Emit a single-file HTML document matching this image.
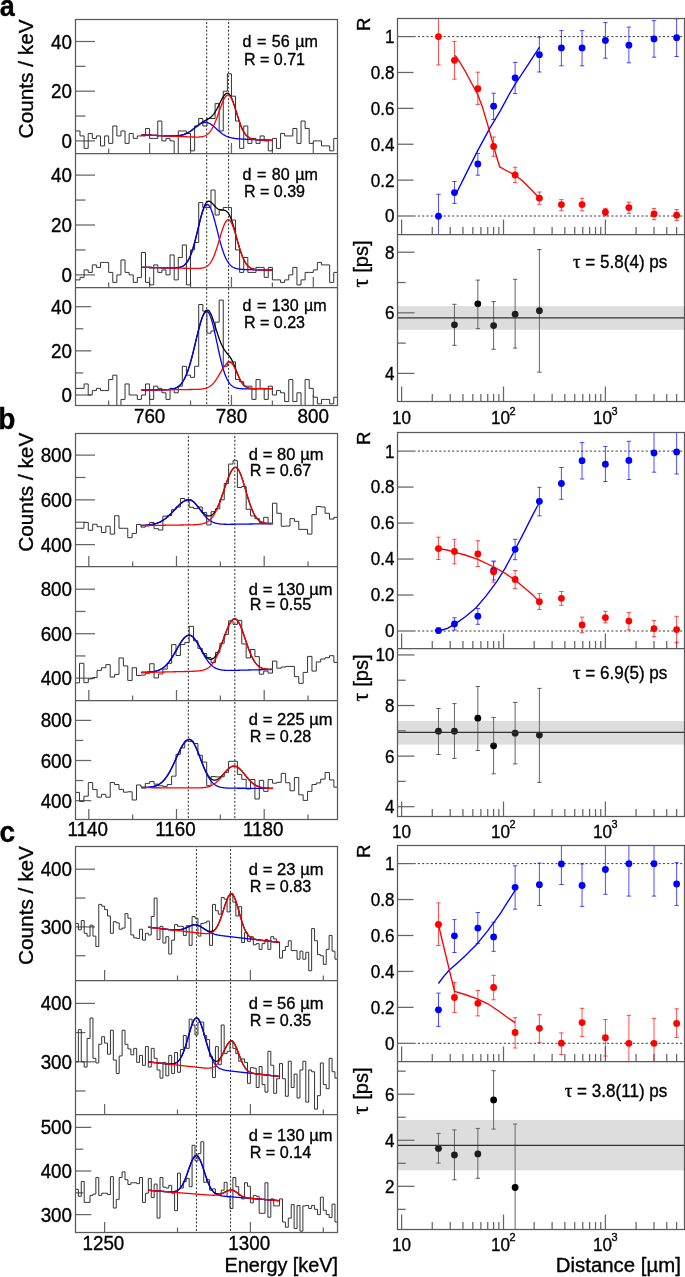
<!DOCTYPE html>
<html><head><meta charset="utf-8"><style>
html,body{margin:0;padding:0;background:#fff;overflow:hidden;}
svg{display:block;font-family:"Liberation Sans", sans-serif;}
text{stroke:#000;stroke-width:0.35px;paint-order:stroke;}
#t{position:absolute;left:0;top:0;will-change:transform;}
</style></head><body>
<svg width="685" height="1277" viewBox="0 0 685 1277">
<rect width="685" height="1277" fill="#fff"/>
<g id="left-a">
<line x1="206.69" y1="20" x2="206.69" y2="405" stroke="#111" stroke-width="0.9" stroke-dasharray="2,1.8" stroke-dashoffset="1.73"/>
<line x1="228.59" y1="20" x2="228.59" y2="405" stroke="#111" stroke-width="0.9" stroke-dasharray="2,1.8" stroke-dashoffset="1.73"/>
<clipPath id="cp-a0"><rect x="75.5" y="19.5" width="262.0" height="134.0"/></clipPath>
<line x1="75.5" y1="140.9" x2="95" y2="140.9" stroke="#666" stroke-width="1.25" />
<line x1="75.5" y1="91.2" x2="95" y2="91.2" stroke="#666" stroke-width="1.25" />
<line x1="75.5" y1="41.5" x2="95" y2="41.5" stroke="#666" stroke-width="1.25" />
<line x1="75.5" y1="116.05" x2="85.5" y2="116.05" stroke="#666" stroke-width="1.25" />
<line x1="75.5" y1="66.35" x2="85.5" y2="66.35" stroke="#666" stroke-width="1.25" />
<line x1="149.6" y1="153.5" x2="149.6" y2="143" stroke="#666" stroke-width="1.25" />
<line x1="231.45" y1="153.5" x2="231.45" y2="143" stroke="#666" stroke-width="1.25" />
<line x1="313.3" y1="153.5" x2="313.3" y2="143" stroke="#666" stroke-width="1.25" />
<line x1="108.67" y1="153.5" x2="108.67" y2="148.5" stroke="#666" stroke-width="1.25" />
<line x1="190.53" y1="153.5" x2="190.53" y2="148.5" stroke="#666" stroke-width="1.25" />
<line x1="272.38" y1="153.5" x2="272.38" y2="148.5" stroke="#666" stroke-width="1.25" />
<path d="M75.93,130.96 L80.03,130.96 L80.03,135.93 L84.12,135.93 L84.12,148.36 L88.21,148.36 L88.21,133.44 L92.3,133.44 L92.3,138.41 L96.4,138.41 L96.4,135.93 L100.49,135.93 L100.49,145.87 L104.58,145.87 L104.58,135.93 L108.67,135.93 L108.67,143.39 L112.77,143.39 L112.77,125.99 L116.86,125.99 L116.86,135.93 L120.95,135.93 L120.95,130.96 L125.04,130.96 L125.04,143.39 L129.14,143.39 L129.14,133.44 L133.23,133.44 L133.23,138.41 L137.32,138.41 L137.32,135.93 L141.41,135.93 L141.41,135.93 L145.51,135.93 L145.51,128.47 L149.6,128.47 L149.6,138.41 L153.69,138.41 L153.69,138.41 L157.78,138.41 L157.78,121.02 L161.88,121.02 L161.88,140.9 L165.97,140.9 L165.97,138.41 L170.06,138.41 L170.06,140.9 L174.16,140.9 L174.16,155.81 L178.25,155.81 L178.25,130.96 L182.34,130.96 L182.34,130.96 L186.43,130.96 L186.43,133.44 L190.53,133.44 L190.53,150.84 L194.62,150.84 L194.62,125.99 L198.71,125.99 L198.71,118.53 L202.8,118.53 L202.8,125.99 L206.89,125.99 L206.89,118.53 L210.99,118.53 L210.99,118.53 L215.08,118.53 L215.08,103.62 L219.17,103.62 L219.17,130.96 L223.26,130.96 L223.26,91.2 L227.36,91.2 L227.36,73.81 L231.45,73.81 L231.45,96.17 L235.54,96.17 L235.54,121.02 L239.63,121.02 L239.63,148.36 L243.73,148.36 L243.73,125.99 L247.82,125.99 L247.82,143.39 L251.91,143.39 L251.91,138.41 L256,138.41 L256,143.39 L260.1,143.39 L260.1,135.93 L264.19,135.93 L264.19,140.9 L268.28,140.9 L268.28,150.84 L272.38,150.84 L272.38,138.41 L276.47,138.41 L276.47,148.36 L280.56,148.36 L280.56,133.44 L284.65,133.44 L284.65,135.93 L288.75,135.93 L288.75,135.93 L292.84,135.93 L292.84,128.47 L296.93,128.47 L296.93,143.39 L301.02,143.39 L301.02,121.02 L305.12,121.02 L305.12,128.47 L309.21,128.47 L309.21,143.39 L313.3,143.39 L313.3,140.9 L317.39,140.9 L317.39,140.9 L321.49,140.9 L321.49,145.87 L325.58,145.87 L325.58,145.87 L329.67,145.87 L329.67,150.84 L333.76,150.84 L333.76,138.41 L337.5,138.41" fill="none" stroke="#333" stroke-width="1" clip-path="url(#cp-a0)"/>
<g clip-path="url(#cp-a0)">
<polyline points="141.41,134.84 141.85,134.86 142.29,134.88 142.72,134.9 143.16,134.92 143.6,134.94 144.03,134.95 144.47,134.97 144.91,134.99 145.34,135.01 145.78,135.03 146.22,135.05 146.65,135.06 147.09,135.08 147.53,135.1 147.96,135.12 148.4,135.14 148.84,135.16 149.27,135.18 149.71,135.19 150.15,135.21 150.58,135.23 151.02,135.25 151.46,135.27 151.89,135.29 152.33,135.3 152.76,135.32 153.2,135.34 153.64,135.36 154.07,135.38 154.51,135.4 154.95,135.42 155.38,135.43 155.82,135.45 156.26,135.47 156.69,135.49 157.13,135.51 157.57,135.53 158,135.54 158.44,135.56 158.88,135.58 159.31,135.6 159.75,135.62 160.19,135.63 160.62,135.65 161.06,135.67 161.5,135.69 161.93,135.7 162.37,135.72 162.81,135.74 163.24,135.76 163.68,135.77 164.11,135.79 164.55,135.81 164.99,135.82 165.42,135.84 165.86,135.85 166.3,135.87 166.73,135.88 167.17,135.9 167.61,135.91 168.04,135.92 168.48,135.93 168.92,135.94 169.35,135.95 169.79,135.96 170.23,135.97 170.66,135.98 171.1,135.98 171.54,135.99 171.97,135.99 172.41,135.99 172.85,135.99 173.28,135.98 173.72,135.97 174.16,135.96 174.59,135.95 175.03,135.94 175.46,135.92 175.9,135.89 176.34,135.87 176.77,135.84 177.21,135.8 177.65,135.76 178.08,135.72 178.52,135.67 178.96,135.61 179.39,135.55 179.83,135.48 180.27,135.41 180.7,135.32 181.14,135.23 181.58,135.14 182.01,135.03 182.45,134.92 182.89,134.8 183.32,134.66 183.76,134.52 184.2,134.37 184.63,134.21 185.07,134.04 185.5,133.86 185.94,133.67 186.38,133.47 186.81,133.26 187.25,133.04 187.69,132.81 188.12,132.57 188.56,132.32 189,132.05 189.43,131.78 189.87,131.5 190.31,131.21 190.74,130.91 191.18,130.61 191.62,130.29 192.05,129.97 192.49,129.64 192.93,129.31 193.36,128.97 193.8,128.63 194.24,128.28 194.67,127.94 195.11,127.59 195.55,127.23 195.98,126.88 196.42,126.53 196.85,126.19 197.29,125.84 197.73,125.5 198.16,125.16 198.6,124.83 199.04,124.5 199.47,124.18 199.91,123.87 200.35,123.56 200.78,123.27 201.22,122.97 201.66,122.69 202.09,122.41 202.53,122.15 202.97,121.88 203.4,121.63 203.84,121.38 204.28,121.13 204.71,120.89 205.15,120.65 205.59,120.41 206.02,120.17 206.46,119.93 206.89,119.68 207.33,119.44 207.77,119.19 208.2,118.93 208.64,118.66 209.08,118.38 209.51,118.08 209.95,117.76 210.39,117.43 210.82,117.07 211.26,116.69 211.7,116.28 212.13,115.84 212.57,115.38 213.01,114.88 213.44,114.35 213.88,113.78 214.32,113.18 214.75,112.54 215.19,111.88 215.63,111.18 216.06,110.44 216.5,109.68 216.94,108.89 217.37,108.07 217.81,107.23 218.24,106.37 218.68,105.5 219.12,104.61 219.55,103.73 219.99,102.84 220.43,101.95 220.86,101.08 221.3,100.22 221.74,99.39 222.17,98.58 222.61,97.81 223.05,97.08 223.48,96.4 223.92,95.77 224.36,95.21 224.79,94.7 225.23,94.27 225.67,93.91 226.1,93.62 226.54,93.42 226.98,93.3 227.41,93.27 227.85,93.33 228.29,93.48 228.72,93.74 229.16,94.1 229.59,94.58 230.03,95.16 230.47,95.85 230.9,96.63 231.34,97.51 231.78,98.48 232.21,99.53 232.65,100.65 233.09,101.84 233.52,103.09 233.96,104.39 234.4,105.73 234.83,107.11 235.27,108.52 235.71,109.94 236.14,111.37 236.58,112.81 237.02,114.23 237.45,115.65 237.89,117.05 238.33,118.42 238.76,119.76 239.2,121.06 239.63,122.33 240.07,123.55 240.51,124.72 240.94,125.84 241.38,126.91 241.82,127.93 242.25,128.9 242.69,129.81 243.13,130.66 243.56,131.46 244,132.21 244.44,132.91 244.87,133.56 245.31,134.15 245.75,134.71 246.18,135.21 246.62,135.68 247.06,136.1 247.49,136.49 247.93,136.84 248.37,137.16 248.8,137.45 249.24,137.71 249.68,137.94 250.11,138.15 250.55,138.34 250.98,138.51 251.42,138.66 251.86,138.79 252.29,138.92 252.73,139.02 253.17,139.12 253.6,139.2 254.04,139.28 254.48,139.35 254.91,139.41 255.35,139.47 255.79,139.52 256.22,139.56 256.66,139.6 257.1,139.64 257.53,139.68 257.97,139.71 258.41,139.74 258.84,139.77 259.28,139.79 259.72,139.82 260.15,139.84 260.59,139.87 261.03,139.89 261.46,139.91 261.9,139.93 262.33,139.95 262.77,139.97 263.21,139.99 263.64,140.01 264.08,140.03 264.52,140.05 264.95,140.07 265.39,140.09 265.83,140.11 266.26,140.13 266.7,140.15 267.14,140.16 267.57,140.18 268.01,140.2 268.45,140.22 268.88,140.24 269.32,140.26 269.76,140.28 270.19,140.29 270.63,140.31 271.07,140.33 271.5,140.35 271.94,140.37 272.38,140.39" fill="none" stroke="#000" stroke-width="1.3" stroke-linejoin="round" />
<polyline points="141.41,134.84 141.85,134.86 142.29,134.88 142.72,134.9 143.16,134.92 143.6,134.94 144.03,134.95 144.47,134.97 144.91,134.99 145.34,135.01 145.78,135.03 146.22,135.05 146.65,135.06 147.09,135.08 147.53,135.1 147.96,135.12 148.4,135.14 148.84,135.16 149.27,135.18 149.71,135.19 150.15,135.21 150.58,135.23 151.02,135.25 151.46,135.27 151.89,135.29 152.33,135.3 152.76,135.32 153.2,135.34 153.64,135.36 154.07,135.38 154.51,135.4 154.95,135.42 155.38,135.43 155.82,135.45 156.26,135.47 156.69,135.49 157.13,135.51 157.57,135.53 158,135.54 158.44,135.56 158.88,135.58 159.31,135.6 159.75,135.62 160.19,135.63 160.62,135.65 161.06,135.67 161.5,135.69 161.93,135.7 162.37,135.72 162.81,135.74 163.24,135.76 163.68,135.77 164.11,135.79 164.55,135.81 164.99,135.82 165.42,135.84 165.86,135.85 166.3,135.87 166.73,135.88 167.17,135.9 167.61,135.91 168.04,135.92 168.48,135.93 168.92,135.94 169.35,135.95 169.79,135.96 170.23,135.97 170.66,135.98 171.1,135.98 171.54,135.99 171.97,135.99 172.41,135.99 172.85,135.99 173.28,135.98 173.72,135.97 174.16,135.96 174.59,135.95 175.03,135.94 175.46,135.92 175.9,135.89 176.34,135.87 176.77,135.84 177.21,135.8 177.65,135.76 178.08,135.72 178.52,135.67 178.96,135.61 179.39,135.55 179.83,135.48 180.27,135.41 180.7,135.32 181.14,135.24 181.58,135.14 182.01,135.03 182.45,134.92 182.89,134.8 183.32,134.66 183.76,134.52 184.2,134.37 184.63,134.21 185.07,134.04 185.5,133.86 185.94,133.67 186.38,133.47 186.81,133.26 187.25,133.04 187.69,132.81 188.12,132.57 188.56,132.32 189,132.06 189.43,131.79 189.87,131.51 190.31,131.22 190.74,130.92 191.18,130.62 191.62,130.31 192.05,129.99 192.49,129.66 192.93,129.33 193.36,129 193.8,128.66 194.24,128.33 194.67,127.99 195.11,127.65 195.55,127.31 195.98,126.97 196.42,126.64 196.85,126.31 197.29,125.98 197.73,125.66 198.16,125.36 198.6,125.06 199.04,124.77 199.47,124.49 199.91,124.23 200.35,123.98 200.78,123.74 201.22,123.53 201.66,123.33 202.09,123.14 202.53,122.98 202.97,122.84 203.4,122.72 203.84,122.62 204.28,122.54 204.71,122.48 205.15,122.45 205.59,122.44 206.02,122.45 206.46,122.49 206.89,122.55 207.33,122.64 207.77,122.76 208.2,122.9 208.64,123.06 209.08,123.25 209.51,123.46 209.95,123.69 210.39,123.94 210.82,124.22 211.26,124.51 211.7,124.82 212.13,125.14 212.57,125.48 213.01,125.83 213.44,126.19 213.88,126.56 214.32,126.94 214.75,127.33 215.19,127.72 215.63,128.11 216.06,128.51 216.5,128.91 216.94,129.31 217.37,129.71 217.81,130.11 218.24,130.5 218.68,130.88 219.12,131.26 219.55,131.64 219.99,132 220.43,132.36 220.86,132.71 221.3,133.05 221.74,133.38 222.17,133.69 222.61,134 223.05,134.29 223.48,134.58 223.92,134.85 224.36,135.11 224.79,135.36 225.23,135.6 225.67,135.82 226.1,136.04 226.54,136.24 226.98,136.44 227.41,136.62 227.85,136.79 228.29,136.95 228.72,137.1 229.16,137.25 229.59,137.38 230.03,137.51 230.47,137.63 230.9,137.74 231.34,137.84 231.78,137.94 232.21,138.03 232.65,138.11 233.09,138.19 233.52,138.26 233.96,138.33 234.4,138.4 234.83,138.45 235.27,138.51 235.71,138.56 236.14,138.61 236.58,138.66 237.02,138.7 237.45,138.74 237.89,138.78 238.33,138.82 238.76,138.85 239.2,138.88 239.63,138.91 240.07,138.94 240.51,138.97 240.94,139 241.38,139.02 241.82,139.05 242.25,139.07 242.69,139.1 243.13,139.12 243.56,139.14 244,139.16 244.44,139.19 244.87,139.21 245.31,139.23 245.75,139.25 246.18,139.27 246.62,139.29 247.06,139.31 247.49,139.33 247.93,139.35 248.37,139.37 248.8,139.38 249.24,139.4 249.68,139.42 250.11,139.44 250.55,139.46 250.98,139.48 251.42,139.5 251.86,139.52 252.29,139.54 252.73,139.55 253.17,139.57 253.6,139.59 254.04,139.61 254.48,139.63 254.91,139.65 255.35,139.67 255.79,139.68 256.22,139.7 256.66,139.72 257.1,139.74 257.53,139.76 257.97,139.78 258.41,139.8 258.84,139.81 259.28,139.83 259.72,139.85 260.15,139.87 260.59,139.89 261.03,139.91 261.46,139.92 261.9,139.94 262.33,139.96 262.77,139.98 263.21,140 263.64,140.02 264.08,140.04 264.52,140.05 264.95,140.07 265.39,140.09 265.83,140.11 266.26,140.13 266.7,140.15 267.14,140.16 267.57,140.18 268.01,140.2 268.45,140.22 268.88,140.24 269.32,140.26 269.76,140.28 270.19,140.29 270.63,140.31 271.07,140.33 271.5,140.35 271.94,140.37 272.38,140.39" fill="none" stroke="#0000ff" stroke-width="1.3" stroke-linejoin="round" />
<polyline points="141.41,134.84 141.85,134.86 142.29,134.88 142.72,134.9 143.16,134.92 143.6,134.94 144.03,134.95 144.47,134.97 144.91,134.99 145.34,135.01 145.78,135.03 146.22,135.05 146.65,135.06 147.09,135.08 147.53,135.1 147.96,135.12 148.4,135.14 148.84,135.16 149.27,135.18 149.71,135.19 150.15,135.21 150.58,135.23 151.02,135.25 151.46,135.27 151.89,135.29 152.33,135.3 152.76,135.32 153.2,135.34 153.64,135.36 154.07,135.38 154.51,135.4 154.95,135.42 155.38,135.43 155.82,135.45 156.26,135.47 156.69,135.49 157.13,135.51 157.57,135.53 158,135.54 158.44,135.56 158.88,135.58 159.31,135.6 159.75,135.62 160.19,135.64 160.62,135.66 161.06,135.67 161.5,135.69 161.93,135.71 162.37,135.73 162.81,135.75 163.24,135.77 163.68,135.79 164.11,135.8 164.55,135.82 164.99,135.84 165.42,135.86 165.86,135.88 166.3,135.9 166.73,135.91 167.17,135.93 167.61,135.95 168.04,135.97 168.48,135.99 168.92,136.01 169.35,136.03 169.79,136.04 170.23,136.06 170.66,136.08 171.1,136.1 171.54,136.12 171.97,136.14 172.41,136.15 172.85,136.17 173.28,136.19 173.72,136.21 174.16,136.23 174.59,136.25 175.03,136.27 175.46,136.28 175.9,136.3 176.34,136.32 176.77,136.34 177.21,136.36 177.65,136.38 178.08,136.39 178.52,136.41 178.96,136.43 179.39,136.45 179.83,136.47 180.27,136.49 180.7,136.51 181.14,136.52 181.58,136.54 182.01,136.56 182.45,136.58 182.89,136.6 183.32,136.62 183.76,136.63 184.2,136.65 184.63,136.67 185.07,136.69 185.5,136.71 185.94,136.73 186.38,136.74 186.81,136.76 187.25,136.78 187.69,136.8 188.12,136.82 188.56,136.83 189,136.85 189.43,136.87 189.87,136.89 190.31,136.9 190.74,136.92 191.18,136.94 191.62,136.95 192.05,136.97 192.49,136.98 192.93,137 193.36,137.01 193.8,137.02 194.24,137.04 194.67,137.05 195.11,137.06 195.55,137.06 195.98,137.07 196.42,137.07 196.85,137.07 197.29,137.07 197.73,137.06 198.16,137.05 198.6,137.04 199.04,137.02 199.47,136.99 199.91,136.96 200.35,136.92 200.78,136.88 201.22,136.82 201.66,136.76 202.09,136.68 202.53,136.59 202.97,136.49 203.4,136.38 203.84,136.25 204.28,136.1 204.71,135.93 205.15,135.74 205.59,135.53 206.02,135.3 206.46,135.04 206.89,134.75 207.33,134.43 207.77,134.08 208.2,133.7 208.64,133.29 209.08,132.83 209.51,132.35 209.95,131.82 210.39,131.25 210.82,130.64 211.26,129.98 211.7,129.28 212.13,128.54 212.57,127.76 213.01,126.92 213.44,126.05 213.88,125.13 214.32,124.17 214.75,123.17 215.19,122.12 215.63,121.04 216.06,119.93 216.5,118.79 216.94,117.61 217.37,116.42 217.81,115.2 218.24,113.97 218.68,112.73 219.12,111.48 219.55,110.24 219.99,109 220.43,107.78 220.86,106.58 221.3,105.4 221.74,104.25 222.17,103.15 222.61,102.09 223.05,101.09 223.48,100.14 223.92,99.26 224.36,98.45 224.79,97.71 225.23,97.06 225.67,96.49 226.1,96.01 226.54,95.62 226.98,95.33 227.41,95.14 227.85,95.04 228.29,95.05 228.72,95.17 229.16,95.41 229.59,95.77 230.03,96.25 230.47,96.83 230.9,97.53 231.34,98.32 231.78,99.21 232.21,100.18 232.65,101.24 233.09,102.37 233.52,103.57 233.96,104.82 234.4,106.12 234.83,107.45 235.27,108.82 235.71,110.21 236.14,111.61 236.58,113.02 237.02,114.42 237.45,115.82 237.89,117.19 238.33,118.55 238.76,119.87 239.2,121.16 239.63,122.41 240.07,123.62 240.51,124.79 240.94,125.9 241.38,126.97 241.82,127.98 242.25,128.94 242.69,129.84 243.13,130.69 243.56,131.49 244,132.23 244.44,132.93 244.87,133.57 245.31,134.17 245.75,134.72 246.18,135.22 246.62,135.69 247.06,136.11 247.49,136.49 247.93,136.84 248.37,137.16 248.8,137.45 249.24,137.71 249.68,137.94 250.11,138.15 250.55,138.34 250.98,138.51 251.42,138.66 251.86,138.8 252.29,138.92 252.73,139.02 253.17,139.12 253.6,139.21 254.04,139.28 254.48,139.35 254.91,139.41 255.35,139.47 255.79,139.52 256.22,139.56 256.66,139.6 257.1,139.64 257.53,139.68 257.97,139.71 258.41,139.74 258.84,139.77 259.28,139.79 259.72,139.82 260.15,139.84 260.59,139.87 261.03,139.89 261.46,139.91 261.9,139.93 262.33,139.95 262.77,139.97 263.21,139.99 263.64,140.01 264.08,140.03 264.52,140.05 264.95,140.07 265.39,140.09 265.83,140.11 266.26,140.13 266.7,140.15 267.14,140.16 267.57,140.18 268.01,140.2 268.45,140.22 268.88,140.24 269.32,140.26 269.76,140.28 270.19,140.29 270.63,140.31 271.07,140.33 271.5,140.35 271.94,140.37 272.38,140.39" fill="none" stroke="#ff0000" stroke-width="1.3" stroke-linejoin="round" />
</g>
<clipPath id="cp-a1"><rect x="75.5" y="153.5" width="262.0" height="134.0"/></clipPath>
<line x1="75.5" y1="274.9" x2="95" y2="274.9" stroke="#666" stroke-width="1.25" />
<line x1="75.5" y1="225" x2="95" y2="225" stroke="#666" stroke-width="1.25" />
<line x1="75.5" y1="175.1" x2="95" y2="175.1" stroke="#666" stroke-width="1.25" />
<line x1="75.5" y1="249.95" x2="85.5" y2="249.95" stroke="#666" stroke-width="1.25" />
<line x1="75.5" y1="200.05" x2="85.5" y2="200.05" stroke="#666" stroke-width="1.25" />
<line x1="149.6" y1="287.5" x2="149.6" y2="277" stroke="#666" stroke-width="1.25" />
<line x1="231.45" y1="287.5" x2="231.45" y2="277" stroke="#666" stroke-width="1.25" />
<line x1="313.3" y1="287.5" x2="313.3" y2="277" stroke="#666" stroke-width="1.25" />
<line x1="108.67" y1="287.5" x2="108.67" y2="282.5" stroke="#666" stroke-width="1.25" />
<line x1="190.53" y1="287.5" x2="190.53" y2="282.5" stroke="#666" stroke-width="1.25" />
<line x1="272.38" y1="287.5" x2="272.38" y2="282.5" stroke="#666" stroke-width="1.25" />
<path d="M75.93,279.89 L80.03,279.89 L80.03,277.39 L84.12,277.39 L84.12,269.91 L88.21,269.91 L88.21,272.4 L92.3,272.4 L92.3,264.92 L96.4,264.92 L96.4,267.41 L100.49,267.41 L100.49,262.42 L104.58,262.42 L104.58,262.42 L108.67,262.42 L108.67,272.4 L112.77,272.4 L112.77,282.38 L116.86,282.38 L116.86,274.9 L120.95,274.9 L120.95,259.93 L125.04,259.93 L125.04,272.4 L129.14,272.4 L129.14,274.9 L133.23,274.9 L133.23,282.38 L137.32,282.38 L137.32,277.39 L141.41,277.39 L141.41,252.44 L145.51,252.44 L145.51,282.38 L149.6,282.38 L149.6,284.88 L153.69,284.88 L153.69,264.92 L157.78,264.92 L157.78,272.4 L161.88,272.4 L161.88,269.91 L165.97,269.91 L165.97,274.9 L170.06,274.9 L170.06,254.94 L174.16,254.94 L174.16,279.89 L178.25,279.89 L178.25,257.44 L182.34,257.44 L182.34,244.96 L186.43,244.96 L186.43,284.88 L190.53,284.88 L190.53,249.95 L194.62,249.95 L194.62,242.46 L198.71,242.46 L198.71,202.54 L202.8,202.54 L202.8,207.53 L206.89,207.53 L206.89,207.53 L210.99,207.53 L210.99,190.07 L215.08,190.07 L215.08,215.02 L219.17,215.02 L219.17,210.03 L223.26,210.03 L223.26,207.53 L227.36,207.53 L227.36,207.53 L231.45,207.53 L231.45,220.01 L235.54,220.01 L235.54,249.95 L239.63,249.95 L239.63,272.4 L243.73,272.4 L243.73,257.44 L247.82,257.44 L247.82,272.4 L251.91,272.4 L251.91,272.4 L256,272.4 L256,267.41 L260.1,267.41 L260.1,267.41 L264.19,267.41 L264.19,277.39 L268.28,277.39 L268.28,267.41 L272.38,267.41 L272.38,279.89 L276.47,279.89 L276.47,279.89 L280.56,279.89 L280.56,282.38 L284.65,282.38 L284.65,279.89 L288.75,279.89 L288.75,274.9 L292.84,274.9 L292.84,267.41 L296.93,267.41 L296.93,284.88 L301.02,284.88 L301.02,279.89 L305.12,279.89 L305.12,272.4 L309.21,272.4 L309.21,272.4 L313.3,272.4 L313.3,269.91 L317.39,269.91 L317.39,262.42 L321.49,262.42 L321.49,264.92 L325.58,264.92 L325.58,264.92 L329.67,264.92 L329.67,282.38 L333.76,282.38 L333.76,272.4 L337.5,272.4" fill="none" stroke="#333" stroke-width="1" clip-path="url(#cp-a1)"/>
<g clip-path="url(#cp-a1)">
<polyline points="141.41,267.3 141.85,267.31 142.29,267.32 142.72,267.33 143.16,267.34 143.6,267.35 144.03,267.36 144.47,267.37 144.91,267.38 145.34,267.39 145.78,267.4 146.22,267.41 146.65,267.42 147.09,267.43 147.53,267.44 147.96,267.45 148.4,267.46 148.84,267.47 149.27,267.48 149.71,267.48 150.15,267.49 150.58,267.5 151.02,267.51 151.46,267.52 151.89,267.53 152.33,267.54 152.76,267.55 153.2,267.56 153.64,267.57 154.07,267.58 154.51,267.59 154.95,267.6 155.38,267.61 155.82,267.62 156.26,267.63 156.69,267.64 157.13,267.65 157.57,267.66 158,267.67 158.44,267.68 158.88,267.69 159.31,267.7 159.75,267.7 160.19,267.71 160.62,267.72 161.06,267.73 161.5,267.74 161.93,267.75 162.37,267.76 162.81,267.77 163.24,267.78 163.68,267.79 164.11,267.8 164.55,267.81 164.99,267.82 165.42,267.83 165.86,267.84 166.3,267.84 166.73,267.85 167.17,267.86 167.61,267.87 168.04,267.88 168.48,267.89 168.92,267.89 169.35,267.9 169.79,267.9 170.23,267.91 170.66,267.91 171.1,267.92 171.54,267.92 171.97,267.92 172.41,267.92 172.85,267.92 173.28,267.92 173.72,267.91 174.16,267.9 174.59,267.89 175.03,267.87 175.46,267.85 175.9,267.83 176.34,267.8 176.77,267.77 177.21,267.72 177.65,267.68 178.08,267.62 178.52,267.55 178.96,267.47 179.39,267.38 179.83,267.28 180.27,267.16 180.7,267.03 181.14,266.88 181.58,266.71 182.01,266.52 182.45,266.31 182.89,266.07 183.32,265.8 183.76,265.51 184.2,265.18 184.63,264.82 185.07,264.42 185.5,263.98 185.94,263.5 186.38,262.98 186.81,262.41 187.25,261.79 187.69,261.12 188.12,260.4 188.56,259.62 189,258.78 189.43,257.89 189.87,256.93 190.31,255.91 190.74,254.83 191.18,253.69 191.62,252.49 192.05,251.22 192.49,249.89 192.93,248.49 193.36,247.04 193.8,245.54 194.24,243.97 194.67,242.36 195.11,240.7 195.55,239 195.98,237.26 196.42,235.49 196.85,233.69 197.29,231.87 197.73,230.04 198.16,228.2 198.6,226.37 199.04,224.54 199.47,222.73 199.91,220.95 200.35,219.21 200.78,217.5 201.22,215.85 201.66,214.26 202.09,212.73 202.53,211.27 202.97,209.9 203.4,208.62 203.84,207.42 204.28,206.33 204.71,205.34 205.15,204.45 205.59,203.68 206.02,203.01 206.46,202.45 206.89,202.01 207.33,201.67 207.77,201.43 208.2,201.28 208.64,201.22 209.08,201.24 209.51,201.33 209.95,201.49 210.39,201.72 210.82,202.01 211.26,202.35 211.7,202.73 212.13,203.15 212.57,203.6 213.01,204.07 213.44,204.56 213.88,205.05 214.32,205.54 214.75,206.02 215.19,206.5 215.63,206.95 216.06,207.38 216.5,207.79 216.94,208.16 217.37,208.49 217.81,208.8 218.24,209.06 218.68,209.29 219.12,209.48 219.55,209.64 219.99,209.76 220.43,209.86 220.86,209.93 221.3,209.98 221.74,210.01 222.17,210.04 222.61,210.06 223.05,210.09 223.48,210.13 223.92,210.19 224.36,210.27 224.79,210.38 225.23,210.53 225.67,210.73 226.1,210.98 226.54,211.29 226.98,211.66 227.41,212.09 227.85,212.6 228.29,213.18 228.72,213.84 229.16,214.59 229.59,215.41 230.03,216.32 230.47,217.31 230.9,218.38 231.34,219.53 231.78,220.75 232.21,222.04 232.65,223.39 233.09,224.8 233.52,226.26 233.96,227.77 234.4,229.31 234.83,230.89 235.27,232.49 235.71,234.1 236.14,235.73 236.58,237.35 237.02,238.98 237.45,240.59 237.89,242.18 238.33,243.74 238.76,245.28 239.2,246.78 239.63,248.24 240.07,249.66 240.51,251.03 240.94,252.35 241.38,253.62 241.82,254.83 242.25,255.98 242.69,257.08 243.13,258.11 243.56,259.09 244,260.01 244.44,260.87 244.87,261.68 245.31,262.43 245.75,263.13 246.18,263.78 246.62,264.38 247.06,264.92 247.49,265.43 247.93,265.89 248.37,266.31 248.8,266.7 249.24,267.05 249.68,267.36 250.11,267.65 250.55,267.9 250.98,268.14 251.42,268.34 251.86,268.53 252.29,268.69 252.73,268.84 253.17,268.97 253.6,269.09 254.04,269.19 254.48,269.28 254.91,269.37 255.35,269.44 255.79,269.5 256.22,269.56 256.66,269.61 257.1,269.65 257.53,269.69 257.97,269.73 258.41,269.76 258.84,269.79 259.28,269.81 259.72,269.83 260.15,269.85 260.59,269.87 261.03,269.89 261.46,269.91 261.9,269.92 262.33,269.94 262.77,269.95 263.21,269.96 263.64,269.97 264.08,269.99 264.52,270 264.95,270.01 265.39,270.02 265.83,270.03 266.26,270.04 266.7,270.05 267.14,270.06 267.57,270.07 268.01,270.08 268.45,270.09 268.88,270.1 269.32,270.11 269.76,270.12 270.19,270.13 270.63,270.14 271.07,270.15 271.5,270.16 271.94,270.17 272.38,270.18" fill="none" stroke="#000" stroke-width="1.3" stroke-linejoin="round" />
<polyline points="141.41,267.3 141.85,267.31 142.29,267.32 142.72,267.33 143.16,267.34 143.6,267.35 144.03,267.36 144.47,267.37 144.91,267.38 145.34,267.39 145.78,267.4 146.22,267.41 146.65,267.42 147.09,267.43 147.53,267.44 147.96,267.45 148.4,267.46 148.84,267.47 149.27,267.48 149.71,267.48 150.15,267.49 150.58,267.5 151.02,267.51 151.46,267.52 151.89,267.53 152.33,267.54 152.76,267.55 153.2,267.56 153.64,267.57 154.07,267.58 154.51,267.59 154.95,267.6 155.38,267.61 155.82,267.62 156.26,267.63 156.69,267.64 157.13,267.65 157.57,267.66 158,267.67 158.44,267.68 158.88,267.69 159.31,267.7 159.75,267.7 160.19,267.71 160.62,267.72 161.06,267.73 161.5,267.74 161.93,267.75 162.37,267.76 162.81,267.77 163.24,267.78 163.68,267.79 164.11,267.8 164.55,267.81 164.99,267.82 165.42,267.83 165.86,267.84 166.3,267.84 166.73,267.85 167.17,267.86 167.61,267.87 168.04,267.88 168.48,267.89 168.92,267.89 169.35,267.9 169.79,267.9 170.23,267.91 170.66,267.91 171.1,267.92 171.54,267.92 171.97,267.92 172.41,267.92 172.85,267.92 173.28,267.92 173.72,267.91 174.16,267.9 174.59,267.89 175.03,267.87 175.46,267.85 175.9,267.83 176.34,267.8 176.77,267.77 177.21,267.72 177.65,267.68 178.08,267.62 178.52,267.55 178.96,267.47 179.39,267.38 179.83,267.28 180.27,267.16 180.7,267.03 181.14,266.88 181.58,266.71 182.01,266.52 182.45,266.31 182.89,266.07 183.32,265.8 183.76,265.51 184.2,265.18 184.63,264.82 185.07,264.42 185.5,263.98 185.94,263.5 186.38,262.98 186.81,262.41 187.25,261.79 187.69,261.12 188.12,260.4 188.56,259.62 189,258.78 189.43,257.89 189.87,256.93 190.31,255.92 190.74,254.84 191.18,253.7 191.62,252.49 192.05,251.23 192.49,249.9 192.93,248.51 193.36,247.06 193.8,245.56 194.24,244 194.67,242.39 195.11,240.74 195.55,239.05 195.98,237.31 196.42,235.55 196.85,233.77 197.29,231.96 197.73,230.15 198.16,228.34 198.6,226.53 199.04,224.73 199.47,222.96 199.91,221.21 200.35,219.51 200.78,217.86 201.22,216.27 201.66,214.74 202.09,213.29 202.53,211.93 202.97,210.66 203.4,209.49 203.84,208.43 204.28,207.48 204.71,206.66 205.15,205.96 205.59,205.39 206.02,204.96 206.46,204.67 206.89,204.51 207.33,204.5 207.77,204.61 208.2,204.85 208.64,205.21 209.08,205.69 209.51,206.29 209.95,207.01 210.39,207.84 210.82,208.77 211.26,209.81 211.7,210.94 212.13,212.16 212.57,213.46 213.01,214.84 213.44,216.29 213.88,217.8 214.32,219.36 214.75,220.97 215.19,222.62 215.63,224.3 216.06,226 216.5,227.72 216.94,229.45 217.37,231.18 217.81,232.91 218.24,234.62 218.68,236.32 219.12,238 219.55,239.65 219.99,241.26 220.43,242.84 220.86,244.38 221.3,245.88 221.74,247.32 222.17,248.72 222.61,250.07 223.05,251.36 223.48,252.6 223.92,253.79 224.36,254.91 224.79,255.99 225.23,257 225.67,257.96 226.1,258.87 226.54,259.72 226.98,260.52 227.41,261.27 227.85,261.97 228.29,262.63 228.72,263.24 229.16,263.8 229.59,264.32 230.03,264.8 230.47,265.25 230.9,265.66 231.34,266.03 231.78,266.38 232.21,266.69 232.65,266.98 233.09,267.24 233.52,267.48 233.96,267.7 234.4,267.89 234.83,268.07 235.27,268.23 235.71,268.37 236.14,268.5 236.58,268.62 237.02,268.73 237.45,268.82 237.89,268.9 238.33,268.98 238.76,269.05 239.2,269.11 239.63,269.17 240.07,269.21 240.51,269.26 240.94,269.3 241.38,269.34 241.82,269.37 242.25,269.4 242.69,269.42 243.13,269.45 243.56,269.47 244,269.49 244.44,269.51 244.87,269.53 245.31,269.55 245.75,269.56 246.18,269.58 246.62,269.59 247.06,269.6 247.49,269.62 247.93,269.63 248.37,269.64 248.8,269.65 249.24,269.66 249.68,269.67 250.11,269.68 250.55,269.69 250.98,269.7 251.42,269.71 251.86,269.72 252.29,269.73 252.73,269.74 253.17,269.75 253.6,269.76 254.04,269.77 254.48,269.78 254.91,269.79 255.35,269.8 255.79,269.81 256.22,269.82 256.66,269.83 257.1,269.84 257.53,269.85 257.97,269.86 258.41,269.87 258.84,269.88 259.28,269.89 259.72,269.9 260.15,269.91 260.59,269.92 261.03,269.93 261.46,269.94 261.9,269.95 262.33,269.96 262.77,269.97 263.21,269.98 263.64,269.99 264.08,269.99 264.52,270 264.95,270.01 265.39,270.02 265.83,270.03 266.26,270.04 266.7,270.05 267.14,270.06 267.57,270.07 268.01,270.08 268.45,270.09 268.88,270.1 269.32,270.11 269.76,270.12 270.19,270.13 270.63,270.14 271.07,270.15 271.5,270.16 271.94,270.17 272.38,270.18" fill="none" stroke="#0000ff" stroke-width="1.3" stroke-linejoin="round" />
<polyline points="141.41,267.3 141.85,267.31 142.29,267.32 142.72,267.33 143.16,267.34 143.6,267.35 144.03,267.36 144.47,267.37 144.91,267.38 145.34,267.39 145.78,267.4 146.22,267.41 146.65,267.42 147.09,267.43 147.53,267.44 147.96,267.45 148.4,267.46 148.84,267.47 149.27,267.48 149.71,267.48 150.15,267.49 150.58,267.5 151.02,267.51 151.46,267.52 151.89,267.53 152.33,267.54 152.76,267.55 153.2,267.56 153.64,267.57 154.07,267.58 154.51,267.59 154.95,267.6 155.38,267.61 155.82,267.62 156.26,267.63 156.69,267.64 157.13,267.65 157.57,267.66 158,267.67 158.44,267.68 158.88,267.69 159.31,267.7 159.75,267.71 160.19,267.71 160.62,267.72 161.06,267.73 161.5,267.74 161.93,267.75 162.37,267.76 162.81,267.77 163.24,267.78 163.68,267.79 164.11,267.8 164.55,267.81 164.99,267.82 165.42,267.83 165.86,267.84 166.3,267.85 166.73,267.86 167.17,267.87 167.61,267.88 168.04,267.89 168.48,267.9 168.92,267.91 169.35,267.92 169.79,267.93 170.23,267.93 170.66,267.94 171.1,267.95 171.54,267.96 171.97,267.97 172.41,267.98 172.85,267.99 173.28,268 173.72,268.01 174.16,268.02 174.59,268.03 175.03,268.04 175.46,268.05 175.9,268.06 176.34,268.07 176.77,268.08 177.21,268.09 177.65,268.1 178.08,268.11 178.52,268.12 178.96,268.13 179.39,268.14 179.83,268.15 180.27,268.16 180.7,268.16 181.14,268.17 181.58,268.18 182.01,268.19 182.45,268.2 182.89,268.21 183.32,268.22 183.76,268.23 184.2,268.24 184.63,268.25 185.07,268.26 185.5,268.27 185.94,268.28 186.38,268.29 186.81,268.3 187.25,268.31 187.69,268.32 188.12,268.33 188.56,268.34 189,268.34 189.43,268.35 189.87,268.36 190.31,268.37 190.74,268.38 191.18,268.39 191.62,268.4 192.05,268.4 192.49,268.41 192.93,268.42 193.36,268.43 193.8,268.43 194.24,268.44 194.67,268.44 195.11,268.44 195.55,268.44 195.98,268.45 196.42,268.44 196.85,268.44 197.29,268.43 197.73,268.43 198.16,268.41 198.6,268.4 199.04,268.38 199.47,268.36 199.91,268.33 200.35,268.29 200.78,268.25 201.22,268.2 201.66,268.14 202.09,268.07 202.53,267.99 202.97,267.9 203.4,267.79 203.84,267.67 204.28,267.53 204.71,267.37 205.15,267.19 205.59,266.99 206.02,266.77 206.46,266.52 206.89,266.24 207.33,265.93 207.77,265.58 208.2,265.2 208.64,264.79 209.08,264.33 209.51,263.83 209.95,263.29 210.39,262.7 210.82,262.07 211.26,261.38 211.7,260.64 212.13,259.85 212.57,259 213.01,258.11 213.44,257.15 213.88,256.14 214.32,255.08 214.75,253.97 215.19,252.8 215.63,251.58 216.06,250.32 216.5,249.01 216.94,247.67 217.37,246.28 217.81,244.87 218.24,243.43 218.68,241.96 219.12,240.49 219.55,239.01 219.99,237.53 220.43,236.05 220.86,234.59 221.3,233.16 221.74,231.76 222.17,230.39 222.61,229.08 223.05,227.82 223.48,226.63 223.92,225.51 224.36,224.48 224.79,223.53 225.23,222.67 225.67,221.92 226.1,221.27 226.54,220.73 226.98,220.31 227.41,220.01 227.85,219.83 228.29,219.76 228.72,219.83 229.16,220.02 229.59,220.33 230.03,220.77 230.47,221.32 230.9,221.99 231.34,222.77 231.78,223.66 232.21,224.64 232.65,225.71 233.09,226.87 233.52,228.1 233.96,229.4 234.4,230.76 234.83,232.17 235.27,233.62 235.71,235.1 236.14,236.61 236.58,238.12 237.02,239.65 237.45,241.18 237.89,242.69 238.33,244.19 238.76,245.67 239.2,247.12 239.63,248.54 240.07,249.92 240.51,251.25 240.94,252.54 241.38,253.78 241.82,254.97 242.25,256.1 242.69,257.18 243.13,258.2 243.56,259.16 244,260.07 244.44,260.93 244.87,261.73 245.31,262.47 245.75,263.16 246.18,263.8 246.62,264.4 247.06,264.94 247.49,265.45 247.93,265.9 248.37,266.32 248.8,266.71 249.24,267.05 249.68,267.37 250.11,267.65 250.55,267.91 250.98,268.14 251.42,268.35 251.86,268.53 252.29,268.7 252.73,268.84 253.17,268.97 253.6,269.09 254.04,269.19 254.48,269.28 254.91,269.37 255.35,269.44 255.79,269.5 256.22,269.56 256.66,269.61 257.1,269.65 257.53,269.69 257.97,269.73 258.41,269.76 258.84,269.79 259.28,269.81 259.72,269.83 260.15,269.85 260.59,269.87 261.03,269.89 261.46,269.91 261.9,269.92 262.33,269.94 262.77,269.95 263.21,269.96 263.64,269.97 264.08,269.99 264.52,270 264.95,270.01 265.39,270.02 265.83,270.03 266.26,270.04 266.7,270.05 267.14,270.06 267.57,270.07 268.01,270.08 268.45,270.09 268.88,270.1 269.32,270.11 269.76,270.12 270.19,270.13 270.63,270.14 271.07,270.15 271.5,270.16 271.94,270.17 272.38,270.18" fill="none" stroke="#ff0000" stroke-width="1.3" stroke-linejoin="round" />
</g>
<clipPath id="cp-a2"><rect x="75.5" y="287.5" width="262.0" height="118.0"/></clipPath>
<line x1="75.5" y1="395" x2="91.25" y2="395" stroke="#666" stroke-width="1.25" />
<line x1="75.5" y1="350.85" x2="91.25" y2="350.85" stroke="#666" stroke-width="1.25" />
<line x1="75.5" y1="306.7" x2="91.25" y2="306.7" stroke="#666" stroke-width="1.25" />
<line x1="75.5" y1="372.93" x2="83.25" y2="372.93" stroke="#666" stroke-width="1.25" />
<line x1="75.5" y1="328.77" x2="83.25" y2="328.77" stroke="#666" stroke-width="1.25" />
<line x1="149.6" y1="405.5" x2="149.6" y2="395" stroke="#666" stroke-width="1.25" />
<line x1="231.45" y1="405.5" x2="231.45" y2="395" stroke="#666" stroke-width="1.25" />
<line x1="313.3" y1="405.5" x2="313.3" y2="395" stroke="#666" stroke-width="1.25" />
<line x1="108.67" y1="405.5" x2="108.67" y2="400.5" stroke="#666" stroke-width="1.25" />
<line x1="190.53" y1="405.5" x2="190.53" y2="400.5" stroke="#666" stroke-width="1.25" />
<line x1="272.38" y1="405.5" x2="272.38" y2="400.5" stroke="#666" stroke-width="1.25" />
<path d="M75.93,388.38 L80.03,388.38 L80.03,388.38 L84.12,388.38 L84.12,383.96 L88.21,383.96 L88.21,395 L92.3,395 L92.3,390.58 L96.4,390.58 L96.4,388.38 L100.49,388.38 L100.49,390.58 L104.58,390.58 L104.58,390.58 L108.67,390.58 L108.67,379.55 L112.77,379.55 L112.77,375.13 L116.86,375.13 L116.86,410.45 L120.95,410.45 L120.95,399.42 L125.04,399.42 L125.04,383.96 L129.14,383.96 L129.14,395 L133.23,395 L133.23,395 L137.32,395 L137.32,399.42 L141.41,399.42 L141.41,395 L145.51,395 L145.51,383.96 L149.6,383.96 L149.6,399.42 L153.69,399.42 L153.69,386.17 L157.78,386.17 L157.78,388.38 L161.88,388.38 L161.88,392.79 L165.97,392.79 L165.97,399.42 L170.06,399.42 L170.06,388.38 L174.16,388.38 L174.16,392.79 L178.25,392.79 L178.25,386.17 L182.34,386.17 L182.34,366.3 L186.43,366.3 L186.43,375.13 L190.53,375.13 L190.53,377.34 L194.62,377.34 L194.62,366.3 L198.71,366.3 L198.71,304.49 L202.8,304.49 L202.8,311.12 L206.89,311.12 L206.89,333.19 L210.99,333.19 L210.99,330.98 L215.08,330.98 L215.08,322.15 L219.17,322.15 L219.17,300.08 L223.26,300.08 L223.26,366.3 L227.36,366.3 L227.36,361.89 L231.45,361.89 L231.45,361.89 L235.54,361.89 L235.54,379.55 L239.63,379.55 L239.63,381.75 L243.73,381.75 L243.73,386.17 L247.82,386.17 L247.82,386.17 L251.91,386.17 L251.91,399.42 L256,399.42 L256,379.55 L260.1,379.55 L260.1,388.38 L264.19,388.38 L264.19,399.42 L268.28,399.42 L268.28,386.17 L272.38,386.17 L272.38,395 L276.47,395 L276.47,390.58 L280.56,390.58 L280.56,392.79 L284.65,392.79 L284.65,401.62 L288.75,401.62 L288.75,379.55 L292.84,379.55 L292.84,401.62 L296.93,401.62 L296.93,392.79 L301.02,392.79 L301.02,410.45 L305.12,410.45 L305.12,379.55 L309.21,379.55 L309.21,388.38 L313.3,388.38 L313.3,397.21 L317.39,397.21 L317.39,403.83 L321.49,403.83 L321.49,399.42 L325.58,399.42 L325.58,399.42 L329.67,399.42 L329.67,403.83 L333.76,403.83 L333.76,397.21 L337.5,397.21" fill="none" stroke="#333" stroke-width="1" clip-path="url(#cp-a2)"/>
<g clip-path="url(#cp-a2)">
<polyline points="141.41,390.09 141.85,390.08 142.29,390.08 142.72,390.07 143.16,390.07 143.6,390.06 144.03,390.06 144.47,390.05 144.91,390.05 145.34,390.04 145.78,390.04 146.22,390.03 146.65,390.03 147.09,390.02 147.53,390.02 147.96,390.01 148.4,390.01 148.84,390 149.27,390 149.71,389.99 150.15,389.99 150.58,389.98 151.02,389.98 151.46,389.97 151.89,389.96 152.33,389.96 152.76,389.95 153.2,389.95 153.64,389.94 154.07,389.94 154.51,389.93 154.95,389.93 155.38,389.92 155.82,389.92 156.26,389.91 156.69,389.9 157.13,389.9 157.57,389.89 158,389.89 158.44,389.88 158.88,389.87 159.31,389.87 159.75,389.86 160.19,389.85 160.62,389.84 161.06,389.84 161.5,389.83 161.93,389.82 162.37,389.81 162.81,389.8 163.24,389.79 163.68,389.77 164.11,389.76 164.55,389.75 164.99,389.73 165.42,389.71 165.86,389.7 166.3,389.67 166.73,389.65 167.17,389.63 167.61,389.6 168.04,389.57 168.48,389.53 168.92,389.49 169.35,389.45 169.79,389.4 170.23,389.35 170.66,389.29 171.1,389.23 171.54,389.16 171.97,389.08 172.41,388.99 172.85,388.9 173.28,388.79 173.72,388.67 174.16,388.54 174.59,388.4 175.03,388.24 175.46,388.07 175.9,387.89 176.34,387.68 176.77,387.46 177.21,387.21 177.65,386.95 178.08,386.66 178.52,386.34 178.96,386 179.39,385.63 179.83,385.23 180.27,384.8 180.7,384.34 181.14,383.84 181.58,383.31 182.01,382.74 182.45,382.12 182.89,381.47 183.32,380.77 183.76,380.03 184.2,379.25 184.63,378.41 185.07,377.53 185.5,376.6 185.94,375.62 186.38,374.59 186.81,373.5 187.25,372.36 187.69,371.18 188.12,369.94 188.56,368.64 189,367.3 189.43,365.91 189.87,364.46 190.31,362.97 190.74,361.43 191.18,359.85 191.62,358.23 192.05,356.57 192.49,354.87 192.93,353.14 193.36,351.39 193.8,349.6 194.24,347.8 194.67,345.98 195.11,344.15 195.55,342.31 195.98,340.47 196.42,338.63 196.85,336.81 197.29,335 197.73,333.21 198.16,331.45 198.6,329.72 199.04,328.03 199.47,326.39 199.91,324.8 200.35,323.26 200.78,321.79 201.22,320.39 201.66,319.05 202.09,317.8 202.53,316.63 202.97,315.54 203.4,314.54 203.84,313.64 204.28,312.83 204.71,312.12 205.15,311.51 205.59,311.01 206.02,310.6 206.46,310.3 206.89,310.1 207.33,310.03 207.77,310.08 208.2,310.27 208.64,310.58 209.08,311.02 209.51,311.57 209.95,312.23 210.39,313.01 210.82,313.88 211.26,314.84 211.7,315.89 212.13,317.01 212.57,318.2 213.01,319.45 213.44,320.75 213.88,322.09 214.32,323.46 214.75,324.86 215.19,326.27 215.63,327.69 216.06,329.11 216.5,330.52 216.94,331.92 217.37,333.29 217.81,334.64 218.24,335.95 218.68,337.23 219.12,338.47 219.55,339.67 219.99,340.81 220.43,341.91 220.86,342.96 221.3,343.96 221.74,344.91 222.17,345.82 222.61,346.67 223.05,347.48 223.48,348.25 223.92,348.98 224.36,349.67 224.79,350.33 225.23,350.96 225.67,351.56 226.1,352.14 226.54,352.71 226.98,353.26 227.41,353.8 227.85,354.34 228.29,354.87 228.72,355.41 229.16,355.95 229.59,356.5 230.03,357.07 230.47,357.7 230.9,358.38 231.34,359.13 231.78,359.93 232.21,360.78 232.65,361.69 233.09,362.64 233.52,363.63 233.96,364.66 234.4,365.72 234.83,366.81 235.27,367.91 235.71,369.03 236.14,370.14 236.58,371.26 237.02,372.36 237.45,373.45 237.89,374.52 238.33,375.56 238.76,376.57 239.2,377.54 239.63,378.47 240.07,379.36 240.51,380.2 240.94,381 241.38,381.75 241.82,382.45 242.25,383.11 242.69,383.71 243.13,384.27 243.56,384.78 244,385.25 244.44,385.67 244.87,386.05 245.31,386.4 245.75,386.71 246.18,386.99 246.62,387.23 247.06,387.45 247.49,387.64 247.93,387.81 248.37,387.95 248.8,388.08 249.24,388.19 249.68,388.28 250.11,388.36 250.55,388.42 250.98,388.48 251.42,388.53 251.86,388.57 252.29,388.6 252.73,388.63 253.17,388.65 253.6,388.66 254.04,388.68 254.48,388.69 254.91,388.69 255.35,388.7 255.79,388.7 256.22,388.7 256.66,388.7 257.1,388.7 257.53,388.7 257.97,388.7 258.41,388.69 258.84,388.69 259.28,388.69 259.72,388.68 260.15,388.68 260.59,388.67 261.03,388.67 261.46,388.66 261.9,388.66 262.33,388.65 262.77,388.65 263.21,388.64 263.64,388.64 264.08,388.63 264.52,388.63 264.95,388.62 265.39,388.62 265.83,388.61 266.26,388.61 266.7,388.6 267.14,388.6 267.57,388.59 268.01,388.59 268.45,388.58 268.88,388.58 269.32,388.57 269.76,388.57 270.19,388.56 270.63,388.56 271.07,388.55 271.5,388.55 271.94,388.54 272.38,388.54" fill="none" stroke="#000" stroke-width="1.3" stroke-linejoin="round" />
<polyline points="141.41,390.09 141.85,390.08 142.29,390.08 142.72,390.07 143.16,390.07 143.6,390.06 144.03,390.06 144.47,390.05 144.91,390.05 145.34,390.04 145.78,390.04 146.22,390.03 146.65,390.03 147.09,390.02 147.53,390.02 147.96,390.01 148.4,390.01 148.84,390 149.27,390 149.71,389.99 150.15,389.99 150.58,389.98 151.02,389.98 151.46,389.97 151.89,389.96 152.33,389.96 152.76,389.95 153.2,389.95 153.64,389.94 154.07,389.94 154.51,389.93 154.95,389.93 155.38,389.92 155.82,389.92 156.26,389.91 156.69,389.9 157.13,389.9 157.57,389.89 158,389.89 158.44,389.88 158.88,389.87 159.31,389.87 159.75,389.86 160.19,389.85 160.62,389.84 161.06,389.84 161.5,389.83 161.93,389.82 162.37,389.81 162.81,389.8 163.24,389.79 163.68,389.77 164.11,389.76 164.55,389.75 164.99,389.73 165.42,389.71 165.86,389.7 166.3,389.67 166.73,389.65 167.17,389.63 167.61,389.6 168.04,389.57 168.48,389.53 168.92,389.49 169.35,389.45 169.79,389.4 170.23,389.35 170.66,389.29 171.1,389.23 171.54,389.16 171.97,389.08 172.41,388.99 172.85,388.9 173.28,388.79 173.72,388.67 174.16,388.54 174.59,388.4 175.03,388.24 175.46,388.07 175.9,387.89 176.34,387.68 176.77,387.46 177.21,387.21 177.65,386.95 178.08,386.66 178.52,386.34 178.96,386 179.39,385.63 179.83,385.23 180.27,384.8 180.7,384.34 181.14,383.84 181.58,383.31 182.01,382.74 182.45,382.12 182.89,381.47 183.32,380.77 183.76,380.03 184.2,379.25 184.63,378.41 185.07,377.53 185.5,376.6 185.94,375.62 186.38,374.59 186.81,373.5 187.25,372.37 187.69,371.18 188.12,369.94 188.56,368.64 189,367.3 189.43,365.91 189.87,364.47 190.31,362.98 190.74,361.44 191.18,359.86 191.62,358.24 192.05,356.58 192.49,354.88 192.93,353.16 193.36,351.4 193.8,349.62 194.24,347.82 194.67,346 195.11,344.18 195.55,342.35 195.98,340.51 196.42,338.69 196.85,336.87 197.29,335.07 197.73,333.3 198.16,331.55 198.6,329.84 199.04,328.17 199.47,326.55 199.91,324.98 200.35,323.48 200.78,322.04 201.22,320.67 201.66,319.38 202.09,318.17 202.53,317.05 202.97,316.03 203.4,315.1 203.84,314.27 204.28,313.54 204.71,312.93 205.15,312.42 205.59,312.03 206.02,311.76 206.46,311.59 206.89,311.55 207.33,311.64 207.77,311.89 208.2,312.27 208.64,312.81 209.08,313.48 209.51,314.29 209.95,315.24 210.39,316.31 210.82,317.5 211.26,318.81 211.7,320.23 212.13,321.75 212.57,323.36 213.01,325.06 213.44,326.83 213.88,328.66 214.32,330.56 214.75,332.5 215.19,334.49 215.63,336.5 216.06,338.54 216.5,340.59 216.94,342.65 217.37,344.71 217.81,346.75 218.24,348.78 218.68,350.78 219.12,352.76 219.55,354.7 219.99,356.59 220.43,358.44 220.86,360.24 221.3,361.99 221.74,363.68 222.17,365.31 222.61,366.87 223.05,368.38 223.48,369.81 223.92,371.19 224.36,372.49 224.79,373.73 225.23,374.9 225.67,376.01 226.1,377.05 226.54,378.03 226.98,378.95 227.41,379.81 227.85,380.61 228.29,381.36 228.72,382.05 229.16,382.69 229.59,383.29 230.03,383.83 230.47,384.34 230.9,384.8 231.34,385.22 231.78,385.61 232.21,385.96 232.65,386.28 233.09,386.57 233.52,386.83 233.96,387.06 234.4,387.28 234.83,387.47 235.27,387.64 235.71,387.79 236.14,387.93 236.58,388.05 237.02,388.16 237.45,388.25 237.89,388.33 238.33,388.41 238.76,388.47 239.2,388.53 239.63,388.57 240.07,388.62 240.51,388.65 240.94,388.68 241.38,388.71 241.82,388.73 242.25,388.75 242.69,388.77 243.13,388.78 243.56,388.79 244,388.8 244.44,388.8 244.87,388.81 245.31,388.81 245.75,388.81 246.18,388.81 246.62,388.81 247.06,388.81 247.49,388.81 247.93,388.81 248.37,388.81 248.8,388.8 249.24,388.8 249.68,388.8 250.11,388.79 250.55,388.79 250.98,388.78 251.42,388.78 251.86,388.78 252.29,388.77 252.73,388.77 253.17,388.76 253.6,388.76 254.04,388.75 254.48,388.75 254.91,388.74 255.35,388.74 255.79,388.73 256.22,388.73 256.66,388.72 257.1,388.72 257.53,388.71 257.97,388.71 258.41,388.7 258.84,388.7 259.28,388.69 259.72,388.69 260.15,388.68 260.59,388.68 261.03,388.67 261.46,388.66 261.9,388.66 262.33,388.65 262.77,388.65 263.21,388.64 263.64,388.64 264.08,388.63 264.52,388.63 264.95,388.62 265.39,388.62 265.83,388.61 266.26,388.61 266.7,388.6 267.14,388.6 267.57,388.59 268.01,388.59 268.45,388.58 268.88,388.58 269.32,388.57 269.76,388.57 270.19,388.56 270.63,388.56 271.07,388.55 271.5,388.55 271.94,388.54 272.38,388.54" fill="none" stroke="#0000ff" stroke-width="1.3" stroke-linejoin="round" />
<polyline points="141.41,390.09 141.85,390.08 142.29,390.08 142.72,390.07 143.16,390.07 143.6,390.06 144.03,390.06 144.47,390.05 144.91,390.05 145.34,390.04 145.78,390.04 146.22,390.03 146.65,390.03 147.09,390.02 147.53,390.02 147.96,390.01 148.4,390.01 148.84,390 149.27,390 149.71,389.99 150.15,389.99 150.58,389.98 151.02,389.98 151.46,389.97 151.89,389.97 152.33,389.96 152.76,389.95 153.2,389.95 153.64,389.94 154.07,389.94 154.51,389.93 154.95,389.93 155.38,389.92 155.82,389.92 156.26,389.91 156.69,389.91 157.13,389.9 157.57,389.9 158,389.89 158.44,389.89 158.88,389.88 159.31,389.88 159.75,389.87 160.19,389.87 160.62,389.86 161.06,389.86 161.5,389.85 161.93,389.85 162.37,389.84 162.81,389.84 163.24,389.83 163.68,389.83 164.11,389.82 164.55,389.82 164.99,389.81 165.42,389.8 165.86,389.8 166.3,389.79 166.73,389.79 167.17,389.78 167.61,389.78 168.04,389.77 168.48,389.77 168.92,389.76 169.35,389.76 169.79,389.75 170.23,389.75 170.66,389.74 171.1,389.74 171.54,389.73 171.97,389.73 172.41,389.72 172.85,389.72 173.28,389.71 173.72,389.71 174.16,389.7 174.59,389.7 175.03,389.69 175.46,389.69 175.9,389.68 176.34,389.68 176.77,389.67 177.21,389.66 177.65,389.66 178.08,389.65 178.52,389.65 178.96,389.64 179.39,389.64 179.83,389.63 180.27,389.63 180.7,389.62 181.14,389.62 181.58,389.61 182.01,389.61 182.45,389.6 182.89,389.6 183.32,389.59 183.76,389.59 184.2,389.58 184.63,389.58 185.07,389.57 185.5,389.57 185.94,389.56 186.38,389.56 186.81,389.55 187.25,389.54 187.69,389.54 188.12,389.53 188.56,389.53 189,389.52 189.43,389.52 189.87,389.51 190.31,389.5 190.74,389.5 191.18,389.49 191.62,389.49 192.05,389.48 192.49,389.47 192.93,389.46 193.36,389.46 193.8,389.45 194.24,389.44 194.67,389.43 195.11,389.42 195.55,389.41 195.98,389.4 196.42,389.38 196.85,389.37 197.29,389.35 197.73,389.33 198.16,389.31 198.6,389.29 199.04,389.27 199.47,389.24 199.91,389.21 200.35,389.18 200.78,389.14 201.22,389.1 201.66,389.05 202.09,389 202.53,388.94 202.97,388.87 203.4,388.8 203.84,388.72 204.28,388.63 204.71,388.53 205.15,388.42 205.59,388.3 206.02,388.17 206.46,388.02 206.89,387.86 207.33,387.69 207.77,387.5 208.2,387.29 208.64,387.07 209.08,386.82 209.51,386.56 209.95,386.27 210.39,385.97 210.82,385.64 211.26,385.29 211.7,384.91 212.13,384.51 212.57,384.08 213.01,383.63 213.44,383.16 213.88,382.65 214.32,382.13 214.75,381.57 215.19,381 215.63,380.39 216.06,379.77 216.5,379.12 216.94,378.46 217.37,377.77 217.81,377.07 218.24,376.35 218.68,375.62 219.12,374.88 219.55,374.13 219.99,373.38 220.43,372.62 220.86,371.87 221.3,371.11 221.74,370.37 222.17,369.64 222.61,368.93 223.05,368.23 223.48,367.55 223.92,366.91 224.36,366.29 224.79,365.7 225.23,365.15 225.67,364.64 226.1,364.18 226.54,363.75 226.98,363.38 227.41,363.06 227.85,362.79 228.29,362.57 228.72,362.41 229.16,362.3 229.59,362.25 230.03,362.27 230.47,362.39 230.9,362.61 231.34,362.93 231.78,363.34 232.21,363.84 232.65,364.42 233.09,365.07 233.52,365.8 233.96,366.59 234.4,367.43 234.83,368.32 235.27,369.25 235.71,370.21 236.14,371.18 236.58,372.17 237.02,373.16 237.45,374.15 237.89,375.13 238.33,376.09 238.76,377.03 239.2,377.94 239.63,378.82 240.07,379.66 240.51,380.47 240.94,381.23 241.38,381.95 241.82,382.62 242.25,383.25 242.69,383.83 243.13,384.37 243.56,384.87 244,385.32 244.44,385.73 244.87,386.11 245.31,386.45 245.75,386.75 246.18,387.02 246.62,387.26 247.06,387.47 247.49,387.66 247.93,387.82 248.37,387.96 248.8,388.09 249.24,388.19 249.68,388.29 250.11,388.36 250.55,388.43 250.98,388.49 251.42,388.53 251.86,388.57 252.29,388.6 252.73,388.63 253.17,388.65 253.6,388.66 254.04,388.68 254.48,388.69 254.91,388.69 255.35,388.7 255.79,388.7 256.22,388.7 256.66,388.7 257.1,388.7 257.53,388.7 257.97,388.7 258.41,388.69 258.84,388.69 259.28,388.69 259.72,388.68 260.15,388.68 260.59,388.67 261.03,388.67 261.46,388.66 261.9,388.66 262.33,388.65 262.77,388.65 263.21,388.64 263.64,388.64 264.08,388.63 264.52,388.63 264.95,388.62 265.39,388.62 265.83,388.61 266.26,388.61 266.7,388.6 267.14,388.6 267.57,388.59 268.01,388.59 268.45,388.58 268.88,388.58 269.32,388.57 269.76,388.57 270.19,388.56 270.63,388.56 271.07,388.55 271.5,388.55 271.94,388.54 272.38,388.54" fill="none" stroke="#ff0000" stroke-width="1.3" stroke-linejoin="round" />
</g>
<rect x="75.5" y="19.5" width="262.0" height="386.0" fill="none" stroke="#5a5a5a" stroke-width="1.25"/>
<line x1="75.5" y1="153.5" x2="337.5" y2="153.5" stroke="#5a5a5a" stroke-width="1.25" />
<line x1="75.5" y1="287.5" x2="337.5" y2="287.5" stroke="#5a5a5a" stroke-width="1.25" />
</g>
<g id="left-b">
<line x1="188.34" y1="434" x2="188.34" y2="819" stroke="#111" stroke-width="0.9" stroke-dasharray="2,1.8" stroke-dashoffset="1.73"/>
<line x1="234.82" y1="434" x2="234.82" y2="819" stroke="#111" stroke-width="0.9" stroke-dasharray="2,1.8" stroke-dashoffset="1.73"/>
<clipPath id="cp-b0"><rect x="75.5" y="433.5" width="262.0" height="133.0"/></clipPath>
<line x1="75.5" y1="544.6" x2="95" y2="544.6" stroke="#666" stroke-width="1.25" />
<line x1="75.5" y1="499.85" x2="95" y2="499.85" stroke="#666" stroke-width="1.25" />
<line x1="75.5" y1="455.1" x2="95" y2="455.1" stroke="#666" stroke-width="1.25" />
<line x1="75.5" y1="522.23" x2="85.5" y2="522.23" stroke="#666" stroke-width="1.25" />
<line x1="75.5" y1="477.48" x2="85.5" y2="477.48" stroke="#666" stroke-width="1.25" />
<line x1="88.8" y1="566.5" x2="88.8" y2="556" stroke="#666" stroke-width="1.25" />
<line x1="176.5" y1="566.5" x2="176.5" y2="556" stroke="#666" stroke-width="1.25" />
<line x1="264.2" y1="566.5" x2="264.2" y2="556" stroke="#666" stroke-width="1.25" />
<line x1="132.65" y1="566.5" x2="132.65" y2="561.5" stroke="#666" stroke-width="1.25" />
<line x1="220.35" y1="566.5" x2="220.35" y2="561.5" stroke="#666" stroke-width="1.25" />
<line x1="308.05" y1="566.5" x2="308.05" y2="561.5" stroke="#666" stroke-width="1.25" />
<path d="M75.5,528.27 L79.53,528.27 L79.53,528.27 L83.91,528.27 L83.91,522.45 L88.3,522.45 L88.3,530.28 L92.69,530.28 L92.69,524.24 L97.07,524.24 L97.07,526.7 L101.45,526.7 L101.45,532.52 L105.84,532.52 L105.84,526.25 L110.22,526.25 L110.22,534.08 L114.61,534.08 L114.61,515.74 L119,515.74 L119,528.27 L123.38,528.27 L123.38,528.27 L127.76,528.27 L127.76,537.66 L132.15,537.66 L132.15,533.41 L136.53,533.41 L136.53,524.46 L140.92,524.46 L140.92,527.15 L145.31,527.15 L145.31,525.81 L149.69,525.81 L149.69,522.45 L154.07,522.45 L154.07,528.71 L158.46,528.71 L158.46,530.06 L162.84,530.06 L162.84,516.18 L167.23,516.18 L167.23,515.51 L171.62,515.51 L171.62,509.7 L176,509.7 L176,507.01 L180.38,507.01 L180.38,498.51 L184.77,498.51 L184.77,500.75 L189.15,500.75 L189.15,507.23 L193.54,507.23 L193.54,508.58 L197.93,508.58 L197.93,507.01 L202.31,507.01 L202.31,512.6 L206.69,512.6 L206.69,524.91 L211.08,524.91 L211.08,511.71 L215.46,511.71 L215.46,508.8 L219.85,508.8 L219.85,499.85 L224.24,499.85 L224.24,483.52 L228.62,483.52 L228.62,464.05 L233,464.05 L233,460.69 L237.39,460.69 L237.39,487.54 L241.77,487.54 L241.77,486.43 L246.16,486.43 L246.16,509.25 L250.55,509.25 L250.55,515.96 L254.93,515.96 L254.93,518.64 L259.31,518.64 L259.31,522.67 L263.7,522.67 L263.7,517.3 L268.08,517.3 L268.08,523.12 L272.47,523.12 L272.47,503.21 L276.85,503.21 L276.85,513.27 L281.24,513.27 L281.24,526.25 L285.62,526.25 L285.62,526.03 L290.01,526.03 L290.01,518.64 L294.39,518.64 L294.39,521.33 L298.78,521.33 L298.78,529.38 L303.16,529.38 L303.16,529.38 L307.55,529.38 L307.55,534.08 L311.94,534.08 L311.94,514.62 L316.32,514.62 L316.32,506.56 L320.7,506.56 L320.7,507.01 L325.09,507.01 L325.09,513.27 L329.47,513.27 L329.47,519.09 L333.86,519.09 L333.86,517.3 L337.5,517.3" fill="none" stroke="#333" stroke-width="1" clip-path="url(#cp-b0)"/>
<g clip-path="url(#cp-b0)">
<polyline points="141.42,525.48 141.86,525.47 142.3,525.45 142.74,525.43 143.17,525.41 143.61,525.38 144.05,525.36 144.49,525.33 144.93,525.31 145.37,525.28 145.81,525.24 146.24,525.21 146.68,525.18 147.12,525.14 147.56,525.1 148,525.05 148.44,525.01 148.87,524.96 149.31,524.91 149.75,524.85 150.19,524.79 150.63,524.73 151.07,524.66 151.51,524.59 151.94,524.51 152.38,524.43 152.82,524.34 153.26,524.25 153.7,524.15 154.14,524.05 154.57,523.94 155.01,523.82 155.45,523.7 155.89,523.57 156.33,523.44 156.77,523.29 157.21,523.14 157.64,522.98 158.08,522.81 158.52,522.63 158.96,522.45 159.4,522.25 159.84,522.05 160.28,521.84 160.71,521.61 161.15,521.38 161.59,521.14 162.03,520.89 162.47,520.63 162.91,520.35 163.34,520.07 163.78,519.78 164.22,519.47 164.66,519.16 165.1,518.83 165.54,518.5 165.98,518.15 166.41,517.79 166.85,517.43 167.29,517.05 167.73,516.67 168.17,516.27 168.61,515.87 169.05,515.46 169.48,515.04 169.92,514.61 170.36,514.17 170.8,513.73 171.24,513.29 171.68,512.83 172.12,512.37 172.55,511.91 172.99,511.45 173.43,510.98 173.87,510.51 174.31,510.03 174.75,509.56 175.18,509.09 175.62,508.62 176.06,508.15 176.5,507.69 176.94,507.23 177.38,506.77 177.82,506.32 178.25,505.88 178.69,505.45 179.13,505.02 179.57,504.61 180.01,504.21 180.45,503.81 180.88,503.44 181.32,503.07 181.76,502.72 182.2,502.39 182.64,502.07 183.08,501.77 183.52,501.49 183.95,501.23 184.39,500.99 184.83,500.76 185.27,500.56 185.71,500.38 186.15,500.22 186.59,500.09 187.02,499.97 187.46,499.88 187.9,499.81 188.34,499.77 188.78,499.74 189.22,499.75 189.65,499.8 190.09,499.88 190.53,500 190.97,500.16 191.41,500.36 191.85,500.6 192.29,500.86 192.72,501.16 193.16,501.5 193.6,501.86 194.04,502.25 194.48,502.66 194.92,503.1 195.36,503.57 195.79,504.05 196.23,504.55 196.67,505.06 197.11,505.59 197.55,506.12 197.99,506.67 198.43,507.22 198.86,507.77 199.3,508.32 199.74,508.87 200.18,509.41 200.62,509.95 201.06,510.47 201.49,510.99 201.93,511.49 202.37,511.97 202.81,512.44 203.25,512.88 203.69,513.3 204.13,513.7 204.56,514.07 205,514.41 205.44,514.73 205.88,515.01 206.32,515.25 206.76,515.47 207.19,515.64 207.63,515.78 208.07,515.88 208.51,515.94 208.95,515.96 209.39,515.94 209.83,515.87 210.26,515.76 210.7,515.6 211.14,515.4 211.58,515.16 212.02,514.86 212.46,514.52 212.9,514.13 213.33,513.69 213.77,513.21 214.21,512.67 214.65,512.09 215.09,511.46 215.53,510.78 215.96,510.05 216.4,509.28 216.84,508.46 217.28,507.6 217.72,506.69 218.16,505.74 218.6,504.74 219.03,503.71 219.47,502.64 219.91,501.54 220.35,500.4 220.79,499.23 221.23,498.03 221.67,496.8 222.1,495.56 222.54,494.29 222.98,493.01 223.42,491.72 223.86,490.42 224.3,489.11 224.74,487.8 225.17,486.5 225.61,485.21 226.05,483.93 226.49,482.66 226.93,481.42 227.37,480.2 227.8,479.02 228.24,477.87 228.68,476.76 229.12,475.69 229.56,474.67 230,473.7 230.44,472.79 230.87,471.94 231.31,471.15 231.75,470.43 232.19,469.78 232.63,469.2 233.07,468.7 233.5,468.28 233.94,467.93 234.38,467.66 234.82,467.48 235.26,467.38 235.7,467.36 236.14,467.45 236.57,467.64 237.01,467.95 237.45,468.36 237.89,468.88 238.33,469.5 238.77,470.22 239.21,471.03 239.64,471.93 240.08,472.92 240.52,473.98 240.96,475.12 241.4,476.32 241.84,477.59 242.27,478.91 242.71,480.27 243.15,481.68 243.59,483.12 244.03,484.59 244.47,486.08 244.91,487.59 245.34,489.1 245.78,490.62 246.22,492.13 246.66,493.63 247.1,495.12 247.54,496.58 247.98,498.03 248.41,499.44 248.85,500.82 249.29,502.17 249.73,503.48 250.17,504.74 250.61,505.96 251.05,507.14 251.48,508.27 251.92,509.35 252.36,510.39 252.8,511.37 253.24,512.3 253.68,513.19 254.11,514.02 254.55,514.81 254.99,515.55 255.43,516.25 255.87,516.9 256.31,517.5 256.75,518.07 257.18,518.59 257.62,519.08 258.06,519.53 258.5,519.94 258.94,520.32 259.38,520.67 259.81,520.99 260.25,521.28 260.69,521.54 261.13,521.78 261.57,522 262.01,522.2 262.45,522.37 262.88,522.53 263.32,522.68 263.76,522.8 264.2,522.92 264.64,523.02 265.08,523.11 265.52,523.19 265.95,523.25 266.39,523.32 266.83,523.37 267.27,523.41 267.71,523.45 268.15,523.49 268.58,523.52 269.02,523.54 269.46,523.56 269.9,523.58 270.34,523.59 270.78,523.61 271.22,523.61 271.65,523.62 272.09,523.63 272.53,523.63 272.97,523.63" fill="none" stroke="#000" stroke-width="1.3" stroke-linejoin="round" />
<polyline points="141.42,525.48 141.86,525.47 142.3,525.45 142.74,525.43 143.17,525.41 143.61,525.38 144.05,525.36 144.49,525.33 144.93,525.31 145.37,525.28 145.81,525.24 146.24,525.21 146.68,525.18 147.12,525.14 147.56,525.1 148,525.05 148.44,525.01 148.87,524.96 149.31,524.91 149.75,524.85 150.19,524.79 150.63,524.73 151.07,524.66 151.51,524.59 151.94,524.51 152.38,524.43 152.82,524.34 153.26,524.25 153.7,524.15 154.14,524.05 154.57,523.94 155.01,523.82 155.45,523.7 155.89,523.57 156.33,523.44 156.77,523.29 157.21,523.14 157.64,522.98 158.08,522.81 158.52,522.63 158.96,522.45 159.4,522.25 159.84,522.05 160.28,521.84 160.71,521.61 161.15,521.38 161.59,521.14 162.03,520.89 162.47,520.63 162.91,520.35 163.34,520.07 163.78,519.78 164.22,519.47 164.66,519.16 165.1,518.83 165.54,518.5 165.98,518.15 166.41,517.79 166.85,517.43 167.29,517.05 167.73,516.67 168.17,516.27 168.61,515.87 169.05,515.46 169.48,515.04 169.92,514.61 170.36,514.17 170.8,513.73 171.24,513.29 171.68,512.83 172.12,512.37 172.55,511.91 172.99,511.45 173.43,510.98 173.87,510.51 174.31,510.03 174.75,509.56 175.18,509.09 175.62,508.62 176.06,508.15 176.5,507.69 176.94,507.23 177.38,506.77 177.82,506.32 178.25,505.88 178.69,505.45 179.13,505.02 179.57,504.61 180.01,504.21 180.45,503.82 180.88,503.44 181.32,503.07 181.76,502.72 182.2,502.39 182.64,502.07 183.08,501.78 183.52,501.49 183.95,501.23 184.39,500.99 184.83,500.77 185.27,500.57 185.71,500.39 186.15,500.23 186.59,500.09 187.02,499.98 187.46,499.89 187.9,499.82 188.34,499.78 188.78,499.76 189.22,499.77 189.65,499.81 190.09,499.9 190.53,500.03 190.97,500.19 191.41,500.4 191.85,500.64 192.29,500.91 192.72,501.22 193.16,501.56 193.6,501.93 194.04,502.33 194.48,502.76 194.92,503.21 195.36,503.69 195.79,504.19 196.23,504.71 196.67,505.24 197.11,505.79 197.55,506.36 197.99,506.93 198.43,507.52 198.86,508.11 199.3,508.7 199.74,509.3 200.18,509.9 200.62,510.49 201.06,511.09 201.49,511.68 201.93,512.26 202.37,512.84 202.81,513.4 203.25,513.96 203.69,514.5 204.13,515.03 204.56,515.55 205,516.05 205.44,516.53 205.88,517 206.32,517.46 206.76,517.89 207.19,518.31 207.63,518.71 208.07,519.1 208.51,519.46 208.95,519.81 209.39,520.14 209.83,520.46 210.26,520.75 210.7,521.04 211.14,521.3 211.58,521.55 212.02,521.78 212.46,522 212.9,522.2 213.33,522.39 213.77,522.57 214.21,522.73 214.65,522.88 215.09,523.02 215.53,523.15 215.96,523.27 216.4,523.38 216.84,523.48 217.28,523.57 217.72,523.66 218.16,523.73 218.6,523.8 219.03,523.86 219.47,523.92 219.91,523.97 220.35,524.01 220.79,524.05 221.23,524.09 221.67,524.12 222.1,524.15 222.54,524.17 222.98,524.19 223.42,524.21 223.86,524.23 224.3,524.24 224.74,524.25 225.17,524.26 225.61,524.27 226.05,524.27 226.49,524.28 226.93,524.28 227.37,524.28 227.8,524.29 228.24,524.29 228.68,524.29 229.12,524.28 229.56,524.28 230,524.28 230.44,524.28 230.87,524.27 231.31,524.27 231.75,524.27 232.19,524.26 232.63,524.26 233.07,524.25 233.5,524.25 233.94,524.24 234.38,524.24 234.82,524.23 235.26,524.22 235.7,524.22 236.14,524.21 236.57,524.21 237.01,524.2 237.45,524.19 237.89,524.19 238.33,524.18 238.77,524.18 239.21,524.17 239.64,524.16 240.08,524.16 240.52,524.15 240.96,524.14 241.4,524.14 241.84,524.13 242.27,524.13 242.71,524.12 243.15,524.11 243.59,524.11 244.03,524.1 244.47,524.09 244.91,524.09 245.34,524.08 245.78,524.07 246.22,524.07 246.66,524.06 247.1,524.06 247.54,524.05 247.98,524.04 248.41,524.04 248.85,524.03 249.29,524.02 249.73,524.02 250.17,524.01 250.61,524 251.05,524 251.48,523.99 251.92,523.99 252.36,523.98 252.8,523.97 253.24,523.97 253.68,523.96 254.11,523.95 254.55,523.95 254.99,523.94 255.43,523.93 255.87,523.93 256.31,523.92 256.75,523.92 257.18,523.91 257.62,523.9 258.06,523.9 258.5,523.89 258.94,523.88 259.38,523.88 259.81,523.87 260.25,523.86 260.69,523.86 261.13,523.85 261.57,523.85 262.01,523.84 262.45,523.83 262.88,523.83 263.32,523.82 263.76,523.81 264.2,523.81 264.64,523.8 265.08,523.79 265.52,523.79 265.95,523.78 266.39,523.78 266.83,523.77 267.27,523.76 267.71,523.76 268.15,523.75 268.58,523.74 269.02,523.74 269.46,523.73 269.9,523.72 270.34,523.72 270.78,523.71 271.22,523.71 271.65,523.7 272.09,523.69 272.53,523.69 272.97,523.68" fill="none" stroke="#0000ff" stroke-width="1.3" stroke-linejoin="round" />
<polyline points="141.42,525.59 141.86,525.58 142.3,525.58 142.74,525.57 143.17,525.57 143.61,525.56 144.05,525.55 144.49,525.55 144.93,525.54 145.37,525.53 145.81,525.53 146.24,525.52 146.68,525.51 147.12,525.51 147.56,525.5 148,525.49 148.44,525.49 148.87,525.48 149.31,525.48 149.75,525.47 150.19,525.46 150.63,525.46 151.07,525.45 151.51,525.44 151.94,525.44 152.38,525.43 152.82,525.42 153.26,525.42 153.7,525.41 154.14,525.41 154.57,525.4 155.01,525.39 155.45,525.39 155.89,525.38 156.33,525.37 156.77,525.37 157.21,525.36 157.64,525.35 158.08,525.35 158.52,525.34 158.96,525.34 159.4,525.33 159.84,525.32 160.28,525.32 160.71,525.31 161.15,525.3 161.59,525.3 162.03,525.29 162.47,525.28 162.91,525.28 163.34,525.27 163.78,525.27 164.22,525.26 164.66,525.25 165.1,525.25 165.54,525.24 165.98,525.23 166.41,525.23 166.85,525.22 167.29,525.21 167.73,525.21 168.17,525.2 168.61,525.2 169.05,525.19 169.48,525.18 169.92,525.18 170.36,525.17 170.8,525.16 171.24,525.16 171.68,525.15 172.12,525.14 172.55,525.14 172.99,525.13 173.43,525.13 173.87,525.12 174.31,525.11 174.75,525.11 175.18,525.1 175.62,525.09 176.06,525.09 176.5,525.08 176.94,525.07 177.38,525.07 177.82,525.06 178.25,525.06 178.69,525.05 179.13,525.04 179.57,525.04 180.01,525.03 180.45,525.02 180.88,525.02 181.32,525.01 181.76,525 182.2,525 182.64,524.99 183.08,524.98 183.52,524.98 183.95,524.97 184.39,524.96 184.83,524.96 185.27,524.95 185.71,524.94 186.15,524.94 186.59,524.93 187.02,524.92 187.46,524.91 187.9,524.91 188.34,524.9 188.78,524.89 189.22,524.88 189.65,524.87 190.09,524.86 190.53,524.85 190.97,524.84 191.41,524.83 191.85,524.82 192.29,524.81 192.72,524.79 193.16,524.78 193.6,524.76 194.04,524.75 194.48,524.73 194.92,524.71 195.36,524.69 195.79,524.66 196.23,524.64 196.67,524.61 197.11,524.58 197.55,524.54 197.99,524.5 198.43,524.46 198.86,524.42 199.3,524.37 199.74,524.31 200.18,524.25 200.62,524.18 201.06,524.11 201.49,524.03 201.93,523.94 202.37,523.84 202.81,523.74 203.25,523.62 203.69,523.49 204.13,523.35 204.56,523.2 205,523.03 205.44,522.85 205.88,522.66 206.32,522.44 206.76,522.21 207.19,521.97 207.63,521.7 208.07,521.41 208.51,521.09 208.95,520.76 209.39,520.4 209.83,520.01 210.26,519.6 210.7,519.15 211.14,518.68 211.58,518.18 212.02,517.65 212.46,517.08 212.9,516.48 213.33,515.85 213.77,515.18 214.21,514.47 214.65,513.73 215.09,512.96 215.53,512.14 215.96,511.29 216.4,510.4 216.84,509.47 217.28,508.51 217.72,507.51 218.16,506.48 218.6,505.41 219.03,504.31 219.47,503.18 219.91,502.02 220.35,500.83 220.79,499.61 221.23,498.37 221.67,497.11 222.1,495.83 222.54,494.53 222.98,493.22 223.42,491.91 223.86,490.58 224.3,489.26 224.74,487.93 225.17,486.61 225.61,485.31 226.05,484.01 226.49,482.74 226.93,481.49 227.37,480.26 227.8,479.07 228.24,477.91 228.68,476.79 229.12,475.72 229.56,474.7 230,473.73 230.44,472.81 230.87,471.96 231.31,471.17 231.75,470.45 232.19,469.79 232.63,469.21 233.07,468.71 233.5,468.28 233.94,467.93 234.38,467.67 234.82,467.48 235.26,467.38 235.7,467.36 236.14,467.45 236.57,467.65 237.01,467.95 237.45,468.36 237.89,468.88 238.33,469.5 238.77,470.22 239.21,471.03 239.64,471.93 240.08,472.92 240.52,473.98 240.96,475.12 241.4,476.32 241.84,477.59 242.27,478.91 242.71,480.27 243.15,481.68 243.59,483.12 244.03,484.59 244.47,486.08 244.91,487.59 245.34,489.1 245.78,490.62 246.22,492.13 246.66,493.63 247.1,495.12 247.54,496.58 247.98,498.03 248.41,499.44 248.85,500.82 249.29,502.17 249.73,503.48 250.17,504.74 250.61,505.96 251.05,507.14 251.48,508.27 251.92,509.35 252.36,510.39 252.8,511.37 253.24,512.3 253.68,513.19 254.11,514.02 254.55,514.81 254.99,515.55 255.43,516.25 255.87,516.9 256.31,517.5 256.75,518.07 257.18,518.59 257.62,519.08 258.06,519.53 258.5,519.94 258.94,520.32 259.38,520.67 259.81,520.99 260.25,521.28 260.69,521.54 261.13,521.78 261.57,522 262.01,522.2 262.45,522.37 262.88,522.53 263.32,522.68 263.76,522.8 264.2,522.92 264.64,523.02 265.08,523.11 265.52,523.19 265.95,523.25 266.39,523.32 266.83,523.37 267.27,523.41 267.71,523.45 268.15,523.49 268.58,523.52 269.02,523.54 269.46,523.56 269.9,523.58 270.34,523.59 270.78,523.61 271.22,523.61 271.65,523.62 272.09,523.63 272.53,523.63 272.97,523.63" fill="none" stroke="#ff0000" stroke-width="1.3" stroke-linejoin="round" />
</g>
<clipPath id="cp-b1"><rect x="75.5" y="566.5" width="262.0" height="134.0"/></clipPath>
<line x1="75.5" y1="678.2" x2="95" y2="678.2" stroke="#666" stroke-width="1.25" />
<line x1="75.5" y1="633.7" x2="95" y2="633.7" stroke="#666" stroke-width="1.25" />
<line x1="75.5" y1="589.2" x2="95" y2="589.2" stroke="#666" stroke-width="1.25" />
<line x1="75.5" y1="655.95" x2="85.5" y2="655.95" stroke="#666" stroke-width="1.25" />
<line x1="75.5" y1="611.45" x2="85.5" y2="611.45" stroke="#666" stroke-width="1.25" />
<line x1="88.8" y1="700.5" x2="88.8" y2="690" stroke="#666" stroke-width="1.25" />
<line x1="176.5" y1="700.5" x2="176.5" y2="690" stroke="#666" stroke-width="1.25" />
<line x1="264.2" y1="700.5" x2="264.2" y2="690" stroke="#666" stroke-width="1.25" />
<line x1="132.65" y1="700.5" x2="132.65" y2="695.5" stroke="#666" stroke-width="1.25" />
<line x1="220.35" y1="700.5" x2="220.35" y2="695.5" stroke="#666" stroke-width="1.25" />
<line x1="308.05" y1="700.5" x2="308.05" y2="695.5" stroke="#666" stroke-width="1.25" />
<path d="M75.5,682.87 L79.53,682.87 L79.53,663.29 L83.91,663.29 L83.91,682.65 L88.3,682.65 L88.3,678.87 L92.69,678.87 L92.69,677.53 L97.07,677.53 L97.07,670.41 L101.45,670.41 L101.45,667.74 L105.84,667.74 L105.84,664.63 L110.22,664.63 L110.22,677.09 L114.61,677.09 L114.61,674.42 L119,674.42 L119,657.95 L123.38,657.95 L123.38,665.96 L127.76,665.96 L127.76,680.43 L132.15,680.43 L132.15,667.74 L136.53,667.74 L136.53,675.53 L140.92,675.53 L140.92,675.09 L145.31,675.09 L145.31,673.31 L149.69,673.31 L149.69,663.74 L154.07,663.74 L154.07,677.98 L158.46,677.98 L158.46,673.97 L162.84,673.97 L162.84,669.08 L167.23,669.08 L167.23,663.29 L171.62,663.29 L171.62,644.6 L176,644.6 L176,655.5 L180.38,655.5 L180.38,644.6 L184.77,644.6 L184.77,642.6 L189.15,642.6 L189.15,626.36 L193.54,626.36 L193.54,640.82 L197.93,640.82 L197.93,648.38 L202.31,648.38 L202.31,653.5 L206.69,653.5 L206.69,657.51 L211.08,657.51 L211.08,662.62 L215.46,662.62 L215.46,652.39 L219.85,652.39 L219.85,643.27 L224.24,643.27 L224.24,634.37 L228.62,634.37 L228.62,620.8 L233,620.8 L233,624.36 L237.39,624.36 L237.39,620.35 L241.77,620.35 L241.77,643.94 L246.16,643.94 L246.16,657.95 L250.55,657.95 L250.55,649.5 L254.93,649.5 L254.93,656.62 L259.31,656.62 L259.31,674.2 L263.7,674.2 L263.7,671.08 L268.08,671.08 L268.08,673.08 L272.47,673.08 L272.47,661.07 L276.85,661.07 L276.85,668.19 L281.24,668.19 L281.24,667.08 L285.62,667.08 L285.62,666.41 L290.01,666.41 L290.01,666.41 L294.39,666.41 L294.39,676.64 L298.78,676.64 L298.78,683.32 L303.16,683.32 L303.16,672.42 L307.55,672.42 L307.55,656.4 L311.94,656.4 L311.94,671.08 L316.32,671.08 L316.32,661.96 L320.7,661.96 L320.7,659.07 L325.09,659.07 L325.09,657.73 L329.47,657.73 L329.47,655.73 L333.86,655.73 L333.86,662.4 L337.5,662.4" fill="none" stroke="#333" stroke-width="1" clip-path="url(#cp-b1)"/>
<g clip-path="url(#cp-b1)">
<polyline points="141.42,672.51 141.86,672.49 142.3,672.48 142.74,672.46 143.17,672.45 143.61,672.43 144.05,672.41 144.49,672.4 144.93,672.38 145.37,672.36 145.81,672.34 146.24,672.31 146.68,672.29 147.12,672.26 147.56,672.24 148,672.21 148.44,672.18 148.87,672.14 149.31,672.11 149.75,672.07 150.19,672.03 150.63,671.98 151.07,671.94 151.51,671.89 151.94,671.83 152.38,671.77 152.82,671.71 153.26,671.64 153.7,671.56 154.14,671.48 154.57,671.4 155.01,671.3 155.45,671.2 155.89,671.09 156.33,670.98 156.77,670.85 157.21,670.72 157.64,670.58 158.08,670.43 158.52,670.26 158.96,670.09 159.4,669.9 159.84,669.7 160.28,669.49 160.71,669.26 161.15,669.02 161.59,668.77 162.03,668.5 162.47,668.22 162.91,667.92 163.34,667.6 163.78,667.26 164.22,666.91 164.66,666.54 165.1,666.15 165.54,665.74 165.98,665.31 166.41,664.87 166.85,664.4 167.29,663.92 167.73,663.41 168.17,662.89 168.61,662.34 169.05,661.78 169.48,661.19 169.92,660.59 170.36,659.97 170.8,659.34 171.24,658.68 171.68,658.01 172.12,657.32 172.55,656.62 172.99,655.91 173.43,655.18 173.87,654.44 174.31,653.7 174.75,652.94 175.18,652.17 175.62,651.4 176.06,650.63 176.5,649.86 176.94,649.08 177.38,648.31 177.82,647.54 178.25,646.77 178.69,646.01 179.13,645.27 179.57,644.53 180.01,643.81 180.45,643.1 180.88,642.42 181.32,641.75 181.76,641.1 182.2,640.48 182.64,639.89 183.08,639.32 183.52,638.78 183.95,638.28 184.39,637.81 184.83,637.37 185.27,636.97 185.71,636.61 186.15,636.29 186.59,636.01 187.02,635.77 187.46,635.57 187.9,635.41 188.34,635.3 188.78,635.23 189.22,635.2 189.65,635.22 190.09,635.3 190.53,635.42 190.97,635.6 191.41,635.82 191.85,636.1 192.29,636.42 192.72,636.78 193.16,637.19 193.6,637.64 194.04,638.13 194.48,638.66 194.92,639.22 195.36,639.82 195.79,640.45 196.23,641.1 196.67,641.78 197.11,642.48 197.55,643.19 197.99,643.93 198.43,644.68 198.86,645.43 199.3,646.19 199.74,646.96 200.18,647.72 200.62,648.49 201.06,649.24 201.49,649.99 201.93,650.73 202.37,651.45 202.81,652.16 203.25,652.84 203.69,653.51 204.13,654.14 204.56,654.75 205,655.34 205.44,655.88 205.88,656.4 206.32,656.88 206.76,657.32 207.19,657.72 207.63,658.08 208.07,658.4 208.51,658.67 208.95,658.9 209.39,659.07 209.83,659.21 210.26,659.29 210.7,659.32 211.14,659.3 211.58,659.23 212.02,659.1 212.46,658.93 212.9,658.7 213.33,658.41 213.77,658.08 214.21,657.69 214.65,657.24 215.09,656.75 215.53,656.2 215.96,655.6 216.4,654.95 216.84,654.25 217.28,653.5 217.72,652.71 218.16,651.87 218.6,650.99 219.03,650.06 219.47,649.1 219.91,648.1 220.35,647.07 220.79,646.01 221.23,644.91 221.67,643.8 222.1,642.66 222.54,641.5 222.98,640.33 223.42,639.16 223.86,637.97 224.3,636.78 224.74,635.6 225.17,634.42 225.61,633.25 226.05,632.1 226.49,630.97 226.93,629.87 227.37,628.79 227.8,627.75 228.24,626.75 228.68,625.79 229.12,624.87 229.56,624.01 230,623.2 230.44,622.45 230.87,621.76 231.31,621.13 231.75,620.57 232.19,620.08 232.63,619.67 233.07,619.32 233.5,619.06 233.94,618.87 234.38,618.76 234.82,618.73 235.26,618.78 235.7,618.93 236.14,619.16 236.57,619.49 237.01,619.9 237.45,620.4 237.89,620.99 238.33,621.65 238.77,622.39 239.21,623.2 239.64,624.08 240.08,625.03 240.52,626.03 240.96,627.09 241.4,628.19 241.84,629.34 242.27,630.53 242.71,631.76 243.15,633.01 243.59,634.28 244.03,635.57 244.47,636.88 244.91,638.19 245.34,639.5 245.78,640.81 246.22,642.12 246.66,643.41 247.1,644.69 247.54,645.94 247.98,647.18 248.41,648.39 248.85,649.57 249.29,650.72 249.73,651.84 250.17,652.92 250.61,653.96 251.05,654.97 251.48,655.94 251.92,656.86 252.36,657.75 252.8,658.59 253.24,659.4 253.68,660.16 254.11,660.88 254.55,661.56 254.99,662.2 255.43,662.81 255.87,663.37 256.31,663.9 256.75,664.4 257.18,664.86 257.62,665.29 258.06,665.68 258.5,666.05 258.94,666.39 259.38,666.7 259.81,666.98 260.25,667.24 260.69,667.48 261.13,667.7 261.57,667.9 262.01,668.08 262.45,668.24 262.88,668.39 263.32,668.52 263.76,668.64 264.2,668.74 264.64,668.84 265.08,668.92 265.52,668.99 265.95,669.06 266.39,669.11 266.83,669.16 267.27,669.21 267.71,669.24 268.15,669.27 268.58,669.3 269.02,669.32 269.46,669.34 269.9,669.36 270.34,669.37 270.78,669.38 271.22,669.38 271.65,669.39 272.09,669.39 272.53,669.39 272.97,669.39" fill="none" stroke="#000" stroke-width="1.3" stroke-linejoin="round" />
<polyline points="141.42,672.51 141.86,672.49 142.3,672.48 142.74,672.46 143.17,672.45 143.61,672.43 144.05,672.41 144.49,672.4 144.93,672.38 145.37,672.36 145.81,672.34 146.24,672.31 146.68,672.29 147.12,672.26 147.56,672.24 148,672.21 148.44,672.18 148.87,672.14 149.31,672.11 149.75,672.07 150.19,672.03 150.63,671.98 151.07,671.94 151.51,671.89 151.94,671.83 152.38,671.77 152.82,671.71 153.26,671.64 153.7,671.56 154.14,671.48 154.57,671.4 155.01,671.3 155.45,671.2 155.89,671.09 156.33,670.98 156.77,670.85 157.21,670.72 157.64,670.58 158.08,670.43 158.52,670.26 158.96,670.09 159.4,669.9 159.84,669.7 160.28,669.49 160.71,669.26 161.15,669.02 161.59,668.77 162.03,668.5 162.47,668.22 162.91,667.92 163.34,667.6 163.78,667.26 164.22,666.91 164.66,666.54 165.1,666.15 165.54,665.74 165.98,665.31 166.41,664.87 166.85,664.4 167.29,663.92 167.73,663.41 168.17,662.89 168.61,662.34 169.05,661.78 169.48,661.19 169.92,660.59 170.36,659.97 170.8,659.34 171.24,658.68 171.68,658.01 172.12,657.32 172.55,656.62 172.99,655.91 173.43,655.18 173.87,654.44 174.31,653.7 174.75,652.94 175.18,652.17 175.62,651.4 176.06,650.63 176.5,649.86 176.94,649.08 177.38,648.31 177.82,647.54 178.25,646.77 178.69,646.01 179.13,645.27 179.57,644.53 180.01,643.81 180.45,643.1 180.88,642.42 181.32,641.75 181.76,641.1 182.2,640.48 182.64,639.89 183.08,639.32 183.52,638.79 183.95,638.28 184.39,637.81 184.83,637.38 185.27,636.98 185.71,636.62 186.15,636.29 186.59,636.01 187.02,635.77 187.46,635.57 187.9,635.42 188.34,635.31 188.78,635.24 189.22,635.22 189.65,635.24 190.09,635.32 190.53,635.45 190.97,635.62 191.41,635.85 191.85,636.13 192.29,636.46 192.72,636.83 193.16,637.24 193.6,637.7 194.04,638.2 194.48,638.74 194.92,639.32 195.36,639.93 195.79,640.57 196.23,641.24 196.67,641.94 197.11,642.66 197.55,643.41 197.99,644.17 198.43,644.95 198.86,645.74 199.3,646.54 199.74,647.35 200.18,648.17 200.62,648.99 201.06,649.81 201.49,650.63 201.93,651.45 202.37,652.25 202.81,653.05 203.25,653.84 203.69,654.62 204.13,655.39 204.56,656.14 205,656.87 205.44,657.58 205.88,658.28 206.32,658.96 206.76,659.61 207.19,660.25 207.63,660.86 208.07,661.45 208.51,662.02 208.95,662.56 209.39,663.08 209.83,663.58 210.26,664.05 210.7,664.51 211.14,664.94 211.58,665.34 212.02,665.73 212.46,666.09 212.9,666.44 213.33,666.76 213.77,667.06 214.21,667.35 214.65,667.61 215.09,667.86 215.53,668.09 215.96,668.31 216.4,668.51 216.84,668.69 217.28,668.86 217.72,669.02 218.16,669.16 218.6,669.3 219.03,669.42 219.47,669.53 219.91,669.63 220.35,669.72 220.79,669.81 221.23,669.88 221.67,669.95 222.1,670.01 222.54,670.06 222.98,670.11 223.42,670.16 223.86,670.19 224.3,670.23 224.74,670.26 225.17,670.28 225.61,670.3 226.05,670.32 226.49,670.34 226.93,670.35 227.37,670.36 227.8,670.37 228.24,670.38 228.68,670.38 229.12,670.38 229.56,670.38 230,670.38 230.44,670.38 230.87,670.38 231.31,670.38 231.75,670.37 232.19,670.37 232.63,670.36 233.07,670.36 233.5,670.35 233.94,670.34 234.38,670.34 234.82,670.33 235.26,670.32 235.7,670.31 236.14,670.3 236.57,670.29 237.01,670.28 237.45,670.28 237.89,670.27 238.33,670.26 238.77,670.25 239.21,670.24 239.64,670.23 240.08,670.22 240.52,670.21 240.96,670.2 241.4,670.19 241.84,670.18 242.27,670.17 242.71,670.16 243.15,670.15 243.59,670.14 244.03,670.13 244.47,670.12 244.91,670.11 245.34,670.1 245.78,670.09 246.22,670.08 246.66,670.07 247.1,670.05 247.54,670.04 247.98,670.03 248.41,670.02 248.85,670.01 249.29,670 249.73,669.99 250.17,669.98 250.61,669.97 251.05,669.96 251.48,669.95 251.92,669.94 252.36,669.93 252.8,669.92 253.24,669.91 253.68,669.9 254.11,669.89 254.55,669.88 254.99,669.87 255.43,669.86 255.87,669.85 256.31,669.84 256.75,669.83 257.18,669.82 257.62,669.81 258.06,669.8 258.5,669.79 258.94,669.78 259.38,669.77 259.81,669.76 260.25,669.75 260.69,669.74 261.13,669.73 261.57,669.72 262.01,669.71 262.45,669.69 262.88,669.68 263.32,669.67 263.76,669.66 264.2,669.65 264.64,669.64 265.08,669.63 265.52,669.62 265.95,669.61 266.39,669.6 266.83,669.59 267.27,669.58 267.71,669.57 268.15,669.56 268.58,669.55 269.02,669.54 269.46,669.53 269.9,669.52 270.34,669.51 270.78,669.5 271.22,669.49 271.65,669.48 272.09,669.47 272.53,669.46 272.97,669.45" fill="none" stroke="#0000ff" stroke-width="1.3" stroke-linejoin="round" />
<polyline points="141.42,672.53 141.86,672.52 142.3,672.51 142.74,672.5 143.17,672.49 143.61,672.48 144.05,672.47 144.49,672.46 144.93,672.45 145.37,672.44 145.81,672.43 146.24,672.42 146.68,672.41 147.12,672.4 147.56,672.39 148,672.38 148.44,672.37 148.87,672.36 149.31,672.35 149.75,672.34 150.19,672.33 150.63,672.32 151.07,672.31 151.51,672.3 151.94,672.29 152.38,672.28 152.82,672.27 153.26,672.26 153.7,672.25 154.14,672.24 154.57,672.23 155.01,672.22 155.45,672.21 155.89,672.2 156.33,672.18 156.77,672.17 157.21,672.16 157.64,672.15 158.08,672.14 158.52,672.13 158.96,672.12 159.4,672.11 159.84,672.1 160.28,672.09 160.71,672.08 161.15,672.07 161.59,672.06 162.03,672.05 162.47,672.04 162.91,672.03 163.34,672.02 163.78,672.01 164.22,672 164.66,671.99 165.1,671.98 165.54,671.97 165.98,671.96 166.41,671.95 166.85,671.94 167.29,671.93 167.73,671.92 168.17,671.91 168.61,671.9 169.05,671.89 169.48,671.88 169.92,671.87 170.36,671.86 170.8,671.85 171.24,671.84 171.68,671.82 172.12,671.81 172.55,671.8 172.99,671.79 173.43,671.78 173.87,671.77 174.31,671.76 174.75,671.75 175.18,671.74 175.62,671.73 176.06,671.72 176.5,671.71 176.94,671.7 177.38,671.69 177.82,671.68 178.25,671.67 178.69,671.66 179.13,671.65 179.57,671.64 180.01,671.63 180.45,671.62 180.88,671.61 181.32,671.6 181.76,671.59 182.2,671.58 182.64,671.57 183.08,671.56 183.52,671.55 183.95,671.53 184.39,671.52 184.83,671.51 185.27,671.5 185.71,671.49 186.15,671.48 186.59,671.47 187.02,671.46 187.46,671.45 187.9,671.44 188.34,671.42 188.78,671.41 189.22,671.4 189.65,671.39 190.09,671.37 190.53,671.36 190.97,671.35 191.41,671.33 191.85,671.32 192.29,671.3 192.72,671.28 193.16,671.27 193.6,671.25 194.04,671.23 194.48,671.21 194.92,671.19 195.36,671.16 195.79,671.13 196.23,671.11 196.67,671.08 197.11,671.04 197.55,671.01 197.99,670.97 198.43,670.92 198.86,670.88 199.3,670.83 199.74,670.77 200.18,670.71 200.62,670.64 201.06,670.57 201.49,670.49 201.93,670.4 202.37,670.3 202.81,670.2 203.25,670.08 203.69,669.96 204.13,669.82 204.56,669.67 205,669.51 205.44,669.33 205.88,669.14 206.32,668.93 206.76,668.71 207.19,668.46 207.63,668.2 208.07,667.92 208.51,667.61 208.95,667.28 209.39,666.93 209.83,666.56 210.26,666.15 210.7,665.72 211.14,665.26 211.58,664.77 212.02,664.25 212.46,663.7 212.9,663.12 213.33,662.5 213.77,661.85 214.21,661.17 214.65,660.45 215.09,659.69 215.53,658.9 215.96,658.08 216.4,657.22 216.84,656.33 217.28,655.4 217.72,654.44 218.16,653.44 218.6,652.42 219.03,651.36 219.47,650.28 219.91,649.17 220.35,648.03 220.79,646.87 221.23,645.7 221.67,644.5 222.1,643.29 222.54,642.07 222.98,640.84 223.42,639.61 223.86,638.38 224.3,637.14 224.74,635.92 225.17,634.71 225.61,633.51 226.05,632.33 226.49,631.17 226.93,630.05 227.37,628.95 227.8,627.89 228.24,626.87 228.68,625.89 229.12,624.96 229.56,624.09 230,623.27 230.44,622.51 230.87,621.81 231.31,621.18 231.75,620.61 232.19,620.12 232.63,619.7 233.07,619.35 233.5,619.08 233.94,618.89 234.38,618.78 234.82,618.74 235.26,618.79 235.7,618.94 236.14,619.17 236.57,619.5 237.01,619.91 237.45,620.41 237.89,620.99 238.33,621.65 238.77,622.39 239.21,623.2 239.64,624.08 240.08,625.03 240.52,626.03 240.96,627.09 241.4,628.19 241.84,629.35 242.27,630.54 242.71,631.76 243.15,633.01 243.59,634.28 244.03,635.58 244.47,636.88 244.91,638.19 245.34,639.5 245.78,640.81 246.22,642.12 246.66,643.41 247.1,644.69 247.54,645.94 247.98,647.18 248.41,648.39 248.85,649.57 249.29,650.72 249.73,651.84 250.17,652.92 250.61,653.96 251.05,654.97 251.48,655.94 251.92,656.86 252.36,657.75 252.8,658.59 253.24,659.4 253.68,660.16 254.11,660.88 254.55,661.56 254.99,662.2 255.43,662.81 255.87,663.37 256.31,663.9 256.75,664.4 257.18,664.86 257.62,665.29 258.06,665.68 258.5,666.05 258.94,666.39 259.38,666.7 259.81,666.98 260.25,667.24 260.69,667.48 261.13,667.7 261.57,667.9 262.01,668.08 262.45,668.24 262.88,668.39 263.32,668.52 263.76,668.64 264.2,668.74 264.64,668.84 265.08,668.92 265.52,668.99 265.95,669.06 266.39,669.11 266.83,669.16 267.27,669.21 267.71,669.24 268.15,669.27 268.58,669.3 269.02,669.32 269.46,669.34 269.9,669.36 270.34,669.37 270.78,669.38 271.22,669.38 271.65,669.39 272.09,669.39 272.53,669.39 272.97,669.39" fill="none" stroke="#ff0000" stroke-width="1.3" stroke-linejoin="round" />
</g>
<clipPath id="cp-b2"><rect x="75.5" y="700.5" width="262.0" height="119.0"/></clipPath>
<line x1="75.5" y1="800.6" x2="91.25" y2="800.6" stroke="#666" stroke-width="1.25" />
<line x1="75.5" y1="760.5" x2="91.25" y2="760.5" stroke="#666" stroke-width="1.25" />
<line x1="75.5" y1="720.4" x2="91.25" y2="720.4" stroke="#666" stroke-width="1.25" />
<line x1="75.5" y1="780.55" x2="83.25" y2="780.55" stroke="#666" stroke-width="1.25" />
<line x1="75.5" y1="740.45" x2="83.25" y2="740.45" stroke="#666" stroke-width="1.25" />
<line x1="88.8" y1="819.5" x2="88.8" y2="809" stroke="#666" stroke-width="1.25" />
<line x1="176.5" y1="819.5" x2="176.5" y2="809" stroke="#666" stroke-width="1.25" />
<line x1="264.2" y1="819.5" x2="264.2" y2="809" stroke="#666" stroke-width="1.25" />
<line x1="132.65" y1="819.5" x2="132.65" y2="814.5" stroke="#666" stroke-width="1.25" />
<line x1="220.35" y1="819.5" x2="220.35" y2="814.5" stroke="#666" stroke-width="1.25" />
<line x1="308.05" y1="819.5" x2="308.05" y2="814.5" stroke="#666" stroke-width="1.25" />
<path d="M75.5,792.38 L79.53,792.38 L79.53,801.4 L83.91,801.4 L83.91,796.19 L88.3,796.19 L88.3,782.56 L92.69,782.56 L92.69,789.57 L97.07,789.57 L97.07,797.19 L101.45,797.19 L101.45,794.38 L105.84,794.38 L105.84,797.19 L110.22,797.19 L110.22,782.56 L114.61,782.56 L114.61,784.56 L119,784.56 L119,789.37 L123.38,789.37 L123.38,792.18 L127.76,792.18 L127.76,791.78 L132.15,791.78 L132.15,800 L136.53,800 L136.53,784.96 L140.92,784.96 L140.92,786.97 L145.31,786.97 L145.31,783.36 L149.69,783.36 L149.69,781.55 L154.07,781.55 L154.07,784.16 L158.46,784.16 L158.46,785.76 L162.84,785.76 L162.84,786.36 L167.23,786.36 L167.23,784.56 L171.62,784.56 L171.62,776.14 L176,776.14 L176,754.28 L180.38,754.28 L180.38,747.87 L184.77,747.87 L184.77,740.85 L189.15,740.85 L189.15,741.45 L193.54,741.45 L193.54,743.46 L197.93,743.46 L197.93,755.29 L202.31,755.29 L202.31,762.1 L206.69,762.1 L206.69,785.76 L211.08,785.76 L211.08,776.54 L215.46,776.54 L215.46,776.94 L219.85,776.94 L219.85,776.74 L224.24,776.74 L224.24,772.33 L228.62,772.33 L228.62,761.3 L233,761.3 L233,761.3 L237.39,761.3 L237.39,774.33 L241.77,774.33 L241.77,779.35 L246.16,779.35 L246.16,788.97 L250.55,788.97 L250.55,779.55 L254.93,779.55 L254.93,799 L259.31,799 L259.31,780.35 L263.7,780.35 L263.7,791.38 L268.08,791.38 L268.08,779.55 L272.47,779.55 L272.47,783.16 L276.85,783.16 L276.85,782.35 L281.24,782.35 L281.24,773.33 L285.62,773.33 L285.62,782.76 L290.01,782.76 L290.01,790.78 L294.39,790.78 L294.39,777.54 L298.78,777.54 L298.78,794.79 L303.16,794.79 L303.16,800.4 L307.55,800.4 L307.55,791.38 L311.94,791.38 L311.94,784.56 L316.32,784.56 L316.32,782.96 L320.7,782.96 L320.7,779.15 L325.09,779.15 L325.09,772.53 L329.47,772.53 L329.47,779.95 L333.86,779.95 L333.86,787.17 L337.5,787.17" fill="none" stroke="#333" stroke-width="1" clip-path="url(#cp-b2)"/>
<g clip-path="url(#cp-b2)">
<polyline points="141.42,787.6 141.86,787.6 142.3,787.59 142.74,787.58 143.17,787.57 143.61,787.56 144.05,787.55 144.49,787.53 144.93,787.52 145.37,787.5 145.81,787.48 146.24,787.46 146.68,787.44 147.12,787.41 147.56,787.38 148,787.34 148.44,787.31 148.87,787.27 149.31,787.22 149.75,787.17 150.19,787.12 150.63,787.06 151.07,786.99 151.51,786.92 151.94,786.85 152.38,786.76 152.82,786.67 153.26,786.57 153.7,786.46 154.14,786.35 154.57,786.22 155.01,786.09 155.45,785.94 155.89,785.78 156.33,785.61 156.77,785.43 157.21,785.24 157.64,785.03 158.08,784.81 158.52,784.57 158.96,784.32 159.4,784.05 159.84,783.76 160.28,783.46 160.71,783.13 161.15,782.79 161.59,782.43 162.03,782.05 162.47,781.65 162.91,781.23 163.34,780.78 163.78,780.31 164.22,779.82 164.66,779.31 165.1,778.78 165.54,778.22 165.98,777.63 166.41,777.03 166.85,776.39 167.29,775.74 167.73,775.06 168.17,774.36 168.61,773.63 169.05,772.89 169.48,772.12 169.92,771.32 170.36,770.51 170.8,769.68 171.24,768.82 171.68,767.95 172.12,767.06 172.55,766.16 172.99,765.24 173.43,764.31 173.87,763.37 174.31,762.41 174.75,761.45 175.18,760.48 175.62,759.51 176.06,758.54 176.5,757.56 176.94,756.59 177.38,755.62 177.82,754.66 178.25,753.7 178.69,752.76 179.13,751.83 179.57,750.92 180.01,750.03 180.45,749.16 180.88,748.31 181.32,747.49 181.76,746.69 182.2,745.93 182.64,745.2 183.08,744.5 183.52,743.84 183.95,743.22 184.39,742.65 184.83,742.11 185.27,741.62 185.71,741.18 186.15,740.78 186.59,740.43 187.02,740.14 187.46,739.89 187.9,739.7 188.34,739.55 188.78,739.47 189.22,739.43 189.65,739.46 190.09,739.56 190.53,739.73 190.97,739.98 191.41,740.31 191.85,740.7 192.29,741.17 192.72,741.7 193.16,742.3 193.6,742.96 194.04,743.68 194.48,744.46 194.92,745.29 195.36,746.16 195.79,747.09 196.23,748.05 196.67,749.05 197.11,750.08 197.55,751.15 197.99,752.23 198.43,753.34 198.86,754.46 199.3,755.6 199.74,756.74 200.18,757.89 200.62,759.03 201.06,760.17 201.49,761.3 201.93,762.42 202.37,763.53 202.81,764.61 203.25,765.67 203.69,766.71 204.13,767.73 204.56,768.71 205,769.66 205.44,770.57 205.88,771.45 206.32,772.29 206.76,773.1 207.19,773.86 207.63,774.58 208.07,775.26 208.51,775.89 208.95,776.48 209.39,777.02 209.83,777.52 210.26,777.98 210.7,778.39 211.14,778.75 211.58,779.08 212.02,779.35 212.46,779.58 212.9,779.77 213.33,779.92 213.77,780.02 214.21,780.08 214.65,780.1 215.09,780.09 215.53,780.03 215.96,779.94 216.4,779.81 216.84,779.64 217.28,779.45 217.72,779.22 218.16,778.96 218.6,778.67 219.03,778.35 219.47,778.01 219.91,777.64 220.35,777.25 220.79,776.85 221.23,776.42 221.67,775.98 222.1,775.52 222.54,775.05 222.98,774.58 223.42,774.09 223.86,773.6 224.3,773.11 224.74,772.62 225.17,772.13 225.61,771.64 226.05,771.16 226.49,770.69 226.93,770.23 227.37,769.79 227.8,769.36 228.24,768.95 228.68,768.56 229.12,768.19 229.56,767.84 230,767.52 230.44,767.23 230.87,766.97 231.31,766.74 231.75,766.54 232.19,766.37 232.63,766.23 233.07,766.13 233.5,766.07 233.94,766.04 234.38,766.05 234.82,766.09 235.26,766.17 235.7,766.28 236.14,766.43 236.57,766.61 237.01,766.83 237.45,767.08 237.89,767.36 238.33,767.67 238.77,768.01 239.21,768.37 239.64,768.77 240.08,769.18 240.52,769.62 240.96,770.08 241.4,770.55 241.84,771.04 242.27,771.55 242.71,772.06 243.15,772.59 243.59,773.13 244.03,773.67 244.47,774.21 244.91,774.76 245.34,775.31 245.78,775.85 246.22,776.39 246.66,776.93 247.1,777.46 247.54,777.99 247.98,778.5 248.41,779 248.85,779.5 249.29,779.98 249.73,780.45 250.17,780.9 250.61,781.34 251.05,781.76 251.48,782.17 251.92,782.57 252.36,782.94 252.8,783.3 253.24,783.65 253.68,783.98 254.11,784.29 254.55,784.59 254.99,784.87 255.43,785.13 255.87,785.38 256.31,785.62 256.75,785.84 257.18,786.05 257.62,786.24 258.06,786.42 258.5,786.59 258.94,786.75 259.38,786.9 259.81,787.03 260.25,787.16 260.69,787.27 261.13,787.38 261.57,787.48 262.01,787.57 262.45,787.65 262.88,787.73 263.32,787.8 263.76,787.86 264.2,787.92 264.64,787.97 265.08,788.02 265.52,788.06 265.95,788.1 266.39,788.14 266.83,788.17 267.27,788.2 267.71,788.23 268.15,788.25 268.58,788.27 269.02,788.29 269.46,788.31 269.9,788.32 270.34,788.34 270.78,788.35 271.22,788.36 271.65,788.37 272.09,788.38 272.53,788.39 272.97,788.4" fill="none" stroke="#000" stroke-width="1.3" stroke-linejoin="round" />
<polyline points="141.42,787.6 141.86,787.6 142.3,787.59 142.74,787.58 143.17,787.57 143.61,787.56 144.05,787.55 144.49,787.53 144.93,787.52 145.37,787.5 145.81,787.48 146.24,787.46 146.68,787.44 147.12,787.41 147.56,787.38 148,787.34 148.44,787.31 148.87,787.27 149.31,787.22 149.75,787.17 150.19,787.12 150.63,787.06 151.07,786.99 151.51,786.92 151.94,786.85 152.38,786.76 152.82,786.67 153.26,786.57 153.7,786.46 154.14,786.35 154.57,786.22 155.01,786.09 155.45,785.94 155.89,785.78 156.33,785.61 156.77,785.43 157.21,785.24 157.64,785.03 158.08,784.81 158.52,784.57 158.96,784.32 159.4,784.05 159.84,783.76 160.28,783.46 160.71,783.13 161.15,782.79 161.59,782.43 162.03,782.05 162.47,781.65 162.91,781.23 163.34,780.78 163.78,780.31 164.22,779.82 164.66,779.31 165.1,778.78 165.54,778.22 165.98,777.63 166.41,777.03 166.85,776.39 167.29,775.74 167.73,775.06 168.17,774.36 168.61,773.63 169.05,772.89 169.48,772.12 169.92,771.32 170.36,770.51 170.8,769.68 171.24,768.82 171.68,767.95 172.12,767.06 172.55,766.16 172.99,765.24 173.43,764.31 173.87,763.37 174.31,762.41 174.75,761.45 175.18,760.48 175.62,759.51 176.06,758.54 176.5,757.56 176.94,756.59 177.38,755.62 177.82,754.66 178.25,753.7 178.69,752.76 179.13,751.83 179.57,750.92 180.01,750.03 180.45,749.16 180.88,748.31 181.32,747.49 181.76,746.69 182.2,745.93 182.64,745.2 183.08,744.5 183.52,743.84 183.95,743.22 184.39,742.65 184.83,742.11 185.27,741.62 185.71,741.18 186.15,740.78 186.59,740.43 187.02,740.14 187.46,739.89 187.9,739.7 188.34,739.56 188.78,739.47 189.22,739.44 189.65,739.46 190.09,739.56 190.53,739.74 190.97,739.99 191.41,740.32 191.85,740.72 192.29,741.18 192.72,741.72 193.16,742.32 193.6,742.98 194.04,743.71 194.48,744.49 194.92,745.32 195.36,746.2 195.79,747.13 196.23,748.1 196.67,749.11 197.11,750.15 197.55,751.22 197.99,752.32 198.43,753.44 198.86,754.58 199.3,755.73 199.74,756.89 200.18,758.06 200.62,759.22 201.06,760.39 201.49,761.55 201.93,762.7 202.37,763.84 202.81,764.96 203.25,766.07 203.69,767.15 204.13,768.22 204.56,769.26 205,770.27 205.44,771.26 205.88,772.21 206.32,773.14 206.76,774.03 207.19,774.89 207.63,775.72 208.07,776.51 208.51,777.27 208.95,778 209.39,778.69 209.83,779.35 210.26,779.97 210.7,780.57 211.14,781.13 211.58,781.66 212.02,782.15 212.46,782.62 212.9,783.06 213.33,783.48 213.77,783.86 214.21,784.22 214.65,784.56 215.09,784.87 215.53,785.16 215.96,785.42 216.4,785.67 216.84,785.9 217.28,786.11 217.72,786.31 218.16,786.48 218.6,786.65 219.03,786.8 219.47,786.93 219.91,787.06 220.35,787.17 220.79,787.28 221.23,787.37 221.67,787.46 222.1,787.53 222.54,787.6 222.98,787.67 223.42,787.72 223.86,787.78 224.3,787.82 224.74,787.86 225.17,787.9 225.61,787.93 226.05,787.96 226.49,787.99 226.93,788.02 227.37,788.04 227.8,788.06 228.24,788.07 228.68,788.09 229.12,788.1 229.56,788.12 230,788.13 230.44,788.14 230.87,788.15 231.31,788.16 231.75,788.16 232.19,788.17 232.63,788.18 233.07,788.18 233.5,788.19 233.94,788.19 234.38,788.2 234.82,788.2 235.26,788.21 235.7,788.21 236.14,788.22 236.57,788.22 237.01,788.22 237.45,788.23 237.89,788.23 238.33,788.23 238.77,788.23 239.21,788.24 239.64,788.24 240.08,788.24 240.52,788.25 240.96,788.25 241.4,788.25 241.84,788.25 242.27,788.26 242.71,788.26 243.15,788.26 243.59,788.26 244.03,788.27 244.47,788.27 244.91,788.27 245.34,788.28 245.78,788.28 246.22,788.28 246.66,788.28 247.1,788.29 247.54,788.29 247.98,788.29 248.41,788.29 248.85,788.3 249.29,788.3 249.73,788.3 250.17,788.3 250.61,788.31 251.05,788.31 251.48,788.31 251.92,788.31 252.36,788.32 252.8,788.32 253.24,788.32 253.68,788.32 254.11,788.33 254.55,788.33 254.99,788.33 255.43,788.33 255.87,788.34 256.31,788.34 256.75,788.34 257.18,788.34 257.62,788.35 258.06,788.35 258.5,788.35 258.94,788.35 259.38,788.36 259.81,788.36 260.25,788.36 260.69,788.36 261.13,788.37 261.57,788.37 262.01,788.37 262.45,788.38 262.88,788.38 263.32,788.38 263.76,788.38 264.2,788.39 264.64,788.39 265.08,788.39 265.52,788.39 265.95,788.4 266.39,788.4 266.83,788.4 267.27,788.4 267.71,788.41 268.15,788.41 268.58,788.41 269.02,788.41 269.46,788.42 269.9,788.42 270.34,788.42 270.78,788.42 271.22,788.43 271.65,788.43 272.09,788.43 272.53,788.43 272.97,788.44" fill="none" stroke="#0000ff" stroke-width="1.3" stroke-linejoin="round" />
<polyline points="141.42,787.67 141.86,787.67 142.3,787.67 142.74,787.68 143.17,787.68 143.61,787.68 144.05,787.68 144.49,787.69 144.93,787.69 145.37,787.69 145.81,787.69 146.24,787.7 146.68,787.7 147.12,787.7 147.56,787.7 148,787.71 148.44,787.71 148.87,787.71 149.31,787.71 149.75,787.72 150.19,787.72 150.63,787.72 151.07,787.72 151.51,787.73 151.94,787.73 152.38,787.73 152.82,787.74 153.26,787.74 153.7,787.74 154.14,787.74 154.57,787.75 155.01,787.75 155.45,787.75 155.89,787.75 156.33,787.76 156.77,787.76 157.21,787.76 157.64,787.76 158.08,787.77 158.52,787.77 158.96,787.77 159.4,787.77 159.84,787.78 160.28,787.78 160.71,787.78 161.15,787.78 161.59,787.79 162.03,787.79 162.47,787.79 162.91,787.79 163.34,787.8 163.78,787.8 164.22,787.8 164.66,787.8 165.1,787.81 165.54,787.81 165.98,787.81 166.41,787.81 166.85,787.82 167.29,787.82 167.73,787.82 168.17,787.82 168.61,787.83 169.05,787.83 169.48,787.83 169.92,787.83 170.36,787.84 170.8,787.84 171.24,787.84 171.68,787.85 172.12,787.85 172.55,787.85 172.99,787.85 173.43,787.86 173.87,787.86 174.31,787.86 174.75,787.86 175.18,787.87 175.62,787.87 176.06,787.87 176.5,787.87 176.94,787.88 177.38,787.88 177.82,787.88 178.25,787.88 178.69,787.89 179.13,787.89 179.57,787.89 180.01,787.89 180.45,787.9 180.88,787.9 181.32,787.9 181.76,787.9 182.2,787.91 182.64,787.91 183.08,787.91 183.52,787.91 183.95,787.92 184.39,787.92 184.83,787.92 185.27,787.92 185.71,787.93 186.15,787.93 186.59,787.93 187.02,787.93 187.46,787.94 187.9,787.94 188.34,787.94 188.78,787.94 189.22,787.94 189.65,787.94 190.09,787.95 190.53,787.95 190.97,787.95 191.41,787.95 191.85,787.95 192.29,787.95 192.72,787.95 193.16,787.95 193.6,787.95 194.04,787.95 194.48,787.95 194.92,787.95 195.36,787.94 195.79,787.94 196.23,787.94 196.67,787.93 197.11,787.93 197.55,787.92 197.99,787.91 198.43,787.9 198.86,787.89 199.3,787.87 199.74,787.86 200.18,787.84 200.62,787.82 201.06,787.8 201.49,787.77 201.93,787.74 202.37,787.71 202.81,787.68 203.25,787.64 203.69,787.59 204.13,787.54 204.56,787.49 205,787.43 205.44,787.36 205.88,787.29 206.32,787.21 206.76,787.12 207.19,787.02 207.63,786.92 208.07,786.8 208.51,786.68 208.95,786.55 209.39,786.4 209.83,786.24 210.26,786.08 210.7,785.9 211.14,785.7 211.58,785.5 212.02,785.28 212.46,785.04 212.9,784.79 213.33,784.53 213.77,784.25 214.21,783.96 214.65,783.65 215.09,783.32 215.53,782.98 215.96,782.62 216.4,782.24 216.84,781.85 217.28,781.44 217.72,781.02 218.16,780.59 218.6,780.14 219.03,779.67 219.47,779.2 219.91,778.71 220.35,778.21 220.79,777.7 221.23,777.18 221.67,776.66 222.1,776.13 222.54,775.59 222.98,775.05 223.42,774.52 223.86,773.98 224.3,773.44 224.74,772.91 225.17,772.38 225.61,771.87 226.05,771.36 226.49,770.87 226.93,770.39 227.37,769.92 227.8,769.47 228.24,769.05 228.68,768.64 229.12,768.26 229.56,767.91 230,767.58 230.44,767.28 230.87,767.01 231.31,766.77 231.75,766.57 232.19,766.4 232.63,766.26 233.07,766.15 233.5,766.09 233.94,766.05 234.38,766.06 234.82,766.1 235.26,766.18 235.7,766.29 236.14,766.44 236.57,766.62 237.01,766.83 237.45,767.08 237.89,767.36 238.33,767.67 238.77,768.01 239.21,768.38 239.64,768.77 240.08,769.18 240.52,769.62 240.96,770.08 241.4,770.55 241.84,771.04 242.27,771.55 242.71,772.07 243.15,772.59 243.59,773.13 244.03,773.67 244.47,774.21 244.91,774.76 245.34,775.31 245.78,775.85 246.22,776.39 246.66,776.93 247.1,777.46 247.54,777.99 247.98,778.5 248.41,779 248.85,779.5 249.29,779.98 249.73,780.45 250.17,780.9 250.61,781.34 251.05,781.76 251.48,782.17 251.92,782.57 252.36,782.94 252.8,783.3 253.24,783.65 253.68,783.98 254.11,784.29 254.55,784.59 254.99,784.87 255.43,785.13 255.87,785.38 256.31,785.62 256.75,785.84 257.18,786.05 257.62,786.24 258.06,786.42 258.5,786.59 258.94,786.75 259.38,786.9 259.81,787.03 260.25,787.16 260.69,787.27 261.13,787.38 261.57,787.48 262.01,787.57 262.45,787.65 262.88,787.73 263.32,787.8 263.76,787.86 264.2,787.92 264.64,787.97 265.08,788.02 265.52,788.06 265.95,788.1 266.39,788.14 266.83,788.17 267.27,788.2 267.71,788.23 268.15,788.25 268.58,788.27 269.02,788.29 269.46,788.31 269.9,788.32 270.34,788.34 270.78,788.35 271.22,788.36 271.65,788.37 272.09,788.38 272.53,788.39 272.97,788.4" fill="none" stroke="#ff0000" stroke-width="1.3" stroke-linejoin="round" />
</g>
<rect x="75.5" y="433.5" width="262.0" height="386.0" fill="none" stroke="#5a5a5a" stroke-width="1.25"/>
<line x1="75.5" y1="566.5" x2="337.5" y2="566.5" stroke="#5a5a5a" stroke-width="1.25" />
<line x1="75.5" y1="700.5" x2="337.5" y2="700.5" stroke="#5a5a5a" stroke-width="1.25" />
</g>
<g id="left-c">
<line x1="196.45" y1="847" x2="196.45" y2="1232" stroke="#111" stroke-width="0.9" stroke-dasharray="2,1.8" stroke-dashoffset="1.73"/>
<line x1="230.57" y1="847" x2="230.57" y2="1232" stroke="#111" stroke-width="0.9" stroke-dasharray="2,1.8" stroke-dashoffset="1.73"/>
<clipPath id="cp-c0"><rect x="75.5" y="846.5" width="262.0" height="134.0"/></clipPath>
<line x1="75.5" y1="926.9" x2="95" y2="926.9" stroke="#666" stroke-width="1.25" />
<line x1="75.5" y1="869.2" x2="95" y2="869.2" stroke="#666" stroke-width="1.25" />
<line x1="75.5" y1="955.75" x2="85.5" y2="955.75" stroke="#666" stroke-width="1.25" />
<line x1="75.5" y1="898.05" x2="85.5" y2="898.05" stroke="#666" stroke-width="1.25" />
<line x1="104.6" y1="980.5" x2="104.6" y2="970" stroke="#666" stroke-width="1.25" />
<line x1="250.4" y1="980.5" x2="250.4" y2="970" stroke="#666" stroke-width="1.25" />
<line x1="177.5" y1="980.5" x2="177.5" y2="975.5" stroke="#666" stroke-width="1.25" />
<line x1="323.3" y1="980.5" x2="323.3" y2="975.5" stroke="#666" stroke-width="1.25" />
<path d="M75.5,923.44 L78.36,923.44 L78.36,929.78 L81.27,929.78 L81.27,920.55 L84.19,920.55 L84.19,933.25 L87.1,933.25 L87.1,936.13 L90.02,936.13 L90.02,925.17 L92.94,925.17 L92.94,936.13 L95.85,936.13 L95.85,946.52 L98.77,946.52 L98.77,904.4 L101.68,904.4 L101.68,906.13 L104.6,906.13 L104.6,909.59 L107.52,909.59 L107.52,915.94 L110.43,915.94 L110.43,933.25 L113.35,933.25 L113.35,921.71 L116.26,921.71 L116.26,922.86 L119.18,922.86 L119.18,929.21 L122.1,929.21 L122.1,928.05 L125.01,928.05 L125.01,913.63 L127.93,913.63 L127.93,918.25 L130.84,918.25 L130.84,934.98 L133.76,934.98 L133.76,937.86 L136.68,937.86 L136.68,938.44 L139.59,938.44 L139.59,929.21 L142.51,929.21 L142.51,940.17 L145.42,940.17 L145.42,933.25 L148.34,933.25 L148.34,934.98 L151.26,934.98 L151.26,916.51 L154.17,916.51 L154.17,898.05 L157.09,898.05 L157.09,939.59 L160,939.59 L160,926.32 L162.92,926.32 L162.92,943.06 L165.84,943.06 L165.84,936.71 L168.75,936.71 L168.75,954.02 L171.67,954.02 L171.67,940.17 L174.58,940.17 L174.58,924.59 L177.5,924.59 L177.5,926.32 L180.42,926.32 L180.42,926.32 L183.33,926.32 L183.33,935.55 L186.25,935.55 L186.25,925.75 L189.16,925.75 L189.16,945.36 L192.08,945.36 L192.08,916.51 L195,916.51 L195,918.25 L197.91,918.25 L197.91,936.13 L200.83,936.13 L200.83,923.44 L203.74,923.44 L203.74,922.86 L206.66,922.86 L206.66,921.13 L209.58,921.13 L209.58,945.36 L212.49,945.36 L212.49,904.4 L215.41,904.4 L215.41,910.74 L218.32,910.74 L218.32,914.21 L221.24,914.21 L221.24,897.47 L224.16,897.47 L224.16,899.2 L227.07,899.2 L227.07,911.9 L229.99,911.9 L229.99,893.43 L232.9,893.43 L232.9,902.09 L235.82,902.09 L235.82,915.94 L238.74,915.94 L238.74,906.71 L241.65,906.71 L241.65,942.48 L244.57,942.48 L244.57,932.67 L247.48,932.67 L247.48,941.32 L250.4,941.32 L250.4,936.71 L253.32,936.71 L253.32,944.79 L256.23,944.79 L256.23,943.63 L259.15,943.63 L259.15,949.4 L262.06,949.4 L262.06,943.63 L264.98,943.63 L264.98,939.59 L267.9,939.59 L267.9,949.4 L270.81,949.4 L270.81,936.71 L273.73,936.71 L273.73,939.02 L276.64,939.02 L276.64,942.48 L279.56,942.48 L279.56,958.06 L282.48,958.06 L282.48,950.56 L285.39,950.56 L285.39,946.52 L288.31,946.52 L288.31,940.75 L291.22,940.75 L291.22,950.56 L294.14,950.56 L294.14,950.56 L297.06,950.56 L297.06,959.21 L299.97,959.21 L299.97,951.13 L302.89,951.13 L302.89,959.21 L305.8,959.21 L305.8,952.29 L308.72,952.29 L308.72,970.75 L311.64,970.75 L311.64,928.63 L314.55,928.63 L314.55,940.75 L317.47,940.75 L317.47,954.6 L320.38,954.6 L320.38,955.75 L323.3,955.75 L323.3,964.4 L326.22,964.4 L326.22,949.4 L329.13,949.4 L329.13,935.55 L332.05,935.55 L332.05,951.13 L334.96,951.13 L334.96,959.21 L337.5,959.21" fill="none" stroke="#333" stroke-width="1" clip-path="url(#cp-c0)"/>
<g clip-path="url(#cp-c0)">
<polyline points="148.34,927.19 148.78,927.24 149.21,927.29 149.65,927.35 150.09,927.4 150.53,927.45 150.96,927.5 151.4,927.55 151.84,927.6 152.28,927.65 152.71,927.7 153.15,927.75 153.59,927.8 154.03,927.85 154.46,927.9 154.9,927.95 155.34,928 155.78,928.06 156.21,928.11 156.65,928.16 157.09,928.21 157.53,928.26 157.96,928.31 158.4,928.36 158.84,928.41 159.27,928.46 159.71,928.51 160.15,928.56 160.59,928.61 161.02,928.66 161.46,928.71 161.9,928.76 162.34,928.81 162.77,928.87 163.21,928.92 163.65,928.97 164.09,929.02 164.52,929.07 164.96,929.12 165.4,929.16 165.84,929.21 166.27,929.26 166.71,929.31 167.15,929.36 167.59,929.41 168.02,929.46 168.46,929.5 168.9,929.55 169.34,929.59 169.77,929.64 170.21,929.68 170.65,929.72 171.08,929.76 171.52,929.8 171.96,929.83 172.4,929.87 172.83,929.9 173.27,929.93 173.71,929.95 174.15,929.98 174.58,929.99 175.02,930.01 175.46,930.02 175.9,930.02 176.33,930.02 176.77,930.01 177.21,930 177.65,929.98 178.08,929.95 178.52,929.91 178.96,929.87 179.4,929.82 179.83,929.76 180.27,929.68 180.71,929.6 181.14,929.51 181.58,929.41 182.02,929.3 182.46,929.18 182.89,929.05 183.33,928.91 183.77,928.75 184.21,928.59 184.64,928.42 185.08,928.25 185.52,928.06 185.96,927.87 186.39,927.67 186.83,927.47 187.27,927.26 187.71,927.06 188.14,926.85 188.58,926.64 189.02,926.44 189.46,926.24 189.89,926.05 190.33,925.86 190.77,925.69 191.21,925.52 191.64,925.37 192.08,925.23 192.52,925.11 192.95,925.01 193.39,924.92 193.83,924.86 194.27,924.81 194.7,924.79 195.14,924.79 195.58,924.81 196.02,924.85 196.45,924.92 196.89,925.01 197.33,925.12 197.77,925.25 198.2,925.4 198.64,925.57 199.08,925.76 199.52,925.96 199.95,926.18 200.39,926.42 200.83,926.66 201.27,926.92 201.7,927.19 202.14,927.46 202.58,927.74 203.01,928.03 203.45,928.31 203.89,928.59 204.33,928.87 204.76,929.15 205.2,929.42 205.64,929.68 206.08,929.93 206.51,930.17 206.95,930.4 207.39,930.61 207.83,930.79 208.26,930.96 208.7,931.11 209.14,931.23 209.58,931.32 210.01,931.39 210.45,931.42 210.89,931.43 211.33,931.39 211.76,931.32 212.2,931.2 212.64,931.05 213.08,930.85 213.51,930.6 213.95,930.3 214.39,929.95 214.82,929.55 215.26,929.09 215.7,928.58 216.14,928 216.57,927.36 217.01,926.66 217.45,925.9 217.89,925.08 218.32,924.2 218.76,923.25 219.2,922.25 219.64,921.18 220.07,920.07 220.51,918.9 220.95,917.68 221.39,916.42 221.82,915.13 222.26,913.8 222.7,912.45 223.14,911.08 223.57,909.71 224.01,908.33 224.45,906.96 224.88,905.62 225.32,904.3 225.76,903.02 226.2,901.78 226.63,900.61 227.07,899.5 227.51,898.47 227.95,897.53 228.38,896.68 228.82,895.94 229.26,895.3 229.7,894.78 230.13,894.38 230.57,894.1 231.01,893.95 231.45,893.93 231.88,894.05 232.32,894.31 232.76,894.72 233.2,895.26 233.63,895.93 234.07,896.73 234.51,897.65 234.95,898.69 235.38,899.82 235.82,901.05 236.26,902.36 236.69,903.74 237.13,905.17 237.57,906.66 238.01,908.18 238.44,909.73 238.88,911.28 239.32,912.84 239.76,914.4 240.19,915.93 240.63,917.45 241.07,918.92 241.51,920.36 241.94,921.76 242.38,923.1 242.82,924.38 243.26,925.61 243.69,926.77 244.13,927.87 244.57,928.91 245.01,929.88 245.44,930.79 245.88,931.64 246.32,932.42 246.75,933.14 247.19,933.81 247.63,934.42 248.07,934.98 248.5,935.49 248.94,935.95 249.38,936.38 249.82,936.76 250.25,937.1 250.69,937.41 251.13,937.69 251.57,937.94 252,938.17 252.44,938.38 252.88,938.56 253.32,938.73 253.75,938.88 254.19,939.01 254.63,939.14 255.07,939.25 255.5,939.36 255.94,939.45 256.38,939.54 256.82,939.62 257.25,939.7 257.69,939.77 258.13,939.84 258.56,939.91 259,939.97 259.44,940.03 259.88,940.09 260.31,940.15 260.75,940.2 261.19,940.26 261.63,940.31 262.06,940.37 262.5,940.42 262.94,940.47 263.38,940.53 263.81,940.58 264.25,940.63 264.69,940.68 265.13,940.73 265.56,940.78 266,940.83 266.44,940.89 266.88,940.94 267.31,940.99 267.75,941.04 268.19,941.09 268.62,941.14 269.06,941.19 269.5,941.24 269.94,941.29 270.37,941.34 270.81,941.39 271.25,941.44 271.69,941.5 272.12,941.55 272.56,941.6 273,941.65 273.44,941.7 273.87,941.75 274.31,941.8 274.75,941.85 275.19,941.9 275.62,941.95 276.06,942 276.5,942.05 276.94,942.1 277.37,942.15 277.81,942.21 278.25,942.26 278.69,942.31 279.12,942.36 279.56,942.41" fill="none" stroke="#000" stroke-width="1.3" stroke-linejoin="round" />
<polyline points="148.34,927.19 148.78,927.24 149.21,927.29 149.65,927.35 150.09,927.4 150.53,927.45 150.96,927.5 151.4,927.55 151.84,927.6 152.28,927.65 152.71,927.7 153.15,927.75 153.59,927.8 154.03,927.85 154.46,927.9 154.9,927.95 155.34,928 155.78,928.06 156.21,928.11 156.65,928.16 157.09,928.21 157.53,928.26 157.96,928.31 158.4,928.36 158.84,928.41 159.27,928.46 159.71,928.51 160.15,928.56 160.59,928.61 161.02,928.66 161.46,928.71 161.9,928.76 162.34,928.81 162.77,928.87 163.21,928.92 163.65,928.97 164.09,929.02 164.52,929.07 164.96,929.12 165.4,929.16 165.84,929.21 166.27,929.26 166.71,929.31 167.15,929.36 167.59,929.41 168.02,929.46 168.46,929.5 168.9,929.55 169.34,929.59 169.77,929.64 170.21,929.68 170.65,929.72 171.08,929.76 171.52,929.8 171.96,929.83 172.4,929.87 172.83,929.9 173.27,929.93 173.71,929.95 174.15,929.98 174.58,929.99 175.02,930.01 175.46,930.02 175.9,930.02 176.33,930.02 176.77,930.01 177.21,930 177.65,929.98 178.08,929.95 178.52,929.91 178.96,929.87 179.4,929.82 179.83,929.76 180.27,929.68 180.71,929.6 181.14,929.51 181.58,929.41 182.02,929.3 182.46,929.18 182.89,929.05 183.33,928.91 183.77,928.75 184.21,928.59 184.64,928.42 185.08,928.25 185.52,928.06 185.96,927.87 186.39,927.67 186.83,927.47 187.27,927.26 187.71,927.06 188.14,926.85 188.58,926.64 189.02,926.44 189.46,926.24 189.89,926.05 190.33,925.86 190.77,925.69 191.21,925.52 191.64,925.37 192.08,925.23 192.52,925.11 192.95,925.01 193.39,924.92 193.83,924.86 194.27,924.81 194.7,924.79 195.14,924.79 195.58,924.81 196.02,924.86 196.45,924.92 196.89,925.01 197.33,925.12 197.77,925.26 198.2,925.41 198.64,925.58 199.08,925.77 199.52,925.98 199.95,926.2 200.39,926.44 200.83,926.69 201.27,926.95 201.7,927.23 202.14,927.51 202.58,927.8 203.01,928.1 203.45,928.39 203.89,928.7 204.33,929 204.76,929.3 205.2,929.6 205.64,929.9 206.08,930.19 206.51,930.48 206.95,930.76 207.39,931.04 207.83,931.31 208.26,931.56 208.7,931.81 209.14,932.05 209.58,932.28 210.01,932.51 210.45,932.72 210.89,932.92 211.33,933.11 211.76,933.29 212.2,933.47 212.64,933.63 213.08,933.79 213.51,933.93 213.95,934.07 214.39,934.2 214.82,934.33 215.26,934.44 215.7,934.55 216.14,934.66 216.57,934.76 217.01,934.85 217.45,934.94 217.89,935.03 218.32,935.11 218.76,935.19 219.2,935.26 219.64,935.33 220.07,935.4 220.51,935.47 220.95,935.53 221.39,935.59 221.82,935.66 222.26,935.72 222.7,935.77 223.14,935.83 223.57,935.89 224.01,935.94 224.45,936 224.88,936.05 225.32,936.11 225.76,936.16 226.2,936.21 226.63,936.26 227.07,936.32 227.51,936.37 227.95,936.42 228.38,936.47 228.82,936.52 229.26,936.57 229.7,936.62 230.13,936.68 230.57,936.73 231.01,936.78 231.45,936.83 231.88,936.88 232.32,936.93 232.76,936.98 233.2,937.03 233.63,937.08 234.07,937.13 234.51,937.18 234.95,937.23 235.38,937.29 235.82,937.34 236.26,937.39 236.69,937.44 237.13,937.49 237.57,937.54 238.01,937.59 238.44,937.64 238.88,937.69 239.32,937.74 239.76,937.79 240.19,937.84 240.63,937.89 241.07,937.94 241.51,938 241.94,938.05 242.38,938.1 242.82,938.15 243.26,938.2 243.69,938.25 244.13,938.3 244.57,938.35 245.01,938.4 245.44,938.45 245.88,938.5 246.32,938.55 246.75,938.6 247.19,938.66 247.63,938.71 248.07,938.76 248.5,938.81 248.94,938.86 249.38,938.91 249.82,938.96 250.25,939.01 250.69,939.06 251.13,939.11 251.57,939.16 252,939.21 252.44,939.26 252.88,939.31 253.32,939.37 253.75,939.42 254.19,939.47 254.63,939.52 255.07,939.57 255.5,939.62 255.94,939.67 256.38,939.72 256.82,939.77 257.25,939.82 257.69,939.87 258.13,939.92 258.56,939.97 259,940.02 259.44,940.08 259.88,940.13 260.31,940.18 260.75,940.23 261.19,940.28 261.63,940.33 262.06,940.38 262.5,940.43 262.94,940.48 263.38,940.53 263.81,940.58 264.25,940.63 264.69,940.68 265.13,940.73 265.56,940.79 266,940.84 266.44,940.89 266.88,940.94 267.31,940.99 267.75,941.04 268.19,941.09 268.62,941.14 269.06,941.19 269.5,941.24 269.94,941.29 270.37,941.34 270.81,941.39 271.25,941.44 271.69,941.5 272.12,941.55 272.56,941.6 273,941.65 273.44,941.7 273.87,941.75 274.31,941.8 274.75,941.85 275.19,941.9 275.62,941.95 276.06,942 276.5,942.05 276.94,942.1 277.37,942.15 277.81,942.21 278.25,942.26 278.69,942.31 279.12,942.36 279.56,942.41" fill="none" stroke="#0000ff" stroke-width="1.3" stroke-linejoin="round" />
<polyline points="148.34,927.19 148.78,927.24 149.21,927.29 149.65,927.35 150.09,927.4 150.53,927.45 150.96,927.5 151.4,927.55 151.84,927.6 152.28,927.65 152.71,927.7 153.15,927.75 153.59,927.8 154.03,927.85 154.46,927.9 154.9,927.95 155.34,928 155.78,928.06 156.21,928.11 156.65,928.16 157.09,928.21 157.53,928.26 157.96,928.31 158.4,928.36 158.84,928.41 159.27,928.46 159.71,928.51 160.15,928.56 160.59,928.61 161.02,928.66 161.46,928.71 161.9,928.77 162.34,928.82 162.77,928.87 163.21,928.92 163.65,928.97 164.09,929.02 164.52,929.07 164.96,929.12 165.4,929.17 165.84,929.22 166.27,929.27 166.71,929.32 167.15,929.37 167.59,929.42 168.02,929.48 168.46,929.53 168.9,929.58 169.34,929.63 169.77,929.68 170.21,929.73 170.65,929.78 171.08,929.83 171.52,929.88 171.96,929.93 172.4,929.98 172.83,930.03 173.27,930.08 173.71,930.13 174.15,930.19 174.58,930.24 175.02,930.29 175.46,930.34 175.9,930.39 176.33,930.44 176.77,930.49 177.21,930.54 177.65,930.59 178.08,930.64 178.52,930.69 178.96,930.74 179.4,930.79 179.83,930.84 180.27,930.9 180.71,930.95 181.14,931 181.58,931.05 182.02,931.1 182.46,931.15 182.89,931.2 183.33,931.25 183.77,931.3 184.21,931.35 184.64,931.4 185.08,931.45 185.52,931.5 185.96,931.55 186.39,931.61 186.83,931.66 187.27,931.71 187.71,931.76 188.14,931.81 188.58,931.86 189.02,931.91 189.46,931.96 189.89,932.01 190.33,932.06 190.77,932.11 191.21,932.16 191.64,932.21 192.08,932.26 192.52,932.32 192.95,932.37 193.39,932.42 193.83,932.47 194.27,932.52 194.7,932.57 195.14,932.62 195.58,932.67 196.02,932.72 196.45,932.77 196.89,932.82 197.33,932.87 197.77,932.92 198.2,932.97 198.64,933.02 199.08,933.07 199.52,933.11 199.95,933.16 200.39,933.21 200.83,933.25 201.27,933.3 201.7,933.34 202.14,933.38 202.58,933.42 203.01,933.46 203.45,933.5 203.89,933.53 204.33,933.56 204.76,933.59 205.2,933.61 205.64,933.62 206.08,933.63 206.51,933.63 206.95,933.62 207.39,933.61 207.83,933.58 208.26,933.54 208.7,933.49 209.14,933.42 209.58,933.33 210.01,933.23 210.45,933.1 210.89,932.95 211.33,932.78 211.76,932.57 212.2,932.34 212.64,932.07 213.08,931.76 213.51,931.42 213.95,931.03 214.39,930.6 214.82,930.13 215.26,929.6 215.7,929.02 216.14,928.39 216.57,927.71 217.01,926.97 217.45,926.17 217.89,925.31 218.32,924.4 218.76,923.42 219.2,922.4 219.64,921.31 220.07,920.18 220.51,918.99 220.95,917.76 221.39,916.49 221.82,915.18 222.26,913.85 222.7,912.49 223.14,911.12 223.57,909.73 224.01,908.35 224.45,906.98 224.88,905.63 225.32,904.31 225.76,903.03 226.2,901.79 226.63,900.62 227.07,899.51 227.51,898.48 227.95,897.53 228.38,896.69 228.82,895.94 229.26,895.3 229.7,894.78 230.13,894.38 230.57,894.1 231.01,893.95 231.45,893.93 231.88,894.05 232.32,894.31 232.76,894.72 233.2,895.26 233.63,895.93 234.07,896.73 234.51,897.65 234.95,898.69 235.38,899.82 235.82,901.05 236.26,902.36 236.69,903.74 237.13,905.17 237.57,906.66 238.01,908.18 238.44,909.73 238.88,911.28 239.32,912.84 239.76,914.4 240.19,915.93 240.63,917.45 241.07,918.92 241.51,920.36 241.94,921.76 242.38,923.1 242.82,924.38 243.26,925.61 243.69,926.77 244.13,927.87 244.57,928.91 245.01,929.88 245.44,930.79 245.88,931.64 246.32,932.42 246.75,933.14 247.19,933.81 247.63,934.42 248.07,934.98 248.5,935.49 248.94,935.95 249.38,936.38 249.82,936.76 250.25,937.1 250.69,937.41 251.13,937.69 251.57,937.94 252,938.17 252.44,938.38 252.88,938.56 253.32,938.73 253.75,938.88 254.19,939.01 254.63,939.14 255.07,939.25 255.5,939.36 255.94,939.45 256.38,939.54 256.82,939.62 257.25,939.7 257.69,939.77 258.13,939.84 258.56,939.91 259,939.97 259.44,940.03 259.88,940.09 260.31,940.15 260.75,940.2 261.19,940.26 261.63,940.31 262.06,940.37 262.5,940.42 262.94,940.47 263.38,940.53 263.81,940.58 264.25,940.63 264.69,940.68 265.13,940.73 265.56,940.78 266,940.83 266.44,940.89 266.88,940.94 267.31,940.99 267.75,941.04 268.19,941.09 268.62,941.14 269.06,941.19 269.5,941.24 269.94,941.29 270.37,941.34 270.81,941.39 271.25,941.44 271.69,941.5 272.12,941.55 272.56,941.6 273,941.65 273.44,941.7 273.87,941.75 274.31,941.8 274.75,941.85 275.19,941.9 275.62,941.95 276.06,942 276.5,942.05 276.94,942.1 277.37,942.15 277.81,942.21 278.25,942.26 278.69,942.31 279.12,942.36 279.56,942.41" fill="none" stroke="#ff0000" stroke-width="1.3" stroke-linejoin="round" />
</g>
<clipPath id="cp-c1"><rect x="75.5" y="980.5" width="262.0" height="134.0"/></clipPath>
<line x1="75.5" y1="1061.8" x2="95" y2="1061.8" stroke="#666" stroke-width="1.25" />
<line x1="75.5" y1="1003.4" x2="95" y2="1003.4" stroke="#666" stroke-width="1.25" />
<line x1="75.5" y1="1091" x2="85.5" y2="1091" stroke="#666" stroke-width="1.25" />
<line x1="75.5" y1="1032.6" x2="85.5" y2="1032.6" stroke="#666" stroke-width="1.25" />
<line x1="104.6" y1="1114.5" x2="104.6" y2="1104" stroke="#666" stroke-width="1.25" />
<line x1="250.4" y1="1114.5" x2="250.4" y2="1104" stroke="#666" stroke-width="1.25" />
<line x1="177.5" y1="1114.5" x2="177.5" y2="1109.5" stroke="#666" stroke-width="1.25" />
<line x1="323.3" y1="1114.5" x2="323.3" y2="1109.5" stroke="#666" stroke-width="1.25" />
<path d="M75.5,1061.8 L78.36,1061.8 L78.36,1029.68 L81.27,1029.68 L81.27,1061.8 L84.19,1061.8 L84.19,1067.06 L87.1,1067.06 L87.1,1038.44 L90.02,1038.44 L90.02,1018 L92.94,1018 L92.94,1058.3 L95.85,1058.3 L95.85,1062.97 L98.77,1062.97 L98.77,1044.28 L101.68,1044.28 L101.68,1036.69 L104.6,1036.69 L104.6,1043.11 L107.52,1043.11 L107.52,1054.21 L110.43,1054.21 L110.43,1030.26 L113.35,1030.26 L113.35,1060.05 L116.26,1060.05 L116.26,1073.48 L119.18,1073.48 L119.18,1055.96 L122.1,1055.96 L122.1,1030.26 L125.01,1030.26 L125.01,1044.28 L127.93,1044.28 L127.93,1048.95 L130.84,1048.95 L130.84,1054.79 L133.76,1054.79 L133.76,1048.37 L136.68,1048.37 L136.68,1062.38 L139.59,1062.38 L139.59,1055.38 L142.51,1055.38 L142.51,1065.3 L145.42,1065.3 L145.42,1046.62 L148.34,1046.62 L148.34,1067.06 L151.26,1067.06 L151.26,1048.37 L154.17,1048.37 L154.17,1058.3 L157.09,1058.3 L157.09,1069.98 L160,1069.98 L160,1078.15 L162.92,1078.15 L162.92,1062.38 L165.84,1062.38 L165.84,1075.82 L168.75,1075.82 L168.75,1055.38 L171.67,1055.38 L171.67,1073.48 L174.58,1073.48 L174.58,1052.46 L177.5,1052.46 L177.5,1072.31 L180.42,1072.31 L180.42,1049.54 L183.33,1049.54 L183.33,1035.52 L186.25,1035.52 L186.25,1048.37 L189.16,1048.37 L189.16,1019.17 L192.08,1019.17 L192.08,1025.01 L195,1025.01 L195,1034.94 L197.91,1034.94 L197.91,1022.09 L200.83,1022.09 L200.83,1022.09 L203.74,1022.09 L203.74,1035.52 L206.66,1035.52 L206.66,1039.61 L209.58,1039.61 L209.58,1056.54 L212.49,1056.54 L212.49,1077.57 L215.41,1077.57 L215.41,1046.62 L218.32,1046.62 L218.32,1064.72 L221.24,1064.72 L221.24,1025.01 L224.16,1025.01 L224.16,1053.62 L227.07,1053.62 L227.07,1051.29 L229.99,1051.29 L229.99,1040.78 L232.9,1040.78 L232.9,1048.37 L235.82,1048.37 L235.82,1053.62 L238.74,1053.62 L238.74,1061.22 L241.65,1061.22 L241.65,1058.88 L244.57,1058.88 L244.57,1062.38 L247.48,1062.38 L247.48,1083.41 L250.4,1083.41 L250.4,1067.64 L253.32,1067.64 L253.32,1068.22 L256.23,1068.22 L256.23,1087.5 L259.15,1087.5 L259.15,1066.47 L262.06,1066.47 L262.06,1084.58 L264.98,1084.58 L264.98,1092.17 L267.9,1092.17 L267.9,1051.29 L270.81,1051.29 L270.81,1065.3 L273.73,1065.3 L273.73,1093.34 L276.64,1093.34 L276.64,1078.74 L279.56,1078.74 L279.56,1063.55 L282.48,1063.55 L282.48,1078.74 L285.39,1078.74 L285.39,1096.26 L288.31,1096.26 L288.31,1061.22 L291.22,1061.22 L291.22,1087.5 L294.14,1087.5 L294.14,1074.06 L297.06,1074.06 L297.06,1098.01 L299.97,1098.01 L299.97,1069.98 L302.89,1069.98 L302.89,1061.22 L305.8,1061.22 L305.8,1102.1 L308.72,1102.1 L308.72,1069.98 L311.64,1069.98 L311.64,1071.73 L314.55,1071.73 L314.55,1109.1 L317.47,1109.1 L317.47,1095.67 L320.38,1095.67 L320.38,1062.97 L323.3,1062.97 L323.3,1084.58 L326.22,1084.58 L326.22,1088.66 L329.13,1088.66 L329.13,1058.3 L332.05,1058.3 L332.05,1071.73 L334.96,1071.73 L334.96,1078.15 L337.5,1078.15" fill="none" stroke="#333" stroke-width="1" clip-path="url(#cp-c1)"/>
<g clip-path="url(#cp-c1)">
<polyline points="148.34,1061.84 148.78,1061.89 149.21,1061.94 149.65,1061.99 150.09,1062.04 150.53,1062.09 150.96,1062.14 151.4,1062.19 151.84,1062.23 152.28,1062.28 152.71,1062.33 153.15,1062.38 153.59,1062.43 154.03,1062.48 154.46,1062.53 154.9,1062.58 155.34,1062.62 155.78,1062.67 156.21,1062.72 156.65,1062.77 157.09,1062.82 157.53,1062.87 157.96,1062.92 158.4,1062.96 158.84,1063.01 159.27,1063.06 159.71,1063.11 160.15,1063.16 160.59,1063.21 161.02,1063.25 161.46,1063.3 161.9,1063.35 162.34,1063.4 162.77,1063.44 163.21,1063.49 163.65,1063.53 164.09,1063.58 164.52,1063.62 164.96,1063.67 165.4,1063.71 165.84,1063.75 166.27,1063.79 166.71,1063.83 167.15,1063.86 167.59,1063.89 168.02,1063.92 168.46,1063.95 168.9,1063.97 169.34,1063.98 169.77,1063.99 170.21,1063.99 170.65,1063.99 171.08,1063.98 171.52,1063.96 171.96,1063.92 172.4,1063.88 172.83,1063.82 173.27,1063.74 173.71,1063.65 174.15,1063.53 174.58,1063.4 175.02,1063.24 175.46,1063.06 175.9,1062.84 176.33,1062.6 176.77,1062.32 177.21,1062 177.65,1061.65 178.08,1061.25 178.52,1060.81 178.96,1060.33 179.4,1059.79 179.83,1059.2 180.27,1058.55 180.71,1057.85 181.14,1057.09 181.58,1056.27 182.02,1055.38 182.46,1054.44 182.89,1053.43 183.33,1052.37 183.77,1051.24 184.21,1050.05 184.64,1048.81 185.08,1047.51 185.52,1046.16 185.96,1044.77 186.39,1043.33 186.83,1041.86 187.27,1040.37 187.71,1038.85 188.14,1037.32 188.58,1035.78 189.02,1034.25 189.46,1032.73 189.89,1031.23 190.33,1029.76 190.77,1028.34 191.21,1026.97 191.64,1025.67 192.08,1024.44 192.52,1023.29 192.95,1022.23 193.39,1021.27 193.83,1020.42 194.27,1019.69 194.7,1019.07 195.14,1018.59 195.58,1018.24 196.02,1018.02 196.45,1017.94 196.89,1018 197.33,1018.18 197.77,1018.49 198.2,1018.93 198.64,1019.48 199.08,1020.15 199.52,1020.93 199.95,1021.82 200.39,1022.8 200.83,1023.88 201.27,1025.05 201.7,1026.29 202.14,1027.6 202.58,1028.98 203.01,1030.4 203.45,1031.87 203.89,1033.37 204.33,1034.89 204.76,1036.43 205.2,1037.97 205.64,1039.51 206.08,1041.05 206.51,1042.56 206.95,1044.05 207.39,1045.51 207.83,1046.92 208.26,1048.3 208.7,1049.62 209.14,1050.89 209.58,1052.09 210.01,1053.24 210.45,1054.31 210.89,1055.32 211.33,1056.25 211.76,1057.11 212.2,1057.89 212.64,1058.6 213.08,1059.22 213.51,1059.76 213.95,1060.22 214.39,1060.6 214.82,1060.9 215.26,1061.12 215.7,1061.25 216.14,1061.31 216.57,1061.29 217.01,1061.19 217.45,1061.01 217.89,1060.76 218.32,1060.43 218.76,1060.03 219.2,1059.57 219.64,1059.04 220.07,1058.45 220.51,1057.8 220.95,1057.1 221.39,1056.35 221.82,1055.56 222.26,1054.73 222.7,1053.87 223.14,1052.98 223.57,1052.08 224.01,1051.16 224.45,1050.24 224.88,1049.32 225.32,1048.42 225.76,1047.53 226.2,1046.67 226.63,1045.85 227.07,1045.07 227.51,1044.34 227.95,1043.67 228.38,1043.06 228.82,1042.52 229.26,1042.06 229.7,1041.68 230.13,1041.38 230.57,1041.17 231.01,1041.05 231.45,1041.03 231.88,1041.1 232.32,1041.29 232.76,1041.59 233.2,1041.99 233.63,1042.5 234.07,1043.11 234.51,1043.81 234.95,1044.6 235.38,1045.47 235.82,1046.41 236.26,1047.41 236.69,1048.46 237.13,1049.56 237.57,1050.69 238.01,1051.84 238.44,1053 238.88,1054.17 239.32,1055.34 239.76,1056.49 240.19,1057.63 240.63,1058.74 241.07,1059.82 241.51,1060.86 241.94,1061.86 242.38,1062.82 242.82,1063.74 243.26,1064.6 243.69,1065.41 244.13,1066.17 244.57,1066.89 245.01,1067.55 245.44,1068.16 245.88,1068.73 246.32,1069.25 246.75,1069.72 247.19,1070.16 247.63,1070.55 248.07,1070.91 248.5,1071.23 248.94,1071.53 249.38,1071.79 249.82,1072.03 250.25,1072.25 250.69,1072.44 251.13,1072.61 251.57,1072.77 252,1072.91 252.44,1073.04 252.88,1073.16 253.32,1073.27 253.75,1073.36 254.19,1073.45 254.63,1073.54 255.07,1073.61 255.5,1073.69 255.94,1073.76 256.38,1073.82 256.82,1073.88 257.25,1073.94 257.69,1074 258.13,1074.06 258.56,1074.11 259,1074.17 259.44,1074.22 259.88,1074.27 260.31,1074.32 260.75,1074.37 261.19,1074.42 261.63,1074.47 262.06,1074.52 262.5,1074.57 262.94,1074.62 263.38,1074.67 263.81,1074.72 264.25,1074.77 264.69,1074.82 265.13,1074.87 265.56,1074.91 266,1074.96 266.44,1075.01 266.88,1075.06 267.31,1075.11 267.75,1075.16 268.19,1075.21 268.62,1075.26 269.06,1075.3 269.5,1075.35 269.94,1075.4 270.37,1075.45 270.81,1075.5 271.25,1075.55 271.69,1075.6 272.12,1075.65 272.56,1075.69 273,1075.74 273.44,1075.79 273.87,1075.84 274.31,1075.89 274.75,1075.94 275.19,1075.99 275.62,1076.04 276.06,1076.09 276.5,1076.13 276.94,1076.18 277.37,1076.23 277.81,1076.28 278.25,1076.33 278.69,1076.38 279.12,1076.43 279.56,1076.48" fill="none" stroke="#000" stroke-width="1.3" stroke-linejoin="round" />
<polyline points="148.34,1061.84 148.78,1061.89 149.21,1061.94 149.65,1061.99 150.09,1062.04 150.53,1062.09 150.96,1062.14 151.4,1062.19 151.84,1062.23 152.28,1062.28 152.71,1062.33 153.15,1062.38 153.59,1062.43 154.03,1062.48 154.46,1062.53 154.9,1062.58 155.34,1062.62 155.78,1062.67 156.21,1062.72 156.65,1062.77 157.09,1062.82 157.53,1062.87 157.96,1062.92 158.4,1062.96 158.84,1063.01 159.27,1063.06 159.71,1063.11 160.15,1063.16 160.59,1063.21 161.02,1063.25 161.46,1063.3 161.9,1063.35 162.34,1063.4 162.77,1063.44 163.21,1063.49 163.65,1063.53 164.09,1063.58 164.52,1063.62 164.96,1063.67 165.4,1063.71 165.84,1063.75 166.27,1063.79 166.71,1063.83 167.15,1063.86 167.59,1063.89 168.02,1063.92 168.46,1063.95 168.9,1063.97 169.34,1063.98 169.77,1063.99 170.21,1063.99 170.65,1063.99 171.08,1063.98 171.52,1063.96 171.96,1063.92 172.4,1063.88 172.83,1063.82 173.27,1063.74 173.71,1063.65 174.15,1063.53 174.58,1063.4 175.02,1063.24 175.46,1063.06 175.9,1062.84 176.33,1062.6 176.77,1062.32 177.21,1062 177.65,1061.65 178.08,1061.25 178.52,1060.81 178.96,1060.33 179.4,1059.79 179.83,1059.2 180.27,1058.55 180.71,1057.85 181.14,1057.09 181.58,1056.27 182.02,1055.38 182.46,1054.44 182.89,1053.43 183.33,1052.37 183.77,1051.24 184.21,1050.05 184.64,1048.81 185.08,1047.51 185.52,1046.16 185.96,1044.77 186.39,1043.33 186.83,1041.86 187.27,1040.37 187.71,1038.85 188.14,1037.32 188.58,1035.78 189.02,1034.25 189.46,1032.73 189.89,1031.23 190.33,1029.76 190.77,1028.34 191.21,1026.97 191.64,1025.67 192.08,1024.44 192.52,1023.29 192.95,1022.23 193.39,1021.27 193.83,1020.42 194.27,1019.69 194.7,1019.07 195.14,1018.59 195.58,1018.24 196.02,1018.02 196.45,1017.94 196.89,1018 197.33,1018.19 197.77,1018.5 198.2,1018.93 198.64,1019.48 199.08,1020.15 199.52,1020.94 199.95,1021.83 200.39,1022.81 200.83,1023.9 201.27,1025.07 201.7,1026.31 202.14,1027.63 202.58,1029.01 203.01,1030.44 203.45,1031.91 203.89,1033.42 204.33,1034.96 204.76,1036.51 205.2,1038.07 205.64,1039.64 206.08,1041.19 206.51,1042.74 206.95,1044.26 207.39,1045.76 207.83,1047.22 208.26,1048.65 208.7,1050.03 209.14,1051.37 209.58,1052.66 210.01,1053.9 210.45,1055.09 210.89,1056.22 211.33,1057.3 211.76,1058.32 212.2,1059.28 212.64,1060.19 213.08,1061.04 213.51,1061.83 213.95,1062.58 214.39,1063.27 214.82,1063.91 215.26,1064.51 215.7,1065.06 216.14,1065.57 216.57,1066.04 217.01,1066.47 217.45,1066.86 217.89,1067.22 218.32,1067.55 218.76,1067.86 219.2,1068.13 219.64,1068.38 220.07,1068.61 220.51,1068.82 220.95,1069.01 221.39,1069.18 221.82,1069.34 222.26,1069.49 222.7,1069.62 223.14,1069.74 223.57,1069.86 224.01,1069.96 224.45,1070.06 224.88,1070.15 225.32,1070.23 225.76,1070.31 226.2,1070.39 226.63,1070.46 227.07,1070.52 227.51,1070.59 227.95,1070.65 228.38,1070.71 228.82,1070.77 229.26,1070.83 229.7,1070.88 230.13,1070.94 230.57,1070.99 231.01,1071.04 231.45,1071.1 231.88,1071.15 232.32,1071.2 232.76,1071.25 233.2,1071.3 233.63,1071.35 234.07,1071.4 234.51,1071.45 234.95,1071.5 235.38,1071.55 235.82,1071.6 236.26,1071.65 236.69,1071.69 237.13,1071.74 237.57,1071.79 238.01,1071.84 238.44,1071.89 238.88,1071.94 239.32,1071.99 239.76,1072.04 240.19,1072.09 240.63,1072.13 241.07,1072.18 241.51,1072.23 241.94,1072.28 242.38,1072.33 242.82,1072.38 243.26,1072.43 243.69,1072.48 244.13,1072.52 244.57,1072.57 245.01,1072.62 245.44,1072.67 245.88,1072.72 246.32,1072.77 246.75,1072.82 247.19,1072.87 247.63,1072.91 248.07,1072.96 248.5,1073.01 248.94,1073.06 249.38,1073.11 249.82,1073.16 250.25,1073.21 250.69,1073.26 251.13,1073.31 251.57,1073.35 252,1073.4 252.44,1073.45 252.88,1073.5 253.32,1073.55 253.75,1073.6 254.19,1073.65 254.63,1073.7 255.07,1073.74 255.5,1073.79 255.94,1073.84 256.38,1073.89 256.82,1073.94 257.25,1073.99 257.69,1074.04 258.13,1074.09 258.56,1074.13 259,1074.18 259.44,1074.23 259.88,1074.28 260.31,1074.33 260.75,1074.38 261.19,1074.43 261.63,1074.48 262.06,1074.52 262.5,1074.57 262.94,1074.62 263.38,1074.67 263.81,1074.72 264.25,1074.77 264.69,1074.82 265.13,1074.87 265.56,1074.91 266,1074.96 266.44,1075.01 266.88,1075.06 267.31,1075.11 267.75,1075.16 268.19,1075.21 268.62,1075.26 269.06,1075.3 269.5,1075.35 269.94,1075.4 270.37,1075.45 270.81,1075.5 271.25,1075.55 271.69,1075.6 272.12,1075.65 272.56,1075.69 273,1075.74 273.44,1075.79 273.87,1075.84 274.31,1075.89 274.75,1075.94 275.19,1075.99 275.62,1076.04 276.06,1076.09 276.5,1076.13 276.94,1076.18 277.37,1076.23 277.81,1076.28 278.25,1076.33 278.69,1076.38 279.12,1076.43 279.56,1076.48" fill="none" stroke="#0000ff" stroke-width="1.3" stroke-linejoin="round" />
<polyline points="148.34,1061.84 148.78,1061.89 149.21,1061.94 149.65,1061.99 150.09,1062.04 150.53,1062.09 150.96,1062.14 151.4,1062.19 151.84,1062.23 152.28,1062.28 152.71,1062.33 153.15,1062.38 153.59,1062.43 154.03,1062.48 154.46,1062.53 154.9,1062.58 155.34,1062.62 155.78,1062.67 156.21,1062.72 156.65,1062.77 157.09,1062.82 157.53,1062.87 157.96,1062.92 158.4,1062.97 158.84,1063.01 159.27,1063.06 159.71,1063.11 160.15,1063.16 160.59,1063.21 161.02,1063.26 161.46,1063.31 161.9,1063.36 162.34,1063.4 162.77,1063.45 163.21,1063.5 163.65,1063.55 164.09,1063.6 164.52,1063.65 164.96,1063.7 165.4,1063.75 165.84,1063.8 166.27,1063.84 166.71,1063.89 167.15,1063.94 167.59,1063.99 168.02,1064.04 168.46,1064.09 168.9,1064.14 169.34,1064.19 169.77,1064.23 170.21,1064.28 170.65,1064.33 171.08,1064.38 171.52,1064.43 171.96,1064.48 172.4,1064.53 172.83,1064.58 173.27,1064.62 173.71,1064.67 174.15,1064.72 174.58,1064.77 175.02,1064.82 175.46,1064.87 175.9,1064.92 176.33,1064.97 176.77,1065.01 177.21,1065.06 177.65,1065.11 178.08,1065.16 178.52,1065.21 178.96,1065.26 179.4,1065.31 179.83,1065.36 180.27,1065.4 180.71,1065.45 181.14,1065.5 181.58,1065.55 182.02,1065.6 182.46,1065.65 182.89,1065.7 183.33,1065.75 183.77,1065.79 184.21,1065.84 184.64,1065.89 185.08,1065.94 185.52,1065.99 185.96,1066.04 186.39,1066.09 186.83,1066.14 187.27,1066.18 187.71,1066.23 188.14,1066.28 188.58,1066.33 189.02,1066.38 189.46,1066.43 189.89,1066.48 190.33,1066.53 190.77,1066.57 191.21,1066.62 191.64,1066.67 192.08,1066.72 192.52,1066.77 192.95,1066.82 193.39,1066.87 193.83,1066.92 194.27,1066.96 194.7,1067.01 195.14,1067.06 195.58,1067.11 196.02,1067.16 196.45,1067.21 196.89,1067.26 197.33,1067.3 197.77,1067.35 198.2,1067.4 198.64,1067.45 199.08,1067.5 199.52,1067.54 199.95,1067.59 200.39,1067.64 200.83,1067.68 201.27,1067.73 201.7,1067.77 202.14,1067.82 202.58,1067.86 203.01,1067.9 203.45,1067.94 203.89,1067.98 204.33,1068.02 204.76,1068.05 205.2,1068.08 205.64,1068.11 206.08,1068.14 206.51,1068.16 206.95,1068.17 207.39,1068.18 207.83,1068.18 208.26,1068.18 208.7,1068.16 209.14,1068.14 209.58,1068.1 210.01,1068.06 210.45,1067.99 210.89,1067.92 211.33,1067.82 211.76,1067.71 212.2,1067.58 212.64,1067.42 213.08,1067.24 213.51,1067.04 213.95,1066.8 214.39,1066.54 214.82,1066.24 215.26,1065.91 215.7,1065.55 216.14,1065.14 216.57,1064.7 217.01,1064.22 217.45,1063.69 217.89,1063.13 218.32,1062.52 218.76,1061.87 219.2,1061.18 219.64,1060.45 220.07,1059.68 220.51,1058.87 220.95,1058.03 221.39,1057.16 221.82,1056.25 222.26,1055.33 222.7,1054.38 223.14,1053.42 223.57,1052.45 224.01,1051.48 224.45,1050.51 224.88,1049.55 225.32,1048.61 225.76,1047.7 226.2,1046.81 226.63,1045.97 227.07,1045.17 227.51,1044.42 227.95,1043.73 228.38,1043.11 228.82,1042.57 229.26,1042.1 229.7,1041.71 230.13,1041.41 230.57,1041.19 231.01,1041.07 231.45,1041.04 231.88,1041.11 232.32,1041.3 232.76,1041.59 233.2,1042 233.63,1042.51 234.07,1043.11 234.51,1043.82 234.95,1044.61 235.38,1045.47 235.82,1046.41 236.26,1047.41 236.69,1048.47 237.13,1049.56 237.57,1050.69 238.01,1051.84 238.44,1053 238.88,1054.17 239.32,1055.34 239.76,1056.49 240.19,1057.63 240.63,1058.74 241.07,1059.82 241.51,1060.86 241.94,1061.86 242.38,1062.82 242.82,1063.74 243.26,1064.6 243.69,1065.41 244.13,1066.17 244.57,1066.89 245.01,1067.55 245.44,1068.16 245.88,1068.73 246.32,1069.25 246.75,1069.72 247.19,1070.16 247.63,1070.55 248.07,1070.91 248.5,1071.23 248.94,1071.53 249.38,1071.79 249.82,1072.03 250.25,1072.25 250.69,1072.44 251.13,1072.61 251.57,1072.77 252,1072.91 252.44,1073.04 252.88,1073.16 253.32,1073.27 253.75,1073.36 254.19,1073.45 254.63,1073.54 255.07,1073.61 255.5,1073.69 255.94,1073.76 256.38,1073.82 256.82,1073.88 257.25,1073.94 257.69,1074 258.13,1074.06 258.56,1074.11 259,1074.17 259.44,1074.22 259.88,1074.27 260.31,1074.32 260.75,1074.37 261.19,1074.42 261.63,1074.47 262.06,1074.52 262.5,1074.57 262.94,1074.62 263.38,1074.67 263.81,1074.72 264.25,1074.77 264.69,1074.82 265.13,1074.87 265.56,1074.91 266,1074.96 266.44,1075.01 266.88,1075.06 267.31,1075.11 267.75,1075.16 268.19,1075.21 268.62,1075.26 269.06,1075.3 269.5,1075.35 269.94,1075.4 270.37,1075.45 270.81,1075.5 271.25,1075.55 271.69,1075.6 272.12,1075.65 272.56,1075.69 273,1075.74 273.44,1075.79 273.87,1075.84 274.31,1075.89 274.75,1075.94 275.19,1075.99 275.62,1076.04 276.06,1076.09 276.5,1076.13 276.94,1076.18 277.37,1076.23 277.81,1076.28 278.25,1076.33 278.69,1076.38 279.12,1076.43 279.56,1076.48" fill="none" stroke="#ff0000" stroke-width="1.3" stroke-linejoin="round" />
</g>
<clipPath id="cp-c2"><rect x="75.5" y="1114.5" width="262.0" height="118.0"/></clipPath>
<line x1="75.5" y1="1214.6" x2="91.25" y2="1214.6" stroke="#666" stroke-width="1.25" />
<line x1="75.5" y1="1171" x2="91.25" y2="1171" stroke="#666" stroke-width="1.25" />
<line x1="75.5" y1="1127.4" x2="91.25" y2="1127.4" stroke="#666" stroke-width="1.25" />
<line x1="75.5" y1="1192.8" x2="83.25" y2="1192.8" stroke="#666" stroke-width="1.25" />
<line x1="75.5" y1="1149.2" x2="83.25" y2="1149.2" stroke="#666" stroke-width="1.25" />
<line x1="104.6" y1="1232.5" x2="104.6" y2="1222" stroke="#666" stroke-width="1.25" />
<line x1="250.4" y1="1232.5" x2="250.4" y2="1222" stroke="#666" stroke-width="1.25" />
<line x1="177.5" y1="1232.5" x2="177.5" y2="1227.5" stroke="#666" stroke-width="1.25" />
<line x1="323.3" y1="1232.5" x2="323.3" y2="1227.5" stroke="#666" stroke-width="1.25" />
<path d="M75.5,1189.31 L78.36,1189.31 L78.36,1196.29 L81.27,1196.29 L81.27,1181.46 L84.19,1181.46 L84.19,1202.39 L87.1,1202.39 L87.1,1202.39 L90.02,1202.39 L90.02,1195.42 L92.94,1195.42 L92.94,1194.11 L95.85,1194.11 L95.85,1177.54 L98.77,1177.54 L98.77,1195.42 L101.68,1195.42 L101.68,1193.24 L104.6,1193.24 L104.6,1193.24 L107.52,1193.24 L107.52,1194.54 L110.43,1194.54 L110.43,1176.67 L113.35,1176.67 L113.35,1208.06 L116.26,1208.06 L116.26,1199.34 L119.18,1199.34 L119.18,1177.54 L122.1,1177.54 L122.1,1171.87 L125.01,1171.87 L125.01,1179.72 L127.93,1179.72 L127.93,1184.52 L130.84,1184.52 L130.84,1182.77 L133.76,1182.77 L133.76,1182.77 L136.68,1182.77 L136.68,1183.64 L139.59,1183.64 L139.59,1177.54 L142.51,1177.54 L142.51,1202.39 L145.42,1202.39 L145.42,1193.24 L148.34,1193.24 L148.34,1178.41 L151.26,1178.41 L151.26,1197.6 L154.17,1197.6 L154.17,1184.08 L157.09,1184.08 L157.09,1218.09 L160,1218.09 L160,1177.54 L162.92,1177.54 L162.92,1187.13 L165.84,1187.13 L165.84,1188 L168.75,1188 L168.75,1185.39 L171.67,1185.39 L171.67,1193.24 L174.58,1193.24 L174.58,1210.68 L177.5,1210.68 L177.5,1173.18 L180.42,1173.18 L180.42,1188 L183.33,1188 L183.33,1181.46 L186.25,1181.46 L186.25,1178.41 L189.16,1178.41 L189.16,1186.7 L192.08,1186.7 L192.08,1145.28 L195,1145.28 L195,1160.97 L197.91,1160.97 L197.91,1153.56 L200.83,1153.56 L200.83,1141.79 L203.74,1141.79 L203.74,1182.34 L206.66,1182.34 L206.66,1179.72 L209.58,1179.72 L209.58,1190.18 L212.49,1190.18 L212.49,1188.88 L215.41,1188.88 L215.41,1193.67 L218.32,1193.67 L218.32,1194.11 L221.24,1194.11 L221.24,1190.18 L224.16,1190.18 L224.16,1182.34 L227.07,1182.34 L227.07,1196.72 L229.99,1196.72 L229.99,1208.5 L232.9,1208.5 L232.9,1177.54 L235.82,1177.54 L235.82,1186.7 L238.74,1186.7 L238.74,1195.42 L241.65,1195.42 L241.65,1198.9 L244.57,1198.9 L244.57,1182.77 L247.48,1182.77 L247.48,1186.26 L250.4,1186.26 L250.4,1202.83 L253.32,1202.83 L253.32,1195.42 L256.23,1195.42 L256.23,1196.29 L259.15,1196.29 L259.15,1213.29 L262.06,1213.29 L262.06,1213.29 L264.98,1213.29 L264.98,1182.77 L267.9,1182.77 L267.9,1217.22 L270.81,1217.22 L270.81,1198.9 L273.73,1198.9 L273.73,1205.88 L276.64,1205.88 L276.64,1205.88 L279.56,1205.88 L279.56,1198.9 L282.48,1198.9 L282.48,1222.01 L285.39,1222.01 L285.39,1227.24 L288.31,1227.24 L288.31,1218.09 L291.22,1218.09 L291.22,1204.57 L294.14,1204.57 L294.14,1228.55 L297.06,1228.55 L297.06,1205.44 L299.97,1205.44 L299.97,1231.17 L302.89,1231.17 L302.89,1205.88 L305.8,1205.88 L305.8,1205.44 L308.72,1205.44 L308.72,1208.5 L311.64,1208.5 L311.64,1205.44 L314.55,1205.44 L314.55,1209.37 L317.47,1209.37 L317.47,1214.6 L320.38,1214.6 L320.38,1197.16 L323.3,1197.16 L323.3,1210.24 L326.22,1210.24 L326.22,1214.6 L329.13,1214.6 L329.13,1217.65 L332.05,1217.65 L332.05,1204.14 L334.96,1204.14 L334.96,1222.01 L337.5,1222.01" fill="none" stroke="#333" stroke-width="1" clip-path="url(#cp-c2)"/>
<g clip-path="url(#cp-c2)">
<polyline points="148.34,1190.27 148.78,1190.3 149.21,1190.34 149.65,1190.37 150.09,1190.41 150.53,1190.44 150.96,1190.48 151.4,1190.51 151.84,1190.55 152.28,1190.58 152.71,1190.62 153.15,1190.65 153.59,1190.68 154.03,1190.72 154.46,1190.75 154.9,1190.79 155.34,1190.82 155.78,1190.86 156.21,1190.89 156.65,1190.93 157.09,1190.96 157.53,1191 157.96,1191.03 158.4,1191.07 158.84,1191.1 159.27,1191.14 159.71,1191.17 160.15,1191.2 160.59,1191.24 161.02,1191.27 161.46,1191.31 161.9,1191.34 162.34,1191.38 162.77,1191.41 163.21,1191.44 163.65,1191.48 164.09,1191.51 164.52,1191.54 164.96,1191.57 165.4,1191.61 165.84,1191.64 166.27,1191.67 166.71,1191.69 167.15,1191.72 167.59,1191.75 168.02,1191.77 168.46,1191.79 168.9,1191.81 169.34,1191.83 169.77,1191.84 170.21,1191.85 170.65,1191.85 171.08,1191.85 171.52,1191.84 171.96,1191.82 172.4,1191.8 172.83,1191.77 173.27,1191.72 173.71,1191.66 174.15,1191.59 174.58,1191.51 175.02,1191.4 175.46,1191.28 175.9,1191.13 176.33,1190.97 176.77,1190.77 177.21,1190.55 177.65,1190.3 178.08,1190.01 178.52,1189.7 178.96,1189.34 179.4,1188.94 179.83,1188.5 180.27,1188.01 180.71,1187.48 181.14,1186.9 181.58,1186.27 182.02,1185.59 182.46,1184.86 182.89,1184.07 183.33,1183.23 183.77,1182.34 184.21,1181.4 184.64,1180.4 185.08,1179.36 185.52,1178.28 185.96,1177.15 186.39,1175.99 186.83,1174.79 187.27,1173.57 187.71,1172.33 188.14,1171.08 188.58,1169.82 189.02,1168.56 189.46,1167.31 189.89,1166.08 190.33,1164.88 190.77,1163.72 191.21,1162.6 191.64,1161.53 192.08,1160.53 192.52,1159.6 192.95,1158.75 193.39,1157.99 193.83,1157.33 194.27,1156.76 194.7,1156.3 195.14,1155.95 195.58,1155.72 196.02,1155.6 196.45,1155.6 196.89,1155.72 197.33,1155.96 197.77,1156.32 198.2,1156.79 198.64,1157.38 199.08,1158.06 199.52,1158.85 199.95,1159.73 200.39,1160.7 200.83,1161.74 201.27,1162.86 201.7,1164.03 202.14,1165.25 202.58,1166.52 203.01,1167.82 203.45,1169.14 203.89,1170.47 204.33,1171.81 204.76,1173.15 205.2,1174.48 205.64,1175.78 206.08,1177.07 206.51,1178.32 206.95,1179.54 207.39,1180.72 207.83,1181.85 208.26,1182.93 208.7,1183.97 209.14,1184.95 209.58,1185.87 210.01,1186.75 210.45,1187.56 210.89,1188.32 211.33,1189.03 211.76,1189.68 212.2,1190.28 212.64,1190.83 213.08,1191.33 213.51,1191.78 213.95,1192.18 214.39,1192.54 214.82,1192.86 215.26,1193.13 215.7,1193.37 216.14,1193.57 216.57,1193.74 217.01,1193.87 217.45,1193.97 217.89,1194.04 218.32,1194.08 218.76,1194.09 219.2,1194.08 219.64,1194.04 220.07,1193.98 220.51,1193.89 220.95,1193.79 221.39,1193.67 221.82,1193.52 222.26,1193.36 222.7,1193.19 223.14,1193.01 223.57,1192.81 224.01,1192.61 224.45,1192.39 224.88,1192.18 225.32,1191.96 225.76,1191.75 226.2,1191.53 226.63,1191.33 227.07,1191.13 227.51,1190.94 227.95,1190.77 228.38,1190.61 228.82,1190.47 229.26,1190.35 229.7,1190.26 230.13,1190.18 230.57,1190.14 231.01,1190.12 231.45,1190.12 231.88,1190.16 232.32,1190.23 232.76,1190.33 233.2,1190.47 233.63,1190.63 234.07,1190.83 234.51,1191.06 234.95,1191.31 235.38,1191.58 235.82,1191.87 236.26,1192.18 236.69,1192.49 237.13,1192.82 237.57,1193.15 238.01,1193.48 238.44,1193.81 238.88,1194.13 239.32,1194.45 239.76,1194.75 240.19,1195.05 240.63,1195.33 241.07,1195.6 241.51,1195.86 241.94,1196.1 242.38,1196.32 242.82,1196.53 243.26,1196.72 243.69,1196.9 244.13,1197.06 244.57,1197.21 245.01,1197.35 245.44,1197.47 245.88,1197.58 246.32,1197.69 246.75,1197.78 247.19,1197.87 247.63,1197.94 248.07,1198.02 248.5,1198.08 248.94,1198.14 249.38,1198.2 249.82,1198.25 250.25,1198.3 250.69,1198.35 251.13,1198.39 251.57,1198.44 252,1198.48 252.44,1198.52 252.88,1198.56 253.32,1198.6 253.75,1198.63 254.19,1198.67 254.63,1198.71 255.07,1198.74 255.5,1198.78 255.94,1198.81 256.38,1198.85 256.82,1198.88 257.25,1198.92 257.69,1198.95 258.13,1198.99 258.56,1199.02 259,1199.06 259.44,1199.09 259.88,1199.13 260.31,1199.16 260.75,1199.2 261.19,1199.23 261.63,1199.27 262.06,1199.3 262.5,1199.34 262.94,1199.37 263.38,1199.41 263.81,1199.44 264.25,1199.48 264.69,1199.51 265.13,1199.54 265.56,1199.58 266,1199.61 266.44,1199.65 266.88,1199.68 267.31,1199.72 267.75,1199.75 268.19,1199.79 268.62,1199.82 269.06,1199.86 269.5,1199.89 269.94,1199.93 270.37,1199.96 270.81,1200 271.25,1200.03 271.69,1200.07 272.12,1200.1 272.56,1200.14 273,1200.17 273.44,1200.2 273.87,1200.24 274.31,1200.27 274.75,1200.31 275.19,1200.34 275.62,1200.38 276.06,1200.41 276.5,1200.45 276.94,1200.48 277.37,1200.52 277.81,1200.55 278.25,1200.59 278.69,1200.62 279.12,1200.66 279.56,1200.69" fill="none" stroke="#000" stroke-width="1.3" stroke-linejoin="round" />
<polyline points="148.34,1190.27 148.78,1190.3 149.21,1190.34 149.65,1190.37 150.09,1190.41 150.53,1190.44 150.96,1190.48 151.4,1190.51 151.84,1190.55 152.28,1190.58 152.71,1190.62 153.15,1190.65 153.59,1190.68 154.03,1190.72 154.46,1190.75 154.9,1190.79 155.34,1190.82 155.78,1190.86 156.21,1190.89 156.65,1190.93 157.09,1190.96 157.53,1191 157.96,1191.03 158.4,1191.07 158.84,1191.1 159.27,1191.14 159.71,1191.17 160.15,1191.2 160.59,1191.24 161.02,1191.27 161.46,1191.31 161.9,1191.34 162.34,1191.38 162.77,1191.41 163.21,1191.44 163.65,1191.48 164.09,1191.51 164.52,1191.54 164.96,1191.57 165.4,1191.61 165.84,1191.64 166.27,1191.67 166.71,1191.69 167.15,1191.72 167.59,1191.75 168.02,1191.77 168.46,1191.79 168.9,1191.81 169.34,1191.83 169.77,1191.84 170.21,1191.85 170.65,1191.85 171.08,1191.85 171.52,1191.84 171.96,1191.82 172.4,1191.8 172.83,1191.77 173.27,1191.72 173.71,1191.66 174.15,1191.59 174.58,1191.51 175.02,1191.4 175.46,1191.28 175.9,1191.13 176.33,1190.97 176.77,1190.77 177.21,1190.55 177.65,1190.3 178.08,1190.01 178.52,1189.7 178.96,1189.34 179.4,1188.94 179.83,1188.5 180.27,1188.01 180.71,1187.48 181.14,1186.9 181.58,1186.27 182.02,1185.59 182.46,1184.86 182.89,1184.07 183.33,1183.23 183.77,1182.34 184.21,1181.4 184.64,1180.4 185.08,1179.36 185.52,1178.28 185.96,1177.15 186.39,1175.99 186.83,1174.79 187.27,1173.57 187.71,1172.33 188.14,1171.08 188.58,1169.82 189.02,1168.56 189.46,1167.31 189.89,1166.08 190.33,1164.88 190.77,1163.72 191.21,1162.6 191.64,1161.53 192.08,1160.53 192.52,1159.6 192.95,1158.75 193.39,1157.99 193.83,1157.33 194.27,1156.76 194.7,1156.3 195.14,1155.95 195.58,1155.72 196.02,1155.6 196.45,1155.6 196.89,1155.72 197.33,1155.96 197.77,1156.32 198.2,1156.79 198.64,1157.38 199.08,1158.06 199.52,1158.85 199.95,1159.73 200.39,1160.7 200.83,1161.74 201.27,1162.86 201.7,1164.03 202.14,1165.25 202.58,1166.52 203.01,1167.82 203.45,1169.14 203.89,1170.47 204.33,1171.81 204.76,1173.15 205.2,1174.48 205.64,1175.79 206.08,1177.07 206.51,1178.33 206.95,1179.55 207.39,1180.73 207.83,1181.86 208.26,1182.95 208.7,1183.99 209.14,1184.98 209.58,1185.91 210.01,1186.79 210.45,1187.62 210.89,1188.39 211.33,1189.11 211.76,1189.78 212.2,1190.4 212.64,1190.97 213.08,1191.5 213.51,1191.98 213.95,1192.42 214.39,1192.82 214.82,1193.18 215.26,1193.51 215.7,1193.81 216.14,1194.08 216.57,1194.33 217.01,1194.55 217.45,1194.75 217.89,1194.92 218.32,1195.08 218.76,1195.23 219.2,1195.36 219.64,1195.47 220.07,1195.58 220.51,1195.67 220.95,1195.76 221.39,1195.84 221.82,1195.91 222.26,1195.98 222.7,1196.04 223.14,1196.1 223.57,1196.15 224.01,1196.2 224.45,1196.25 224.88,1196.3 225.32,1196.34 225.76,1196.38 226.2,1196.43 226.63,1196.47 227.07,1196.5 227.51,1196.54 227.95,1196.58 228.38,1196.62 228.82,1196.65 229.26,1196.69 229.7,1196.73 230.13,1196.76 230.57,1196.8 231.01,1196.83 231.45,1196.87 231.88,1196.9 232.32,1196.94 232.76,1196.97 233.2,1197.01 233.63,1197.04 234.07,1197.08 234.51,1197.11 234.95,1197.15 235.38,1197.18 235.82,1197.22 236.26,1197.25 236.69,1197.29 237.13,1197.32 237.57,1197.36 238.01,1197.39 238.44,1197.43 238.88,1197.46 239.32,1197.49 239.76,1197.53 240.19,1197.56 240.63,1197.6 241.07,1197.63 241.51,1197.67 241.94,1197.7 242.38,1197.74 242.82,1197.77 243.26,1197.81 243.69,1197.84 244.13,1197.88 244.57,1197.91 245.01,1197.95 245.44,1197.98 245.88,1198.02 246.32,1198.05 246.75,1198.09 247.19,1198.12 247.63,1198.15 248.07,1198.19 248.5,1198.22 248.94,1198.26 249.38,1198.29 249.82,1198.33 250.25,1198.36 250.69,1198.4 251.13,1198.43 251.57,1198.47 252,1198.5 252.44,1198.54 252.88,1198.57 253.32,1198.61 253.75,1198.64 254.19,1198.68 254.63,1198.71 255.07,1198.75 255.5,1198.78 255.94,1198.81 256.38,1198.85 256.82,1198.88 257.25,1198.92 257.69,1198.95 258.13,1198.99 258.56,1199.02 259,1199.06 259.44,1199.09 259.88,1199.13 260.31,1199.16 260.75,1199.2 261.19,1199.23 261.63,1199.27 262.06,1199.3 262.5,1199.34 262.94,1199.37 263.38,1199.41 263.81,1199.44 264.25,1199.48 264.69,1199.51 265.13,1199.54 265.56,1199.58 266,1199.61 266.44,1199.65 266.88,1199.68 267.31,1199.72 267.75,1199.75 268.19,1199.79 268.62,1199.82 269.06,1199.86 269.5,1199.89 269.94,1199.93 270.37,1199.96 270.81,1200 271.25,1200.03 271.69,1200.07 272.12,1200.1 272.56,1200.14 273,1200.17 273.44,1200.2 273.87,1200.24 274.31,1200.27 274.75,1200.31 275.19,1200.34 275.62,1200.38 276.06,1200.41 276.5,1200.45 276.94,1200.48 277.37,1200.52 277.81,1200.55 278.25,1200.59 278.69,1200.62 279.12,1200.66 279.56,1200.69" fill="none" stroke="#0000ff" stroke-width="1.3" stroke-linejoin="round" />
<polyline points="148.34,1190.27 148.78,1190.3 149.21,1190.34 149.65,1190.37 150.09,1190.41 150.53,1190.44 150.96,1190.48 151.4,1190.51 151.84,1190.55 152.28,1190.58 152.71,1190.62 153.15,1190.65 153.59,1190.68 154.03,1190.72 154.46,1190.75 154.9,1190.79 155.34,1190.82 155.78,1190.86 156.21,1190.89 156.65,1190.93 157.09,1190.96 157.53,1191 157.96,1191.03 158.4,1191.07 158.84,1191.1 159.27,1191.14 159.71,1191.17 160.15,1191.21 160.59,1191.24 161.02,1191.28 161.46,1191.31 161.9,1191.34 162.34,1191.38 162.77,1191.41 163.21,1191.45 163.65,1191.48 164.09,1191.52 164.52,1191.55 164.96,1191.59 165.4,1191.62 165.84,1191.66 166.27,1191.69 166.71,1191.73 167.15,1191.76 167.59,1191.8 168.02,1191.83 168.46,1191.87 168.9,1191.9 169.34,1191.94 169.77,1191.97 170.21,1192.01 170.65,1192.04 171.08,1192.07 171.52,1192.11 171.96,1192.14 172.4,1192.18 172.83,1192.21 173.27,1192.25 173.71,1192.28 174.15,1192.32 174.58,1192.35 175.02,1192.39 175.46,1192.42 175.9,1192.46 176.33,1192.49 176.77,1192.53 177.21,1192.56 177.65,1192.6 178.08,1192.63 178.52,1192.67 178.96,1192.7 179.4,1192.73 179.83,1192.77 180.27,1192.8 180.71,1192.84 181.14,1192.87 181.58,1192.91 182.02,1192.94 182.46,1192.98 182.89,1193.01 183.33,1193.05 183.77,1193.08 184.21,1193.12 184.64,1193.15 185.08,1193.19 185.52,1193.22 185.96,1193.26 186.39,1193.29 186.83,1193.33 187.27,1193.36 187.71,1193.39 188.14,1193.43 188.58,1193.46 189.02,1193.5 189.46,1193.53 189.89,1193.57 190.33,1193.6 190.77,1193.64 191.21,1193.67 191.64,1193.71 192.08,1193.74 192.52,1193.78 192.95,1193.81 193.39,1193.85 193.83,1193.88 194.27,1193.92 194.7,1193.95 195.14,1193.99 195.58,1194.02 196.02,1194.06 196.45,1194.09 196.89,1194.12 197.33,1194.16 197.77,1194.19 198.2,1194.23 198.64,1194.26 199.08,1194.3 199.52,1194.33 199.95,1194.37 200.39,1194.4 200.83,1194.44 201.27,1194.47 201.7,1194.51 202.14,1194.54 202.58,1194.58 203.01,1194.61 203.45,1194.64 203.89,1194.68 204.33,1194.71 204.76,1194.75 205.2,1194.78 205.64,1194.81 206.08,1194.85 206.51,1194.88 206.95,1194.91 207.39,1194.95 207.83,1194.98 208.26,1195.01 208.7,1195.04 209.14,1195.07 209.58,1195.1 210.01,1195.12 210.45,1195.15 210.89,1195.17 211.33,1195.19 211.76,1195.21 212.2,1195.22 212.64,1195.23 213.08,1195.24 213.51,1195.25 213.95,1195.24 214.39,1195.24 214.82,1195.22 215.26,1195.2 215.7,1195.18 216.14,1195.14 216.57,1195.1 217.01,1195.04 217.45,1194.98 217.89,1194.91 218.32,1194.82 218.76,1194.73 219.2,1194.62 219.64,1194.5 220.07,1194.36 220.51,1194.22 220.95,1194.06 221.39,1193.89 221.82,1193.71 222.26,1193.52 222.7,1193.32 223.14,1193.12 223.57,1192.9 224.01,1192.68 224.45,1192.45 224.88,1192.23 225.32,1192 225.76,1191.78 226.2,1191.56 226.63,1191.35 227.07,1191.14 227.51,1190.95 227.95,1190.78 228.38,1190.62 228.82,1190.48 229.26,1190.36 229.7,1190.26 230.13,1190.19 230.57,1190.14 231.01,1190.12 231.45,1190.13 231.88,1190.16 232.32,1190.23 232.76,1190.33 233.2,1190.47 233.63,1190.63 234.07,1190.83 234.51,1191.06 234.95,1191.31 235.38,1191.58 235.82,1191.87 236.26,1192.18 236.69,1192.49 237.13,1192.82 237.57,1193.15 238.01,1193.48 238.44,1193.81 238.88,1194.13 239.32,1194.45 239.76,1194.75 240.19,1195.05 240.63,1195.33 241.07,1195.6 241.51,1195.86 241.94,1196.1 242.38,1196.32 242.82,1196.53 243.26,1196.72 243.69,1196.9 244.13,1197.06 244.57,1197.21 245.01,1197.35 245.44,1197.47 245.88,1197.58 246.32,1197.69 246.75,1197.78 247.19,1197.87 247.63,1197.94 248.07,1198.02 248.5,1198.08 248.94,1198.14 249.38,1198.2 249.82,1198.25 250.25,1198.3 250.69,1198.35 251.13,1198.39 251.57,1198.44 252,1198.48 252.44,1198.52 252.88,1198.56 253.32,1198.6 253.75,1198.63 254.19,1198.67 254.63,1198.71 255.07,1198.74 255.5,1198.78 255.94,1198.81 256.38,1198.85 256.82,1198.88 257.25,1198.92 257.69,1198.95 258.13,1198.99 258.56,1199.02 259,1199.06 259.44,1199.09 259.88,1199.13 260.31,1199.16 260.75,1199.2 261.19,1199.23 261.63,1199.27 262.06,1199.3 262.5,1199.34 262.94,1199.37 263.38,1199.41 263.81,1199.44 264.25,1199.48 264.69,1199.51 265.13,1199.54 265.56,1199.58 266,1199.61 266.44,1199.65 266.88,1199.68 267.31,1199.72 267.75,1199.75 268.19,1199.79 268.62,1199.82 269.06,1199.86 269.5,1199.89 269.94,1199.93 270.37,1199.96 270.81,1200 271.25,1200.03 271.69,1200.07 272.12,1200.1 272.56,1200.14 273,1200.17 273.44,1200.2 273.87,1200.24 274.31,1200.27 274.75,1200.31 275.19,1200.34 275.62,1200.38 276.06,1200.41 276.5,1200.45 276.94,1200.48 277.37,1200.52 277.81,1200.55 278.25,1200.59 278.69,1200.62 279.12,1200.66 279.56,1200.69" fill="none" stroke="#ff0000" stroke-width="1.3" stroke-linejoin="round" />
</g>
<rect x="75.5" y="846.5" width="262.0" height="386.0" fill="none" stroke="#5a5a5a" stroke-width="1.25"/>
<line x1="75.5" y1="980.5" x2="337.5" y2="980.5" stroke="#5a5a5a" stroke-width="1.25" />
<line x1="75.5" y1="1114.5" x2="337.5" y2="1114.5" stroke="#5a5a5a" stroke-width="1.25" />
</g>
<g id="right-a">
<clipPath id="cpr-a0"><rect x="397.5" y="18.5" width="287.0" height="216.0"/></clipPath>
<clipPath id="cpr-a1"><rect x="397.5" y="234.5" width="287.0" height="167.0"/></clipPath>
<line x1="397.5" y1="216" x2="413.5" y2="216" stroke="#666" stroke-width="1.25" />
<line x1="397.5" y1="180.12" x2="413.5" y2="180.12" stroke="#666" stroke-width="1.25" />
<line x1="397.5" y1="144.24" x2="413.5" y2="144.24" stroke="#666" stroke-width="1.25" />
<line x1="397.5" y1="108.36" x2="413.5" y2="108.36" stroke="#666" stroke-width="1.25" />
<line x1="397.5" y1="72.48" x2="413.5" y2="72.48" stroke="#666" stroke-width="1.25" />
<line x1="397.5" y1="36.6" x2="413.5" y2="36.6" stroke="#666" stroke-width="1.25" />
<line x1="413.5" y1="216" x2="684.5" y2="216" stroke="#222" stroke-width="0.9" stroke-dasharray="2.1,2.2"/>
<line x1="413.5" y1="36.6" x2="684.5" y2="36.6" stroke="#222" stroke-width="0.9" stroke-dasharray="2.1,2.2"/>
<line x1="397.5" y1="373.4" x2="414.5" y2="373.4" stroke="#666" stroke-width="1.25" />
<line x1="397.5" y1="312.8" x2="414.5" y2="312.8" stroke="#666" stroke-width="1.25" />
<line x1="397.5" y1="252.2" x2="414.5" y2="252.2" stroke="#666" stroke-width="1.25" />
<line x1="397.5" y1="343.1" x2="405.7" y2="343.1" stroke="#666" stroke-width="1.25" />
<line x1="397.5" y1="282.5" x2="405.7" y2="282.5" stroke="#666" stroke-width="1.25" />
<line x1="401.6" y1="234.5" x2="401.6" y2="219.5" stroke="#666" stroke-width="1.25" />
<line x1="432.27" y1="234.5" x2="432.27" y2="227" stroke="#666" stroke-width="1.25" />
<line x1="450.22" y1="234.5" x2="450.22" y2="227" stroke="#666" stroke-width="1.25" />
<line x1="462.95" y1="234.5" x2="462.95" y2="227" stroke="#666" stroke-width="1.25" />
<line x1="472.83" y1="234.5" x2="472.83" y2="227" stroke="#666" stroke-width="1.25" />
<line x1="480.89" y1="234.5" x2="480.89" y2="227" stroke="#666" stroke-width="1.25" />
<line x1="487.72" y1="234.5" x2="487.72" y2="227" stroke="#666" stroke-width="1.25" />
<line x1="493.62" y1="234.5" x2="493.62" y2="227" stroke="#666" stroke-width="1.25" />
<line x1="498.84" y1="234.5" x2="498.84" y2="227" stroke="#666" stroke-width="1.25" />
<line x1="503.5" y1="234.5" x2="503.5" y2="219.5" stroke="#666" stroke-width="1.25" />
<line x1="534.17" y1="234.5" x2="534.17" y2="227" stroke="#666" stroke-width="1.25" />
<line x1="552.12" y1="234.5" x2="552.12" y2="227" stroke="#666" stroke-width="1.25" />
<line x1="564.85" y1="234.5" x2="564.85" y2="227" stroke="#666" stroke-width="1.25" />
<line x1="574.73" y1="234.5" x2="574.73" y2="227" stroke="#666" stroke-width="1.25" />
<line x1="582.79" y1="234.5" x2="582.79" y2="227" stroke="#666" stroke-width="1.25" />
<line x1="589.62" y1="234.5" x2="589.62" y2="227" stroke="#666" stroke-width="1.25" />
<line x1="595.52" y1="234.5" x2="595.52" y2="227" stroke="#666" stroke-width="1.25" />
<line x1="600.74" y1="234.5" x2="600.74" y2="227" stroke="#666" stroke-width="1.25" />
<line x1="605.4" y1="234.5" x2="605.4" y2="219.5" stroke="#666" stroke-width="1.25" />
<line x1="636.07" y1="234.5" x2="636.07" y2="227" stroke="#666" stroke-width="1.25" />
<line x1="654.02" y1="234.5" x2="654.02" y2="227" stroke="#666" stroke-width="1.25" />
<line x1="666.75" y1="234.5" x2="666.75" y2="227" stroke="#666" stroke-width="1.25" />
<line x1="676.63" y1="234.5" x2="676.63" y2="227" stroke="#666" stroke-width="1.25" />
<line x1="401.6" y1="401.5" x2="401.6" y2="386.5" stroke="#666" stroke-width="1.25" />
<line x1="432.27" y1="401.5" x2="432.27" y2="394" stroke="#666" stroke-width="1.25" />
<line x1="450.22" y1="401.5" x2="450.22" y2="394" stroke="#666" stroke-width="1.25" />
<line x1="462.95" y1="401.5" x2="462.95" y2="394" stroke="#666" stroke-width="1.25" />
<line x1="472.83" y1="401.5" x2="472.83" y2="394" stroke="#666" stroke-width="1.25" />
<line x1="480.89" y1="401.5" x2="480.89" y2="394" stroke="#666" stroke-width="1.25" />
<line x1="487.72" y1="401.5" x2="487.72" y2="394" stroke="#666" stroke-width="1.25" />
<line x1="493.62" y1="401.5" x2="493.62" y2="394" stroke="#666" stroke-width="1.25" />
<line x1="498.84" y1="401.5" x2="498.84" y2="394" stroke="#666" stroke-width="1.25" />
<line x1="503.5" y1="401.5" x2="503.5" y2="386.5" stroke="#666" stroke-width="1.25" />
<line x1="534.17" y1="401.5" x2="534.17" y2="394" stroke="#666" stroke-width="1.25" />
<line x1="552.12" y1="401.5" x2="552.12" y2="394" stroke="#666" stroke-width="1.25" />
<line x1="564.85" y1="401.5" x2="564.85" y2="394" stroke="#666" stroke-width="1.25" />
<line x1="574.73" y1="401.5" x2="574.73" y2="394" stroke="#666" stroke-width="1.25" />
<line x1="582.79" y1="401.5" x2="582.79" y2="394" stroke="#666" stroke-width="1.25" />
<line x1="589.62" y1="401.5" x2="589.62" y2="394" stroke="#666" stroke-width="1.25" />
<line x1="595.52" y1="401.5" x2="595.52" y2="394" stroke="#666" stroke-width="1.25" />
<line x1="600.74" y1="401.5" x2="600.74" y2="394" stroke="#666" stroke-width="1.25" />
<line x1="605.4" y1="401.5" x2="605.4" y2="386.5" stroke="#666" stroke-width="1.25" />
<line x1="636.07" y1="401.5" x2="636.07" y2="394" stroke="#666" stroke-width="1.25" />
<line x1="654.02" y1="401.5" x2="654.02" y2="394" stroke="#666" stroke-width="1.25" />
<line x1="666.75" y1="401.5" x2="666.75" y2="394" stroke="#666" stroke-width="1.25" />
<line x1="676.63" y1="401.5" x2="676.63" y2="394" stroke="#666" stroke-width="1.25" />
<g clip-path="url(#cpr-a0)">
<line x1="438.46" y1="194.3" x2="438.46" y2="234.5" stroke="#0000ff" stroke-opacity="0.7" stroke-width="1" />
<line x1="436.26" y1="194.3" x2="440.66" y2="194.3" stroke="#0000ff" stroke-opacity="0.7" stroke-width="1" />
<line x1="436.26" y1="234.5" x2="440.66" y2="234.5" stroke="#0000ff" stroke-opacity="0.7" stroke-width="1" />
<line x1="434.66" y1="216.2" x2="442.26" y2="216.2" stroke="#0000ff" stroke-opacity="0.7" stroke-width="1" />
<circle cx="438.46" cy="216.2" r="3.4" fill="#0000ff"/>
<line x1="454.44" y1="181.5" x2="454.44" y2="203.4" stroke="#0000ff" stroke-opacity="0.7" stroke-width="1" />
<line x1="452.24" y1="181.5" x2="456.64" y2="181.5" stroke="#0000ff" stroke-opacity="0.7" stroke-width="1" />
<line x1="452.24" y1="203.4" x2="456.64" y2="203.4" stroke="#0000ff" stroke-opacity="0.7" stroke-width="1" />
<circle cx="454.44" cy="192.6" r="3.4" fill="#0000ff"/>
<line x1="477.84" y1="153.5" x2="477.84" y2="175.2" stroke="#0000ff" stroke-opacity="0.7" stroke-width="1" />
<line x1="475.64" y1="153.5" x2="480.04" y2="153.5" stroke="#0000ff" stroke-opacity="0.7" stroke-width="1" />
<line x1="475.64" y1="175.2" x2="480.04" y2="175.2" stroke="#0000ff" stroke-opacity="0.7" stroke-width="1" />
<circle cx="477.84" cy="164" r="3.4" fill="#0000ff"/>
<line x1="493.62" y1="93.2" x2="493.62" y2="119.5" stroke="#0000ff" stroke-opacity="0.7" stroke-width="1" />
<line x1="491.42" y1="93.2" x2="495.82" y2="93.2" stroke="#0000ff" stroke-opacity="0.7" stroke-width="1" />
<line x1="491.42" y1="119.5" x2="495.82" y2="119.5" stroke="#0000ff" stroke-opacity="0.7" stroke-width="1" />
<circle cx="493.62" cy="106.2" r="3.4" fill="#0000ff"/>
<line x1="515.11" y1="62.4" x2="515.11" y2="93.6" stroke="#0000ff" stroke-opacity="0.7" stroke-width="1" />
<line x1="512.91" y1="62.4" x2="517.31" y2="62.4" stroke="#0000ff" stroke-opacity="0.7" stroke-width="1" />
<line x1="512.91" y1="93.6" x2="517.31" y2="93.6" stroke="#0000ff" stroke-opacity="0.7" stroke-width="1" />
<circle cx="515.11" cy="77.8" r="3.4" fill="#0000ff"/>
<line x1="539.39" y1="37.2" x2="539.39" y2="72" stroke="#0000ff" stroke-opacity="0.7" stroke-width="1" />
<line x1="537.19" y1="37.2" x2="541.59" y2="37.2" stroke="#0000ff" stroke-opacity="0.7" stroke-width="1" />
<line x1="537.19" y1="72" x2="541.59" y2="72" stroke="#0000ff" stroke-opacity="0.7" stroke-width="1" />
<circle cx="539.39" cy="54.7" r="3.4" fill="#0000ff"/>
<line x1="561.4" y1="30.6" x2="561.4" y2="65.8" stroke="#0000ff" stroke-opacity="0.7" stroke-width="1" />
<line x1="559.2" y1="30.6" x2="563.6" y2="30.6" stroke="#0000ff" stroke-opacity="0.7" stroke-width="1" />
<line x1="559.2" y1="65.8" x2="563.6" y2="65.8" stroke="#0000ff" stroke-opacity="0.7" stroke-width="1" />
<circle cx="561.4" cy="47.95" r="3.4" fill="#0000ff"/>
<line x1="582.05" y1="30.6" x2="582.05" y2="65.8" stroke="#0000ff" stroke-opacity="0.7" stroke-width="1" />
<line x1="579.85" y1="30.6" x2="584.25" y2="30.6" stroke="#0000ff" stroke-opacity="0.7" stroke-width="1" />
<line x1="579.85" y1="65.8" x2="584.25" y2="65.8" stroke="#0000ff" stroke-opacity="0.7" stroke-width="1" />
<circle cx="582.05" cy="47.95" r="3.4" fill="#0000ff"/>
<line x1="605.4" y1="22.6" x2="605.4" y2="58.2" stroke="#0000ff" stroke-opacity="0.7" stroke-width="1" />
<line x1="603.2" y1="22.6" x2="607.6" y2="22.6" stroke="#0000ff" stroke-opacity="0.7" stroke-width="1" />
<line x1="603.2" y1="58.2" x2="607.6" y2="58.2" stroke="#0000ff" stroke-opacity="0.7" stroke-width="1" />
<circle cx="605.4" cy="40.4" r="3.4" fill="#0000ff"/>
<line x1="628.88" y1="27.1" x2="628.88" y2="62.8" stroke="#0000ff" stroke-opacity="0.7" stroke-width="1" />
<line x1="626.68" y1="27.1" x2="631.08" y2="27.1" stroke="#0000ff" stroke-opacity="0.7" stroke-width="1" />
<line x1="626.68" y1="62.8" x2="631.08" y2="62.8" stroke="#0000ff" stroke-opacity="0.7" stroke-width="1" />
<circle cx="628.88" cy="45.2" r="3.4" fill="#0000ff"/>
<line x1="654.02" y1="20.6" x2="654.02" y2="57.2" stroke="#0000ff" stroke-opacity="0.7" stroke-width="1" />
<line x1="651.82" y1="20.6" x2="656.22" y2="20.6" stroke="#0000ff" stroke-opacity="0.7" stroke-width="1" />
<line x1="651.82" y1="57.2" x2="656.22" y2="57.2" stroke="#0000ff" stroke-opacity="0.7" stroke-width="1" />
<circle cx="654.02" cy="38.9" r="3.4" fill="#0000ff"/>
<line x1="676.63" y1="18.8" x2="676.63" y2="56.5" stroke="#0000ff" stroke-opacity="0.7" stroke-width="1" />
<line x1="674.43" y1="18.8" x2="678.83" y2="18.8" stroke="#0000ff" stroke-opacity="0.7" stroke-width="1" />
<line x1="674.43" y1="56.5" x2="678.83" y2="56.5" stroke="#0000ff" stroke-opacity="0.7" stroke-width="1" />
<circle cx="676.63" cy="37.7" r="3.4" fill="#0000ff"/>
<line x1="438.46" y1="18.5" x2="438.46" y2="65" stroke="#ff0000" stroke-opacity="0.7" stroke-width="1" />
<line x1="436.26" y1="18.5" x2="440.66" y2="18.5" stroke="#ff0000" stroke-opacity="0.7" stroke-width="1" />
<line x1="436.26" y1="65" x2="440.66" y2="65" stroke="#ff0000" stroke-opacity="0.7" stroke-width="1" />
<line x1="434.66" y1="36.6" x2="442.26" y2="36.6" stroke="#ff0000" stroke-opacity="0.7" stroke-width="1" />
<circle cx="438.46" cy="36.6" r="3.4" fill="#ff0000"/>
<line x1="454.44" y1="41.4" x2="454.44" y2="79.2" stroke="#ff0000" stroke-opacity="0.7" stroke-width="1" />
<line x1="452.24" y1="41.4" x2="456.64" y2="41.4" stroke="#ff0000" stroke-opacity="0.7" stroke-width="1" />
<line x1="452.24" y1="79.2" x2="456.64" y2="79.2" stroke="#ff0000" stroke-opacity="0.7" stroke-width="1" />
<circle cx="454.44" cy="60.3" r="3.4" fill="#ff0000"/>
<line x1="477.84" y1="72.2" x2="477.84" y2="104.4" stroke="#ff0000" stroke-opacity="0.7" stroke-width="1" />
<line x1="475.64" y1="72.2" x2="480.04" y2="72.2" stroke="#ff0000" stroke-opacity="0.7" stroke-width="1" />
<line x1="475.64" y1="104.4" x2="480.04" y2="104.4" stroke="#ff0000" stroke-opacity="0.7" stroke-width="1" />
<circle cx="477.84" cy="88.7" r="3.4" fill="#ff0000"/>
<line x1="493.62" y1="137" x2="493.62" y2="156.3" stroke="#ff0000" stroke-opacity="0.7" stroke-width="1" />
<line x1="491.42" y1="137" x2="495.82" y2="137" stroke="#ff0000" stroke-opacity="0.7" stroke-width="1" />
<line x1="491.42" y1="156.3" x2="495.82" y2="156.3" stroke="#ff0000" stroke-opacity="0.7" stroke-width="1" />
<circle cx="493.62" cy="146.5" r="3.4" fill="#ff0000"/>
<line x1="515.11" y1="167.2" x2="515.11" y2="182.6" stroke="#ff0000" stroke-opacity="0.7" stroke-width="1" />
<line x1="512.91" y1="167.2" x2="517.31" y2="167.2" stroke="#ff0000" stroke-opacity="0.7" stroke-width="1" />
<line x1="512.91" y1="182.6" x2="517.31" y2="182.6" stroke="#ff0000" stroke-opacity="0.7" stroke-width="1" />
<circle cx="515.11" cy="175" r="3.4" fill="#ff0000"/>
<line x1="539.39" y1="192" x2="539.39" y2="204.3" stroke="#ff0000" stroke-opacity="0.7" stroke-width="1" />
<line x1="537.19" y1="192" x2="541.59" y2="192" stroke="#ff0000" stroke-opacity="0.7" stroke-width="1" />
<line x1="537.19" y1="204.3" x2="541.59" y2="204.3" stroke="#ff0000" stroke-opacity="0.7" stroke-width="1" />
<circle cx="539.39" cy="198.2" r="3.4" fill="#ff0000"/>
<line x1="561.4" y1="199.6" x2="561.4" y2="210.4" stroke="#ff0000" stroke-opacity="0.7" stroke-width="1" />
<line x1="559.2" y1="199.6" x2="563.6" y2="199.6" stroke="#ff0000" stroke-opacity="0.7" stroke-width="1" />
<line x1="559.2" y1="210.4" x2="563.6" y2="210.4" stroke="#ff0000" stroke-opacity="0.7" stroke-width="1" />
<circle cx="561.4" cy="204.6" r="3.4" fill="#ff0000"/>
<line x1="582.05" y1="198.3" x2="582.05" y2="210.9" stroke="#ff0000" stroke-opacity="0.7" stroke-width="1" />
<line x1="579.85" y1="198.3" x2="584.25" y2="198.3" stroke="#ff0000" stroke-opacity="0.7" stroke-width="1" />
<line x1="579.85" y1="210.9" x2="584.25" y2="210.9" stroke="#ff0000" stroke-opacity="0.7" stroke-width="1" />
<circle cx="582.05" cy="204.6" r="3.4" fill="#ff0000"/>
<line x1="605.4" y1="208.4" x2="605.4" y2="215.9" stroke="#ff0000" stroke-opacity="0.7" stroke-width="1" />
<line x1="603.2" y1="208.4" x2="607.6" y2="208.4" stroke="#ff0000" stroke-opacity="0.7" stroke-width="1" />
<line x1="603.2" y1="215.9" x2="607.6" y2="215.9" stroke="#ff0000" stroke-opacity="0.7" stroke-width="1" />
<circle cx="605.4" cy="212.2" r="3.4" fill="#ff0000"/>
<line x1="628.88" y1="202.1" x2="628.88" y2="213.4" stroke="#ff0000" stroke-opacity="0.7" stroke-width="1" />
<line x1="626.68" y1="202.1" x2="631.08" y2="202.1" stroke="#ff0000" stroke-opacity="0.7" stroke-width="1" />
<line x1="626.68" y1="213.4" x2="631.08" y2="213.4" stroke="#ff0000" stroke-opacity="0.7" stroke-width="1" />
<circle cx="628.88" cy="207.6" r="3.4" fill="#ff0000"/>
<line x1="654.02" y1="208.4" x2="654.02" y2="219.7" stroke="#ff0000" stroke-opacity="0.7" stroke-width="1" />
<line x1="651.82" y1="208.4" x2="656.22" y2="208.4" stroke="#ff0000" stroke-opacity="0.7" stroke-width="1" />
<line x1="651.82" y1="219.7" x2="656.22" y2="219.7" stroke="#ff0000" stroke-opacity="0.7" stroke-width="1" />
<circle cx="654.02" cy="213.9" r="3.4" fill="#ff0000"/>
<line x1="676.63" y1="209.6" x2="676.63" y2="220.4" stroke="#ff0000" stroke-opacity="0.7" stroke-width="1" />
<line x1="674.43" y1="209.6" x2="678.83" y2="209.6" stroke="#ff0000" stroke-opacity="0.7" stroke-width="1" />
<line x1="674.43" y1="220.4" x2="678.83" y2="220.4" stroke="#ff0000" stroke-opacity="0.7" stroke-width="1" />
<circle cx="676.63" cy="215.2" r="3.4" fill="#ff0000"/>
<polyline points="455.4,195.2 465,175.9 477.3,151.4 489.6,128.6 500.1,111.1 510.6,91.8 515.8,83.1 528.1,64.7 539.5,47.2" fill="none" stroke="#0000ff" stroke-width="1.35" stroke-linejoin="round" />
<polyline points="455.2,55.4 460,62.5 465,70.8 472,84 477.3,93.6 482.6,107.6 487.8,125.1 492.2,140.9 496.6,156.7 499.7,166.8 507.1,171 515.1,175 522.9,181.2 531.6,190 539,197.8" fill="none" stroke="#ff0000" stroke-width="1.35" stroke-linejoin="round" />
</g>
<g clip-path="url(#cpr-a1)">
<line x1="454.44" y1="304.3" x2="454.44" y2="345.3" stroke="#222" stroke-opacity="0.7" stroke-width="1" />
<line x1="452.24" y1="304.3" x2="456.64" y2="304.3" stroke="#222" stroke-opacity="0.7" stroke-width="1" />
<line x1="452.24" y1="345.3" x2="456.64" y2="345.3" stroke="#222" stroke-opacity="0.7" stroke-width="1" />
<circle cx="454.44" cy="324.8" r="3.4" fill="#000"/>
<line x1="477.84" y1="280.1" x2="477.84" y2="328.6" stroke="#222" stroke-opacity="0.7" stroke-width="1" />
<line x1="475.64" y1="280.1" x2="480.04" y2="280.1" stroke="#222" stroke-opacity="0.7" stroke-width="1" />
<line x1="475.64" y1="328.6" x2="480.04" y2="328.6" stroke="#222" stroke-opacity="0.7" stroke-width="1" />
<circle cx="477.84" cy="303.8" r="3.4" fill="#000"/>
<line x1="493.62" y1="301.6" x2="493.62" y2="349.3" stroke="#222" stroke-opacity="0.7" stroke-width="1" />
<line x1="491.42" y1="301.6" x2="495.82" y2="301.6" stroke="#222" stroke-opacity="0.7" stroke-width="1" />
<line x1="491.42" y1="349.3" x2="495.82" y2="349.3" stroke="#222" stroke-opacity="0.7" stroke-width="1" />
<circle cx="493.62" cy="325.6" r="3.4" fill="#000"/>
<line x1="515.11" y1="279.3" x2="515.11" y2="348.1" stroke="#222" stroke-opacity="0.7" stroke-width="1" />
<line x1="512.91" y1="279.3" x2="517.31" y2="279.3" stroke="#222" stroke-opacity="0.7" stroke-width="1" />
<line x1="512.91" y1="348.1" x2="517.31" y2="348.1" stroke="#222" stroke-opacity="0.7" stroke-width="1" />
<circle cx="515.11" cy="314.2" r="3.4" fill="#000"/>
<line x1="539.39" y1="249.5" x2="539.39" y2="372.2" stroke="#222" stroke-opacity="0.7" stroke-width="1" />
<line x1="537.19" y1="249.5" x2="541.59" y2="249.5" stroke="#222" stroke-opacity="0.7" stroke-width="1" />
<line x1="537.19" y1="372.2" x2="541.59" y2="372.2" stroke="#222" stroke-opacity="0.7" stroke-width="1" />
<circle cx="539.39" cy="310.7" r="3.4" fill="#000"/>
<rect x="397.5" y="306.1" width="287.0" height="23.7" fill="rgb(119,119,119)" fill-opacity="0.25"/>
<line x1="397.5" y1="317.8" x2="684.5" y2="317.8" stroke="#333" stroke-width="1.3" />
</g>
<rect x="397.5" y="18.5" width="287.0" height="383.0" fill="none" stroke="#5a5a5a" stroke-width="1.25"/>
<line x1="397.5" y1="234.5" x2="684.5" y2="234.5" stroke="#5a5a5a" stroke-width="1.25" />
</g>
<g id="right-b">
<clipPath id="cpr-b0"><rect x="397.5" y="432.5" width="287.0" height="216.0"/></clipPath>
<clipPath id="cpr-b1"><rect x="397.5" y="648.5" width="287.0" height="168.0"/></clipPath>
<line x1="397.5" y1="631" x2="413.5" y2="631" stroke="#666" stroke-width="1.25" />
<line x1="397.5" y1="595.02" x2="413.5" y2="595.02" stroke="#666" stroke-width="1.25" />
<line x1="397.5" y1="559.04" x2="413.5" y2="559.04" stroke="#666" stroke-width="1.25" />
<line x1="397.5" y1="523.06" x2="413.5" y2="523.06" stroke="#666" stroke-width="1.25" />
<line x1="397.5" y1="487.08" x2="413.5" y2="487.08" stroke="#666" stroke-width="1.25" />
<line x1="397.5" y1="451.1" x2="413.5" y2="451.1" stroke="#666" stroke-width="1.25" />
<line x1="413.5" y1="631" x2="684.5" y2="631" stroke="#222" stroke-width="0.9" stroke-dasharray="2.1,2.2"/>
<line x1="413.5" y1="451.1" x2="684.5" y2="451.1" stroke="#222" stroke-width="0.9" stroke-dasharray="2.1,2.2"/>
<line x1="397.5" y1="806.68" x2="414.5" y2="806.68" stroke="#666" stroke-width="1.25" />
<line x1="397.5" y1="756.1" x2="414.5" y2="756.1" stroke="#666" stroke-width="1.25" />
<line x1="397.5" y1="705.52" x2="414.5" y2="705.52" stroke="#666" stroke-width="1.25" />
<line x1="397.5" y1="654.94" x2="414.5" y2="654.94" stroke="#666" stroke-width="1.25" />
<line x1="397.5" y1="781.39" x2="405.7" y2="781.39" stroke="#666" stroke-width="1.25" />
<line x1="397.5" y1="730.81" x2="405.7" y2="730.81" stroke="#666" stroke-width="1.25" />
<line x1="397.5" y1="680.23" x2="405.7" y2="680.23" stroke="#666" stroke-width="1.25" />
<line x1="401.6" y1="648.5" x2="401.6" y2="633.5" stroke="#666" stroke-width="1.25" />
<line x1="432.27" y1="648.5" x2="432.27" y2="641" stroke="#666" stroke-width="1.25" />
<line x1="450.22" y1="648.5" x2="450.22" y2="641" stroke="#666" stroke-width="1.25" />
<line x1="462.95" y1="648.5" x2="462.95" y2="641" stroke="#666" stroke-width="1.25" />
<line x1="472.83" y1="648.5" x2="472.83" y2="641" stroke="#666" stroke-width="1.25" />
<line x1="480.89" y1="648.5" x2="480.89" y2="641" stroke="#666" stroke-width="1.25" />
<line x1="487.72" y1="648.5" x2="487.72" y2="641" stroke="#666" stroke-width="1.25" />
<line x1="493.62" y1="648.5" x2="493.62" y2="641" stroke="#666" stroke-width="1.25" />
<line x1="498.84" y1="648.5" x2="498.84" y2="641" stroke="#666" stroke-width="1.25" />
<line x1="503.5" y1="648.5" x2="503.5" y2="633.5" stroke="#666" stroke-width="1.25" />
<line x1="534.17" y1="648.5" x2="534.17" y2="641" stroke="#666" stroke-width="1.25" />
<line x1="552.12" y1="648.5" x2="552.12" y2="641" stroke="#666" stroke-width="1.25" />
<line x1="564.85" y1="648.5" x2="564.85" y2="641" stroke="#666" stroke-width="1.25" />
<line x1="574.73" y1="648.5" x2="574.73" y2="641" stroke="#666" stroke-width="1.25" />
<line x1="582.79" y1="648.5" x2="582.79" y2="641" stroke="#666" stroke-width="1.25" />
<line x1="589.62" y1="648.5" x2="589.62" y2="641" stroke="#666" stroke-width="1.25" />
<line x1="595.52" y1="648.5" x2="595.52" y2="641" stroke="#666" stroke-width="1.25" />
<line x1="600.74" y1="648.5" x2="600.74" y2="641" stroke="#666" stroke-width="1.25" />
<line x1="605.4" y1="648.5" x2="605.4" y2="633.5" stroke="#666" stroke-width="1.25" />
<line x1="636.07" y1="648.5" x2="636.07" y2="641" stroke="#666" stroke-width="1.25" />
<line x1="654.02" y1="648.5" x2="654.02" y2="641" stroke="#666" stroke-width="1.25" />
<line x1="666.75" y1="648.5" x2="666.75" y2="641" stroke="#666" stroke-width="1.25" />
<line x1="676.63" y1="648.5" x2="676.63" y2="641" stroke="#666" stroke-width="1.25" />
<line x1="401.6" y1="816.5" x2="401.6" y2="801.5" stroke="#666" stroke-width="1.25" />
<line x1="432.27" y1="816.5" x2="432.27" y2="809" stroke="#666" stroke-width="1.25" />
<line x1="450.22" y1="816.5" x2="450.22" y2="809" stroke="#666" stroke-width="1.25" />
<line x1="462.95" y1="816.5" x2="462.95" y2="809" stroke="#666" stroke-width="1.25" />
<line x1="472.83" y1="816.5" x2="472.83" y2="809" stroke="#666" stroke-width="1.25" />
<line x1="480.89" y1="816.5" x2="480.89" y2="809" stroke="#666" stroke-width="1.25" />
<line x1="487.72" y1="816.5" x2="487.72" y2="809" stroke="#666" stroke-width="1.25" />
<line x1="493.62" y1="816.5" x2="493.62" y2="809" stroke="#666" stroke-width="1.25" />
<line x1="498.84" y1="816.5" x2="498.84" y2="809" stroke="#666" stroke-width="1.25" />
<line x1="503.5" y1="816.5" x2="503.5" y2="801.5" stroke="#666" stroke-width="1.25" />
<line x1="534.17" y1="816.5" x2="534.17" y2="809" stroke="#666" stroke-width="1.25" />
<line x1="552.12" y1="816.5" x2="552.12" y2="809" stroke="#666" stroke-width="1.25" />
<line x1="564.85" y1="816.5" x2="564.85" y2="809" stroke="#666" stroke-width="1.25" />
<line x1="574.73" y1="816.5" x2="574.73" y2="809" stroke="#666" stroke-width="1.25" />
<line x1="582.79" y1="816.5" x2="582.79" y2="809" stroke="#666" stroke-width="1.25" />
<line x1="589.62" y1="816.5" x2="589.62" y2="809" stroke="#666" stroke-width="1.25" />
<line x1="595.52" y1="816.5" x2="595.52" y2="809" stroke="#666" stroke-width="1.25" />
<line x1="600.74" y1="816.5" x2="600.74" y2="809" stroke="#666" stroke-width="1.25" />
<line x1="605.4" y1="816.5" x2="605.4" y2="801.5" stroke="#666" stroke-width="1.25" />
<line x1="636.07" y1="816.5" x2="636.07" y2="809" stroke="#666" stroke-width="1.25" />
<line x1="654.02" y1="816.5" x2="654.02" y2="809" stroke="#666" stroke-width="1.25" />
<line x1="666.75" y1="816.5" x2="666.75" y2="809" stroke="#666" stroke-width="1.25" />
<line x1="676.63" y1="816.5" x2="676.63" y2="809" stroke="#666" stroke-width="1.25" />
<g clip-path="url(#cpr-b0)">
<line x1="438.46" y1="628" x2="438.46" y2="633" stroke="#0000ff" stroke-opacity="0.7" stroke-width="1" />
<line x1="436.26" y1="628" x2="440.66" y2="628" stroke="#0000ff" stroke-opacity="0.7" stroke-width="1" />
<line x1="436.26" y1="633" x2="440.66" y2="633" stroke="#0000ff" stroke-opacity="0.7" stroke-width="1" />
<line x1="434.66" y1="630.6" x2="442.26" y2="630.6" stroke="#0000ff" stroke-opacity="0.7" stroke-width="1" />
<circle cx="438.46" cy="630.6" r="3.4" fill="#0000ff"/>
<line x1="454.44" y1="617.8" x2="454.44" y2="630.1" stroke="#0000ff" stroke-opacity="0.7" stroke-width="1" />
<line x1="452.24" y1="617.8" x2="456.64" y2="617.8" stroke="#0000ff" stroke-opacity="0.7" stroke-width="1" />
<line x1="452.24" y1="630.1" x2="456.64" y2="630.1" stroke="#0000ff" stroke-opacity="0.7" stroke-width="1" />
<circle cx="454.44" cy="624" r="3.4" fill="#0000ff"/>
<line x1="477.84" y1="608.5" x2="477.84" y2="624.3" stroke="#0000ff" stroke-opacity="0.7" stroke-width="1" />
<line x1="475.64" y1="608.5" x2="480.04" y2="608.5" stroke="#0000ff" stroke-opacity="0.7" stroke-width="1" />
<line x1="475.64" y1="624.3" x2="480.04" y2="624.3" stroke="#0000ff" stroke-opacity="0.7" stroke-width="1" />
<circle cx="477.84" cy="616.2" r="3.4" fill="#0000ff"/>
<line x1="493.62" y1="561" x2="493.62" y2="580" stroke="#0000ff" stroke-opacity="0.7" stroke-width="1" />
<line x1="491.42" y1="561" x2="495.82" y2="561" stroke="#0000ff" stroke-opacity="0.7" stroke-width="1" />
<line x1="491.42" y1="580" x2="495.82" y2="580" stroke="#0000ff" stroke-opacity="0.7" stroke-width="1" />
<circle cx="493.62" cy="570.5" r="3.4" fill="#0000ff"/>
<line x1="515.11" y1="539.3" x2="515.11" y2="559.7" stroke="#0000ff" stroke-opacity="0.7" stroke-width="1" />
<line x1="512.91" y1="539.3" x2="517.31" y2="539.3" stroke="#0000ff" stroke-opacity="0.7" stroke-width="1" />
<line x1="512.91" y1="559.7" x2="517.31" y2="559.7" stroke="#0000ff" stroke-opacity="0.7" stroke-width="1" />
<circle cx="515.11" cy="549.3" r="3.4" fill="#0000ff"/>
<line x1="539.39" y1="487.3" x2="539.39" y2="515.9" stroke="#0000ff" stroke-opacity="0.7" stroke-width="1" />
<line x1="537.19" y1="487.3" x2="541.59" y2="487.3" stroke="#0000ff" stroke-opacity="0.7" stroke-width="1" />
<line x1="537.19" y1="515.9" x2="541.59" y2="515.9" stroke="#0000ff" stroke-opacity="0.7" stroke-width="1" />
<circle cx="539.39" cy="501.3" r="3.4" fill="#0000ff"/>
<line x1="561.4" y1="467.5" x2="561.4" y2="499.3" stroke="#0000ff" stroke-opacity="0.7" stroke-width="1" />
<line x1="559.2" y1="467.5" x2="563.6" y2="467.5" stroke="#0000ff" stroke-opacity="0.7" stroke-width="1" />
<line x1="559.2" y1="499.3" x2="563.6" y2="499.3" stroke="#0000ff" stroke-opacity="0.7" stroke-width="1" />
<circle cx="561.4" cy="483.5" r="3.4" fill="#0000ff"/>
<line x1="582.05" y1="442.6" x2="582.05" y2="479" stroke="#0000ff" stroke-opacity="0.7" stroke-width="1" />
<line x1="579.85" y1="442.6" x2="584.25" y2="442.6" stroke="#0000ff" stroke-opacity="0.7" stroke-width="1" />
<line x1="579.85" y1="479" x2="584.25" y2="479" stroke="#0000ff" stroke-opacity="0.7" stroke-width="1" />
<circle cx="582.05" cy="460.7" r="3.4" fill="#0000ff"/>
<line x1="605.4" y1="446.4" x2="605.4" y2="481.5" stroke="#0000ff" stroke-opacity="0.7" stroke-width="1" />
<line x1="603.2" y1="446.4" x2="607.6" y2="446.4" stroke="#0000ff" stroke-opacity="0.7" stroke-width="1" />
<line x1="603.2" y1="481.5" x2="607.6" y2="481.5" stroke="#0000ff" stroke-opacity="0.7" stroke-width="1" />
<circle cx="605.4" cy="464.2" r="3.4" fill="#0000ff"/>
<line x1="628.88" y1="441.3" x2="628.88" y2="479.5" stroke="#0000ff" stroke-opacity="0.7" stroke-width="1" />
<line x1="626.68" y1="441.3" x2="631.08" y2="441.3" stroke="#0000ff" stroke-opacity="0.7" stroke-width="1" />
<line x1="626.68" y1="479.5" x2="631.08" y2="479.5" stroke="#0000ff" stroke-opacity="0.7" stroke-width="1" />
<circle cx="628.88" cy="460.4" r="3.4" fill="#0000ff"/>
<line x1="654.02" y1="432.5" x2="654.02" y2="472.2" stroke="#0000ff" stroke-opacity="0.7" stroke-width="1" />
<line x1="651.82" y1="432.5" x2="656.22" y2="432.5" stroke="#0000ff" stroke-opacity="0.7" stroke-width="1" />
<line x1="651.82" y1="472.2" x2="656.22" y2="472.2" stroke="#0000ff" stroke-opacity="0.7" stroke-width="1" />
<circle cx="654.02" cy="452.9" r="3.4" fill="#0000ff"/>
<line x1="676.63" y1="432.5" x2="676.63" y2="474" stroke="#0000ff" stroke-opacity="0.7" stroke-width="1" />
<line x1="674.43" y1="432.5" x2="678.83" y2="432.5" stroke="#0000ff" stroke-opacity="0.7" stroke-width="1" />
<line x1="674.43" y1="474" x2="678.83" y2="474" stroke="#0000ff" stroke-opacity="0.7" stroke-width="1" />
<circle cx="676.63" cy="451.9" r="3.4" fill="#0000ff"/>
<line x1="438.46" y1="537.2" x2="438.46" y2="559.5" stroke="#ff0000" stroke-opacity="0.7" stroke-width="1" />
<line x1="436.26" y1="537.2" x2="440.66" y2="537.2" stroke="#ff0000" stroke-opacity="0.7" stroke-width="1" />
<line x1="436.26" y1="559.5" x2="440.66" y2="559.5" stroke="#ff0000" stroke-opacity="0.7" stroke-width="1" />
<line x1="434.66" y1="548.6" x2="442.26" y2="548.6" stroke="#ff0000" stroke-opacity="0.7" stroke-width="1" />
<circle cx="438.46" cy="548.6" r="3.4" fill="#ff0000"/>
<line x1="454.44" y1="539.3" x2="454.44" y2="563.9" stroke="#ff0000" stroke-opacity="0.7" stroke-width="1" />
<line x1="452.24" y1="539.3" x2="456.64" y2="539.3" stroke="#ff0000" stroke-opacity="0.7" stroke-width="1" />
<line x1="452.24" y1="563.9" x2="456.64" y2="563.9" stroke="#ff0000" stroke-opacity="0.7" stroke-width="1" />
<circle cx="454.44" cy="551.4" r="3.4" fill="#ff0000"/>
<line x1="477.84" y1="540.7" x2="477.84" y2="566.5" stroke="#ff0000" stroke-opacity="0.7" stroke-width="1" />
<line x1="475.64" y1="540.7" x2="480.04" y2="540.7" stroke="#ff0000" stroke-opacity="0.7" stroke-width="1" />
<line x1="475.64" y1="566.5" x2="480.04" y2="566.5" stroke="#ff0000" stroke-opacity="0.7" stroke-width="1" />
<circle cx="477.84" cy="553.9" r="3.4" fill="#ff0000"/>
<line x1="493.62" y1="561.8" x2="493.62" y2="582.3" stroke="#ff0000" stroke-opacity="0.7" stroke-width="1" />
<line x1="491.42" y1="561.8" x2="495.82" y2="561.8" stroke="#ff0000" stroke-opacity="0.7" stroke-width="1" />
<line x1="491.42" y1="582.3" x2="495.82" y2="582.3" stroke="#ff0000" stroke-opacity="0.7" stroke-width="1" />
<circle cx="493.62" cy="571.7" r="3.4" fill="#ff0000"/>
<line x1="515.11" y1="570.5" x2="515.11" y2="588.6" stroke="#ff0000" stroke-opacity="0.7" stroke-width="1" />
<line x1="512.91" y1="570.5" x2="517.31" y2="570.5" stroke="#ff0000" stroke-opacity="0.7" stroke-width="1" />
<line x1="512.91" y1="588.6" x2="517.31" y2="588.6" stroke="#ff0000" stroke-opacity="0.7" stroke-width="1" />
<circle cx="515.11" cy="579.5" r="3.4" fill="#ff0000"/>
<line x1="539.39" y1="593.6" x2="539.39" y2="609.4" stroke="#ff0000" stroke-opacity="0.7" stroke-width="1" />
<line x1="537.19" y1="593.6" x2="541.59" y2="593.6" stroke="#ff0000" stroke-opacity="0.7" stroke-width="1" />
<line x1="537.19" y1="609.4" x2="541.59" y2="609.4" stroke="#ff0000" stroke-opacity="0.7" stroke-width="1" />
<circle cx="539.39" cy="601.7" r="3.4" fill="#ff0000"/>
<line x1="561.4" y1="591.5" x2="561.4" y2="605.3" stroke="#ff0000" stroke-opacity="0.7" stroke-width="1" />
<line x1="559.2" y1="591.5" x2="563.6" y2="591.5" stroke="#ff0000" stroke-opacity="0.7" stroke-width="1" />
<line x1="559.2" y1="605.3" x2="563.6" y2="605.3" stroke="#ff0000" stroke-opacity="0.7" stroke-width="1" />
<circle cx="561.4" cy="598.3" r="3.4" fill="#ff0000"/>
<line x1="582.05" y1="617.1" x2="582.05" y2="632.7" stroke="#ff0000" stroke-opacity="0.7" stroke-width="1" />
<line x1="579.85" y1="617.1" x2="584.25" y2="617.1" stroke="#ff0000" stroke-opacity="0.7" stroke-width="1" />
<line x1="579.85" y1="632.7" x2="584.25" y2="632.7" stroke="#ff0000" stroke-opacity="0.7" stroke-width="1" />
<circle cx="582.05" cy="624.9" r="3.4" fill="#ff0000"/>
<line x1="605.4" y1="611.3" x2="605.4" y2="622.9" stroke="#ff0000" stroke-opacity="0.7" stroke-width="1" />
<line x1="603.2" y1="611.3" x2="607.6" y2="611.3" stroke="#ff0000" stroke-opacity="0.7" stroke-width="1" />
<line x1="603.2" y1="622.9" x2="607.6" y2="622.9" stroke="#ff0000" stroke-opacity="0.7" stroke-width="1" />
<circle cx="605.4" cy="617.6" r="3.4" fill="#ff0000"/>
<line x1="628.88" y1="612.6" x2="628.88" y2="629.9" stroke="#ff0000" stroke-opacity="0.7" stroke-width="1" />
<line x1="626.68" y1="612.6" x2="631.08" y2="612.6" stroke="#ff0000" stroke-opacity="0.7" stroke-width="1" />
<line x1="626.68" y1="629.9" x2="631.08" y2="629.9" stroke="#ff0000" stroke-opacity="0.7" stroke-width="1" />
<circle cx="628.88" cy="621.1" r="3.4" fill="#ff0000"/>
<line x1="654.02" y1="620.6" x2="654.02" y2="636.7" stroke="#ff0000" stroke-opacity="0.7" stroke-width="1" />
<line x1="651.82" y1="620.6" x2="656.22" y2="620.6" stroke="#ff0000" stroke-opacity="0.7" stroke-width="1" />
<line x1="651.82" y1="636.7" x2="656.22" y2="636.7" stroke="#ff0000" stroke-opacity="0.7" stroke-width="1" />
<circle cx="654.02" cy="628.6" r="3.4" fill="#ff0000"/>
<line x1="676.63" y1="616.3" x2="676.63" y2="642.7" stroke="#ff0000" stroke-opacity="0.7" stroke-width="1" />
<line x1="674.43" y1="616.3" x2="678.83" y2="616.3" stroke="#ff0000" stroke-opacity="0.7" stroke-width="1" />
<line x1="674.43" y1="642.7" x2="678.83" y2="642.7" stroke="#ff0000" stroke-opacity="0.7" stroke-width="1" />
<circle cx="676.63" cy="629.6" r="3.4" fill="#ff0000"/>
<polyline points="438.4,631 447.5,628.3 456.3,623.1 465,617 475.6,608.2 486.1,595.9 496.6,581.9 505.3,567.9 515.1,549.5 524.6,531.1 533.4,513.6 539.5,502.2" fill="none" stroke="#0000ff" stroke-width="1.35" stroke-linejoin="round" />
<polyline points="438.4,548.6 447,550 454.5,552.1 465,555 477.3,559.1 493.9,567 503.6,572.3 515.1,580.1 524.6,588 533.4,595.6 539.5,602" fill="none" stroke="#ff0000" stroke-width="1.35" stroke-linejoin="round" />
</g>
<g clip-path="url(#cpr-b1)">
<line x1="438.46" y1="708.5" x2="438.46" y2="754.5" stroke="#222" stroke-opacity="0.7" stroke-width="1" />
<line x1="436.26" y1="708.5" x2="440.66" y2="708.5" stroke="#222" stroke-opacity="0.7" stroke-width="1" />
<line x1="436.26" y1="754.5" x2="440.66" y2="754.5" stroke="#222" stroke-opacity="0.7" stroke-width="1" />
<line x1="434.66" y1="731.2" x2="442.26" y2="731.2" stroke="#222" stroke-opacity="0.7" stroke-width="1" />
<circle cx="438.46" cy="731.2" r="3.4" fill="#000"/>
<line x1="454.44" y1="703.6" x2="454.44" y2="758.4" stroke="#222" stroke-opacity="0.7" stroke-width="1" />
<line x1="452.24" y1="703.6" x2="456.64" y2="703.6" stroke="#222" stroke-opacity="0.7" stroke-width="1" />
<line x1="452.24" y1="758.4" x2="456.64" y2="758.4" stroke="#222" stroke-opacity="0.7" stroke-width="1" />
<circle cx="454.44" cy="731.2" r="3.4" fill="#000"/>
<line x1="477.84" y1="686.5" x2="477.84" y2="750.5" stroke="#222" stroke-opacity="0.7" stroke-width="1" />
<line x1="475.64" y1="686.5" x2="480.04" y2="686.5" stroke="#222" stroke-opacity="0.7" stroke-width="1" />
<line x1="475.64" y1="750.5" x2="480.04" y2="750.5" stroke="#222" stroke-opacity="0.7" stroke-width="1" />
<circle cx="477.84" cy="718.2" r="3.4" fill="#000"/>
<line x1="493.62" y1="717.4" x2="493.62" y2="773.8" stroke="#222" stroke-opacity="0.7" stroke-width="1" />
<line x1="491.42" y1="717.4" x2="495.82" y2="717.4" stroke="#222" stroke-opacity="0.7" stroke-width="1" />
<line x1="491.42" y1="773.8" x2="495.82" y2="773.8" stroke="#222" stroke-opacity="0.7" stroke-width="1" />
<circle cx="493.62" cy="745.8" r="3.4" fill="#000"/>
<line x1="515.11" y1="702.4" x2="515.11" y2="763.9" stroke="#222" stroke-opacity="0.7" stroke-width="1" />
<line x1="512.91" y1="702.4" x2="517.31" y2="702.4" stroke="#222" stroke-opacity="0.7" stroke-width="1" />
<line x1="512.91" y1="763.9" x2="517.31" y2="763.9" stroke="#222" stroke-opacity="0.7" stroke-width="1" />
<circle cx="515.11" cy="733.2" r="3.4" fill="#000"/>
<line x1="539.39" y1="688.4" x2="539.39" y2="782.4" stroke="#222" stroke-opacity="0.7" stroke-width="1" />
<line x1="537.19" y1="688.4" x2="541.59" y2="688.4" stroke="#222" stroke-opacity="0.7" stroke-width="1" />
<line x1="537.19" y1="782.4" x2="541.59" y2="782.4" stroke="#222" stroke-opacity="0.7" stroke-width="1" />
<circle cx="539.39" cy="735.1" r="3.4" fill="#000"/>
<rect x="397.5" y="721" width="287.0" height="23.6" fill="rgb(119,119,119)" fill-opacity="0.25"/>
<line x1="397.5" y1="732.4" x2="684.5" y2="732.4" stroke="#333" stroke-width="1.3" />
</g>
<rect x="397.5" y="432.5" width="287.0" height="384.0" fill="none" stroke="#5a5a5a" stroke-width="1.25"/>
<line x1="397.5" y1="648.5" x2="684.5" y2="648.5" stroke="#5a5a5a" stroke-width="1.25" />
</g>
<g id="right-c">
<clipPath id="cpr-c0"><rect x="397.5" y="845.5" width="287.0" height="216.0"/></clipPath>
<clipPath id="cpr-c1"><rect x="397.5" y="1061.5" width="287.0" height="168.0"/></clipPath>
<line x1="397.5" y1="1043.3" x2="413.5" y2="1043.3" stroke="#666" stroke-width="1.25" />
<line x1="397.5" y1="1007.36" x2="413.5" y2="1007.36" stroke="#666" stroke-width="1.25" />
<line x1="397.5" y1="971.42" x2="413.5" y2="971.42" stroke="#666" stroke-width="1.25" />
<line x1="397.5" y1="935.48" x2="413.5" y2="935.48" stroke="#666" stroke-width="1.25" />
<line x1="397.5" y1="899.54" x2="413.5" y2="899.54" stroke="#666" stroke-width="1.25" />
<line x1="397.5" y1="863.6" x2="413.5" y2="863.6" stroke="#666" stroke-width="1.25" />
<line x1="413.5" y1="1043.3" x2="684.5" y2="1043.3" stroke="#222" stroke-width="0.9" stroke-dasharray="2.1,2.2"/>
<line x1="413.5" y1="863.6" x2="684.5" y2="863.6" stroke="#222" stroke-width="0.9" stroke-dasharray="2.1,2.2"/>
<line x1="397.5" y1="1186.32" x2="414.5" y2="1186.32" stroke="#666" stroke-width="1.25" />
<line x1="397.5" y1="1140.26" x2="414.5" y2="1140.26" stroke="#666" stroke-width="1.25" />
<line x1="397.5" y1="1094.2" x2="414.5" y2="1094.2" stroke="#666" stroke-width="1.25" />
<line x1="397.5" y1="1209.35" x2="405.7" y2="1209.35" stroke="#666" stroke-width="1.25" />
<line x1="397.5" y1="1163.29" x2="405.7" y2="1163.29" stroke="#666" stroke-width="1.25" />
<line x1="397.5" y1="1117.23" x2="405.7" y2="1117.23" stroke="#666" stroke-width="1.25" />
<line x1="397.5" y1="1071.17" x2="405.7" y2="1071.17" stroke="#666" stroke-width="1.25" />
<line x1="401.6" y1="1061.5" x2="401.6" y2="1046.5" stroke="#666" stroke-width="1.25" />
<line x1="432.27" y1="1061.5" x2="432.27" y2="1054" stroke="#666" stroke-width="1.25" />
<line x1="450.22" y1="1061.5" x2="450.22" y2="1054" stroke="#666" stroke-width="1.25" />
<line x1="462.95" y1="1061.5" x2="462.95" y2="1054" stroke="#666" stroke-width="1.25" />
<line x1="472.83" y1="1061.5" x2="472.83" y2="1054" stroke="#666" stroke-width="1.25" />
<line x1="480.89" y1="1061.5" x2="480.89" y2="1054" stroke="#666" stroke-width="1.25" />
<line x1="487.72" y1="1061.5" x2="487.72" y2="1054" stroke="#666" stroke-width="1.25" />
<line x1="493.62" y1="1061.5" x2="493.62" y2="1054" stroke="#666" stroke-width="1.25" />
<line x1="498.84" y1="1061.5" x2="498.84" y2="1054" stroke="#666" stroke-width="1.25" />
<line x1="503.5" y1="1061.5" x2="503.5" y2="1046.5" stroke="#666" stroke-width="1.25" />
<line x1="534.17" y1="1061.5" x2="534.17" y2="1054" stroke="#666" stroke-width="1.25" />
<line x1="552.12" y1="1061.5" x2="552.12" y2="1054" stroke="#666" stroke-width="1.25" />
<line x1="564.85" y1="1061.5" x2="564.85" y2="1054" stroke="#666" stroke-width="1.25" />
<line x1="574.73" y1="1061.5" x2="574.73" y2="1054" stroke="#666" stroke-width="1.25" />
<line x1="582.79" y1="1061.5" x2="582.79" y2="1054" stroke="#666" stroke-width="1.25" />
<line x1="589.62" y1="1061.5" x2="589.62" y2="1054" stroke="#666" stroke-width="1.25" />
<line x1="595.52" y1="1061.5" x2="595.52" y2="1054" stroke="#666" stroke-width="1.25" />
<line x1="600.74" y1="1061.5" x2="600.74" y2="1054" stroke="#666" stroke-width="1.25" />
<line x1="605.4" y1="1061.5" x2="605.4" y2="1046.5" stroke="#666" stroke-width="1.25" />
<line x1="636.07" y1="1061.5" x2="636.07" y2="1054" stroke="#666" stroke-width="1.25" />
<line x1="654.02" y1="1061.5" x2="654.02" y2="1054" stroke="#666" stroke-width="1.25" />
<line x1="666.75" y1="1061.5" x2="666.75" y2="1054" stroke="#666" stroke-width="1.25" />
<line x1="676.63" y1="1061.5" x2="676.63" y2="1054" stroke="#666" stroke-width="1.25" />
<line x1="401.6" y1="1229.5" x2="401.6" y2="1214.5" stroke="#666" stroke-width="1.25" />
<line x1="432.27" y1="1229.5" x2="432.27" y2="1222" stroke="#666" stroke-width="1.25" />
<line x1="450.22" y1="1229.5" x2="450.22" y2="1222" stroke="#666" stroke-width="1.25" />
<line x1="462.95" y1="1229.5" x2="462.95" y2="1222" stroke="#666" stroke-width="1.25" />
<line x1="472.83" y1="1229.5" x2="472.83" y2="1222" stroke="#666" stroke-width="1.25" />
<line x1="480.89" y1="1229.5" x2="480.89" y2="1222" stroke="#666" stroke-width="1.25" />
<line x1="487.72" y1="1229.5" x2="487.72" y2="1222" stroke="#666" stroke-width="1.25" />
<line x1="493.62" y1="1229.5" x2="493.62" y2="1222" stroke="#666" stroke-width="1.25" />
<line x1="498.84" y1="1229.5" x2="498.84" y2="1222" stroke="#666" stroke-width="1.25" />
<line x1="503.5" y1="1229.5" x2="503.5" y2="1214.5" stroke="#666" stroke-width="1.25" />
<line x1="534.17" y1="1229.5" x2="534.17" y2="1222" stroke="#666" stroke-width="1.25" />
<line x1="552.12" y1="1229.5" x2="552.12" y2="1222" stroke="#666" stroke-width="1.25" />
<line x1="564.85" y1="1229.5" x2="564.85" y2="1222" stroke="#666" stroke-width="1.25" />
<line x1="574.73" y1="1229.5" x2="574.73" y2="1222" stroke="#666" stroke-width="1.25" />
<line x1="582.79" y1="1229.5" x2="582.79" y2="1222" stroke="#666" stroke-width="1.25" />
<line x1="589.62" y1="1229.5" x2="589.62" y2="1222" stroke="#666" stroke-width="1.25" />
<line x1="595.52" y1="1229.5" x2="595.52" y2="1222" stroke="#666" stroke-width="1.25" />
<line x1="600.74" y1="1229.5" x2="600.74" y2="1222" stroke="#666" stroke-width="1.25" />
<line x1="605.4" y1="1229.5" x2="605.4" y2="1214.5" stroke="#666" stroke-width="1.25" />
<line x1="636.07" y1="1229.5" x2="636.07" y2="1222" stroke="#666" stroke-width="1.25" />
<line x1="654.02" y1="1229.5" x2="654.02" y2="1222" stroke="#666" stroke-width="1.25" />
<line x1="666.75" y1="1229.5" x2="666.75" y2="1222" stroke="#666" stroke-width="1.25" />
<line x1="676.63" y1="1229.5" x2="676.63" y2="1222" stroke="#666" stroke-width="1.25" />
<g clip-path="url(#cpr-c0)">
<line x1="438.46" y1="993.1" x2="438.46" y2="1026.4" stroke="#0000ff" stroke-opacity="0.7" stroke-width="1" />
<line x1="436.26" y1="993.1" x2="440.66" y2="993.1" stroke="#0000ff" stroke-opacity="0.7" stroke-width="1" />
<line x1="436.26" y1="1026.4" x2="440.66" y2="1026.4" stroke="#0000ff" stroke-opacity="0.7" stroke-width="1" />
<line x1="434.66" y1="1009.8" x2="442.26" y2="1009.8" stroke="#0000ff" stroke-opacity="0.7" stroke-width="1" />
<circle cx="438.46" cy="1009.8" r="3.4" fill="#0000ff"/>
<line x1="454.44" y1="919.6" x2="454.44" y2="952.5" stroke="#0000ff" stroke-opacity="0.7" stroke-width="1" />
<line x1="452.24" y1="919.6" x2="456.64" y2="919.6" stroke="#0000ff" stroke-opacity="0.7" stroke-width="1" />
<line x1="452.24" y1="952.5" x2="456.64" y2="952.5" stroke="#0000ff" stroke-opacity="0.7" stroke-width="1" />
<circle cx="454.44" cy="935.8" r="3.4" fill="#0000ff"/>
<line x1="477.84" y1="912.5" x2="477.84" y2="943.4" stroke="#0000ff" stroke-opacity="0.7" stroke-width="1" />
<line x1="475.64" y1="912.5" x2="480.04" y2="912.5" stroke="#0000ff" stroke-opacity="0.7" stroke-width="1" />
<line x1="475.64" y1="943.4" x2="480.04" y2="943.4" stroke="#0000ff" stroke-opacity="0.7" stroke-width="1" />
<circle cx="477.84" cy="928.1" r="3.4" fill="#0000ff"/>
<line x1="493.62" y1="922.2" x2="493.62" y2="951.3" stroke="#0000ff" stroke-opacity="0.7" stroke-width="1" />
<line x1="491.42" y1="922.2" x2="495.82" y2="922.2" stroke="#0000ff" stroke-opacity="0.7" stroke-width="1" />
<line x1="491.42" y1="951.3" x2="495.82" y2="951.3" stroke="#0000ff" stroke-opacity="0.7" stroke-width="1" />
<circle cx="493.62" cy="936.9" r="3.4" fill="#0000ff"/>
<line x1="515.11" y1="865.8" x2="515.11" y2="909.2" stroke="#0000ff" stroke-opacity="0.7" stroke-width="1" />
<line x1="512.91" y1="865.8" x2="517.31" y2="865.8" stroke="#0000ff" stroke-opacity="0.7" stroke-width="1" />
<line x1="512.91" y1="909.2" x2="517.31" y2="909.2" stroke="#0000ff" stroke-opacity="0.7" stroke-width="1" />
<circle cx="515.11" cy="887.3" r="3.4" fill="#0000ff"/>
<line x1="539.39" y1="863.1" x2="539.39" y2="905.5" stroke="#0000ff" stroke-opacity="0.7" stroke-width="1" />
<line x1="537.19" y1="863.1" x2="541.59" y2="863.1" stroke="#0000ff" stroke-opacity="0.7" stroke-width="1" />
<line x1="537.19" y1="905.5" x2="541.59" y2="905.5" stroke="#0000ff" stroke-opacity="0.7" stroke-width="1" />
<circle cx="539.39" cy="884.7" r="3.4" fill="#0000ff"/>
<line x1="561.4" y1="845.5" x2="561.4" y2="884.5" stroke="#0000ff" stroke-opacity="0.7" stroke-width="1" />
<line x1="559.2" y1="845.5" x2="563.6" y2="845.5" stroke="#0000ff" stroke-opacity="0.7" stroke-width="1" />
<line x1="559.2" y1="884.5" x2="563.6" y2="884.5" stroke="#0000ff" stroke-opacity="0.7" stroke-width="1" />
<circle cx="561.4" cy="863.9" r="3.4" fill="#0000ff"/>
<line x1="582.05" y1="863.9" x2="582.05" y2="906.4" stroke="#0000ff" stroke-opacity="0.7" stroke-width="1" />
<line x1="579.85" y1="863.9" x2="584.25" y2="863.9" stroke="#0000ff" stroke-opacity="0.7" stroke-width="1" />
<line x1="579.85" y1="906.4" x2="584.25" y2="906.4" stroke="#0000ff" stroke-opacity="0.7" stroke-width="1" />
<circle cx="582.05" cy="885.5" r="3.4" fill="#0000ff"/>
<line x1="605.4" y1="845.5" x2="605.4" y2="894.3" stroke="#0000ff" stroke-opacity="0.7" stroke-width="1" />
<line x1="603.2" y1="845.5" x2="607.6" y2="845.5" stroke="#0000ff" stroke-opacity="0.7" stroke-width="1" />
<line x1="603.2" y1="894.3" x2="607.6" y2="894.3" stroke="#0000ff" stroke-opacity="0.7" stroke-width="1" />
<circle cx="605.4" cy="869.5" r="3.4" fill="#0000ff"/>
<line x1="628.88" y1="845.5" x2="628.88" y2="896.1" stroke="#0000ff" stroke-opacity="0.7" stroke-width="1" />
<line x1="626.68" y1="845.5" x2="631.08" y2="845.5" stroke="#0000ff" stroke-opacity="0.7" stroke-width="1" />
<line x1="626.68" y1="896.1" x2="631.08" y2="896.1" stroke="#0000ff" stroke-opacity="0.7" stroke-width="1" />
<circle cx="628.88" cy="863.7" r="3.4" fill="#0000ff"/>
<line x1="654.02" y1="845.5" x2="654.02" y2="896.1" stroke="#0000ff" stroke-opacity="0.7" stroke-width="1" />
<line x1="651.82" y1="845.5" x2="656.22" y2="845.5" stroke="#0000ff" stroke-opacity="0.7" stroke-width="1" />
<line x1="651.82" y1="896.1" x2="656.22" y2="896.1" stroke="#0000ff" stroke-opacity="0.7" stroke-width="1" />
<circle cx="654.02" cy="863.7" r="3.4" fill="#0000ff"/>
<line x1="676.63" y1="862.7" x2="676.63" y2="905.4" stroke="#0000ff" stroke-opacity="0.7" stroke-width="1" />
<line x1="674.43" y1="862.7" x2="678.83" y2="862.7" stroke="#0000ff" stroke-opacity="0.7" stroke-width="1" />
<line x1="674.43" y1="905.4" x2="678.83" y2="905.4" stroke="#0000ff" stroke-opacity="0.7" stroke-width="1" />
<circle cx="676.63" cy="884" r="3.4" fill="#0000ff"/>
<line x1="438.46" y1="902.9" x2="438.46" y2="945.5" stroke="#ff0000" stroke-opacity="0.7" stroke-width="1" />
<line x1="436.26" y1="902.9" x2="440.66" y2="902.9" stroke="#ff0000" stroke-opacity="0.7" stroke-width="1" />
<line x1="436.26" y1="945.5" x2="440.66" y2="945.5" stroke="#ff0000" stroke-opacity="0.7" stroke-width="1" />
<line x1="434.66" y1="924.5" x2="442.26" y2="924.5" stroke="#ff0000" stroke-opacity="0.7" stroke-width="1" />
<circle cx="438.46" cy="924.5" r="3.4" fill="#ff0000"/>
<line x1="454.44" y1="982.6" x2="454.44" y2="1012.4" stroke="#ff0000" stroke-opacity="0.7" stroke-width="1" />
<line x1="452.24" y1="982.6" x2="456.64" y2="982.6" stroke="#ff0000" stroke-opacity="0.7" stroke-width="1" />
<line x1="452.24" y1="1012.4" x2="456.64" y2="1012.4" stroke="#ff0000" stroke-opacity="0.7" stroke-width="1" />
<circle cx="454.44" cy="997.5" r="3.4" fill="#ff0000"/>
<line x1="477.84" y1="990.5" x2="477.84" y2="1015.9" stroke="#ff0000" stroke-opacity="0.7" stroke-width="1" />
<line x1="475.64" y1="990.5" x2="480.04" y2="990.5" stroke="#ff0000" stroke-opacity="0.7" stroke-width="1" />
<line x1="475.64" y1="1015.9" x2="480.04" y2="1015.9" stroke="#ff0000" stroke-opacity="0.7" stroke-width="1" />
<circle cx="477.84" cy="1003.3" r="3.4" fill="#ff0000"/>
<line x1="493.62" y1="975.3" x2="493.62" y2="999.8" stroke="#ff0000" stroke-opacity="0.7" stroke-width="1" />
<line x1="491.42" y1="975.3" x2="495.82" y2="975.3" stroke="#ff0000" stroke-opacity="0.7" stroke-width="1" />
<line x1="491.42" y1="999.8" x2="495.82" y2="999.8" stroke="#ff0000" stroke-opacity="0.7" stroke-width="1" />
<circle cx="493.62" cy="987.5" r="3.4" fill="#ff0000"/>
<line x1="515.11" y1="1017.7" x2="515.11" y2="1048" stroke="#ff0000" stroke-opacity="0.7" stroke-width="1" />
<line x1="512.91" y1="1017.7" x2="517.31" y2="1017.7" stroke="#ff0000" stroke-opacity="0.7" stroke-width="1" />
<line x1="512.91" y1="1048" x2="517.31" y2="1048" stroke="#ff0000" stroke-opacity="0.7" stroke-width="1" />
<circle cx="515.11" cy="1032.5" r="3.4" fill="#ff0000"/>
<line x1="539.39" y1="1014.7" x2="539.39" y2="1042.7" stroke="#ff0000" stroke-opacity="0.7" stroke-width="1" />
<line x1="537.19" y1="1014.7" x2="541.59" y2="1014.7" stroke="#ff0000" stroke-opacity="0.7" stroke-width="1" />
<line x1="537.19" y1="1042.7" x2="541.59" y2="1042.7" stroke="#ff0000" stroke-opacity="0.7" stroke-width="1" />
<circle cx="539.39" cy="1028.3" r="3.4" fill="#ff0000"/>
<line x1="561.4" y1="1032.9" x2="561.4" y2="1054.5" stroke="#ff0000" stroke-opacity="0.7" stroke-width="1" />
<line x1="559.2" y1="1032.9" x2="563.6" y2="1032.9" stroke="#ff0000" stroke-opacity="0.7" stroke-width="1" />
<line x1="559.2" y1="1054.5" x2="563.6" y2="1054.5" stroke="#ff0000" stroke-opacity="0.7" stroke-width="1" />
<circle cx="561.4" cy="1043.2" r="3.4" fill="#ff0000"/>
<line x1="582.05" y1="1008.3" x2="582.05" y2="1036.4" stroke="#ff0000" stroke-opacity="0.7" stroke-width="1" />
<line x1="579.85" y1="1008.3" x2="584.25" y2="1008.3" stroke="#ff0000" stroke-opacity="0.7" stroke-width="1" />
<line x1="579.85" y1="1036.4" x2="584.25" y2="1036.4" stroke="#ff0000" stroke-opacity="0.7" stroke-width="1" />
<circle cx="582.05" cy="1022.6" r="3.4" fill="#ff0000"/>
<line x1="605.4" y1="1019.6" x2="605.4" y2="1056" stroke="#ff0000" stroke-opacity="0.7" stroke-width="1" />
<line x1="603.2" y1="1019.6" x2="607.6" y2="1019.6" stroke="#ff0000" stroke-opacity="0.7" stroke-width="1" />
<line x1="603.2" y1="1056" x2="607.6" y2="1056" stroke="#ff0000" stroke-opacity="0.7" stroke-width="1" />
<circle cx="605.4" cy="1037.7" r="3.4" fill="#ff0000"/>
<line x1="628.88" y1="1015.3" x2="628.88" y2="1061.5" stroke="#ff0000" stroke-opacity="0.7" stroke-width="1" />
<line x1="626.68" y1="1015.3" x2="631.08" y2="1015.3" stroke="#ff0000" stroke-opacity="0.7" stroke-width="1" />
<line x1="626.68" y1="1061.5" x2="631.08" y2="1061.5" stroke="#ff0000" stroke-opacity="0.7" stroke-width="1" />
<circle cx="628.88" cy="1043.3" r="3.4" fill="#ff0000"/>
<line x1="654.02" y1="1018.3" x2="654.02" y2="1061.5" stroke="#ff0000" stroke-opacity="0.7" stroke-width="1" />
<line x1="651.82" y1="1018.3" x2="656.22" y2="1018.3" stroke="#ff0000" stroke-opacity="0.7" stroke-width="1" />
<line x1="651.82" y1="1061.5" x2="656.22" y2="1061.5" stroke="#ff0000" stroke-opacity="0.7" stroke-width="1" />
<circle cx="654.02" cy="1043.3" r="3.4" fill="#ff0000"/>
<line x1="676.63" y1="1008.8" x2="676.63" y2="1037.4" stroke="#ff0000" stroke-opacity="0.7" stroke-width="1" />
<line x1="674.43" y1="1008.8" x2="678.83" y2="1008.8" stroke="#ff0000" stroke-opacity="0.7" stroke-width="1" />
<line x1="674.43" y1="1037.4" x2="678.83" y2="1037.4" stroke="#ff0000" stroke-opacity="0.7" stroke-width="1" />
<circle cx="676.63" cy="1023.4" r="3.4" fill="#ff0000"/>
<polyline points="438.4,983.5 444,976.1 449.3,970 456.3,963.9 465,956 477.3,943.7 487.8,930.6 500.1,913.9 515.1,890.3" fill="none" stroke="#0000ff" stroke-width="1.35" stroke-linejoin="round" />
<polyline points="438.4,924.5 454.5,991.3 465,994.5 477.3,998.9 487.8,1003.8 500.1,1012 507.1,1017.3 515.1,1022.6" fill="none" stroke="#ff0000" stroke-width="1.35" stroke-linejoin="round" />
</g>
<g clip-path="url(#cpr-c1)">
<line x1="438.46" y1="1133.4" x2="438.46" y2="1163.1" stroke="#222" stroke-opacity="0.7" stroke-width="1" />
<line x1="436.26" y1="1133.4" x2="440.66" y2="1133.4" stroke="#222" stroke-opacity="0.7" stroke-width="1" />
<line x1="436.26" y1="1163.1" x2="440.66" y2="1163.1" stroke="#222" stroke-opacity="0.7" stroke-width="1" />
<line x1="434.66" y1="1148.4" x2="442.26" y2="1148.4" stroke="#222" stroke-opacity="0.7" stroke-width="1" />
<circle cx="438.46" cy="1148.4" r="3.4" fill="#000"/>
<line x1="454.44" y1="1129.9" x2="454.44" y2="1179.8" stroke="#222" stroke-opacity="0.7" stroke-width="1" />
<line x1="452.24" y1="1129.9" x2="456.64" y2="1129.9" stroke="#222" stroke-opacity="0.7" stroke-width="1" />
<line x1="452.24" y1="1179.8" x2="456.64" y2="1179.8" stroke="#222" stroke-opacity="0.7" stroke-width="1" />
<circle cx="454.44" cy="1154.9" r="3.4" fill="#000"/>
<line x1="477.84" y1="1128.4" x2="477.84" y2="1178.3" stroke="#222" stroke-opacity="0.7" stroke-width="1" />
<line x1="475.64" y1="1128.4" x2="480.04" y2="1128.4" stroke="#222" stroke-opacity="0.7" stroke-width="1" />
<line x1="475.64" y1="1178.3" x2="480.04" y2="1178.3" stroke="#222" stroke-opacity="0.7" stroke-width="1" />
<circle cx="477.84" cy="1153.9" r="3.4" fill="#000"/>
<line x1="493.62" y1="1070.7" x2="493.62" y2="1129.1" stroke="#222" stroke-opacity="0.7" stroke-width="1" />
<line x1="491.42" y1="1070.7" x2="495.82" y2="1070.7" stroke="#222" stroke-opacity="0.7" stroke-width="1" />
<line x1="491.42" y1="1129.1" x2="495.82" y2="1129.1" stroke="#222" stroke-opacity="0.7" stroke-width="1" />
<circle cx="493.62" cy="1099.9" r="3.4" fill="#000"/>
<line x1="515.11" y1="1124" x2="515.11" y2="1229.5" stroke="#222" stroke-opacity="0.7" stroke-width="1" />
<line x1="512.91" y1="1124" x2="517.31" y2="1124" stroke="#222" stroke-opacity="0.7" stroke-width="1" />
<line x1="512.91" y1="1229.5" x2="517.31" y2="1229.5" stroke="#222" stroke-opacity="0.7" stroke-width="1" />
<circle cx="515.11" cy="1187.5" r="3.4" fill="#000"/>
<rect x="397.5" y="1119.9" width="287.0" height="50.4" fill="rgb(119,119,119)" fill-opacity="0.25"/>
<line x1="397.5" y1="1145.4" x2="684.5" y2="1145.4" stroke="#333" stroke-width="1.3" />
</g>
<rect x="397.5" y="845.5" width="287.0" height="384.0" fill="none" stroke="#5a5a5a" stroke-width="1.25"/>
<line x1="397.5" y1="1061.5" x2="684.5" y2="1061.5" stroke="#5a5a5a" stroke-width="1.25" />
</g>
</svg>
<svg id="t" width="685" height="1277" viewBox="0 0 685 1277">
<text transform="translate(72,147.9) scale(0.95,1)" font-size="19.8" text-anchor="end" font-weight="normal">0</text>
<text transform="translate(72,98.2) scale(0.95,1)" font-size="19.8" text-anchor="end" font-weight="normal">20</text>
<text transform="translate(72,48.5) scale(0.95,1)" font-size="19.8" text-anchor="end" font-weight="normal">40</text>
<text transform="translate(242.6,47) scale(0.975,1)" font-size="16.5" text-anchor="start" font-weight="normal" word-spacing="1.0">d = 56 µm</text>
<text transform="translate(243.9,64.7) scale(0.974,1)" font-size="16.5" text-anchor="start" font-weight="normal">R = 0.71</text>
<text transform="translate(72,281.9) scale(0.95,1)" font-size="19.8" text-anchor="end" font-weight="normal">0</text>
<text transform="translate(72,232) scale(0.95,1)" font-size="19.8" text-anchor="end" font-weight="normal">20</text>
<text transform="translate(72,182.1) scale(0.95,1)" font-size="19.8" text-anchor="end" font-weight="normal">40</text>
<text transform="translate(242.6,180) scale(0.975,1)" font-size="16.5" text-anchor="start" font-weight="normal" word-spacing="1.0">d = 80 µm</text>
<text transform="translate(243.9,197.1) scale(0.974,1)" font-size="16.5" text-anchor="start" font-weight="normal">R = 0.39</text>
<text transform="translate(72,402) scale(0.95,1)" font-size="19.8" text-anchor="end" font-weight="normal">0</text>
<text transform="translate(72,357.85) scale(0.95,1)" font-size="19.8" text-anchor="end" font-weight="normal">20</text>
<text transform="translate(72,313.7) scale(0.95,1)" font-size="19.8" text-anchor="end" font-weight="normal">40</text>
<text transform="translate(242.6,310.8) scale(0.975,1)" font-size="16.5" text-anchor="start" font-weight="normal" word-spacing="1.0">d = 130 µm</text>
<text transform="translate(243.9,327.8) scale(0.974,1)" font-size="16.5" text-anchor="start" font-weight="normal">R = 0.23</text>
<text transform="translate(149.6,423.4) scale(0.95,1)" font-size="19.8" text-anchor="middle" font-weight="normal">760</text>
<text transform="translate(231.45,423.4) scale(0.95,1)" font-size="19.8" text-anchor="middle" font-weight="normal">780</text>
<text transform="translate(313.3,423.4) scale(0.95,1)" font-size="19.8" text-anchor="middle" font-weight="normal">800</text>
<text transform="translate(72,551.6) scale(0.95,1)" font-size="19.8" text-anchor="end" font-weight="normal">400</text>
<text transform="translate(72,506.85) scale(0.95,1)" font-size="19.8" text-anchor="end" font-weight="normal">600</text>
<text transform="translate(72,462.1) scale(0.95,1)" font-size="19.8" text-anchor="end" font-weight="normal">800</text>
<text transform="translate(248.8,460.4)" font-size="16.5" text-anchor="start" font-weight="normal" word-spacing="0.15">d = 80 µm</text>
<text transform="translate(249.7,476.1) scale(0.98,1)" font-size="16.5" text-anchor="start" font-weight="normal">R = 0.67</text>
<text transform="translate(72,685.2) scale(0.95,1)" font-size="19.8" text-anchor="end" font-weight="normal">400</text>
<text transform="translate(72,640.7) scale(0.95,1)" font-size="19.8" text-anchor="end" font-weight="normal">600</text>
<text transform="translate(72,596.2) scale(0.95,1)" font-size="19.8" text-anchor="end" font-weight="normal">800</text>
<text transform="translate(248.8,594.6)" font-size="16.5" text-anchor="start" font-weight="normal" word-spacing="0.15">d = 130 µm</text>
<text transform="translate(249.7,610.1) scale(0.98,1)" font-size="16.5" text-anchor="start" font-weight="normal">R = 0.55</text>
<text transform="translate(72,807.6) scale(0.95,1)" font-size="19.8" text-anchor="end" font-weight="normal">400</text>
<text transform="translate(72,767.5) scale(0.95,1)" font-size="19.8" text-anchor="end" font-weight="normal">600</text>
<text transform="translate(72,727.4) scale(0.95,1)" font-size="19.8" text-anchor="end" font-weight="normal">800</text>
<text transform="translate(248.8,725.2)" font-size="16.5" text-anchor="start" font-weight="normal" word-spacing="0.15">d = 225 µm</text>
<text transform="translate(249.7,742.3) scale(0.98,1)" font-size="16.5" text-anchor="start" font-weight="normal">R = 0.28</text>
<text transform="translate(87.8,836.3) scale(0.95,1)" font-size="19.8" text-anchor="middle" font-weight="normal">1140</text>
<text transform="translate(175.5,836.3) scale(0.95,1)" font-size="19.8" text-anchor="middle" font-weight="normal">1160</text>
<text transform="translate(263.2,836.3) scale(0.95,1)" font-size="19.8" text-anchor="middle" font-weight="normal">1180</text>
<text transform="translate(72,933.9) scale(0.95,1)" font-size="19.8" text-anchor="end" font-weight="normal">300</text>
<text transform="translate(72,876.2) scale(0.95,1)" font-size="19.8" text-anchor="end" font-weight="normal">400</text>
<text transform="translate(248.8,875.4)" font-size="16.5" text-anchor="start" font-weight="normal" word-spacing="0.15">d = 23 µm</text>
<text transform="translate(249.7,891.5) scale(0.98,1)" font-size="16.5" text-anchor="start" font-weight="normal">R = 0.83</text>
<text transform="translate(72,1068.8) scale(0.95,1)" font-size="19.8" text-anchor="end" font-weight="normal">300</text>
<text transform="translate(72,1010.4) scale(0.95,1)" font-size="19.8" text-anchor="end" font-weight="normal">400</text>
<text transform="translate(248.8,1009.2)" font-size="16.5" text-anchor="start" font-weight="normal" word-spacing="0.15">d = 56 µm</text>
<text transform="translate(249.7,1025.5) scale(0.98,1)" font-size="16.5" text-anchor="start" font-weight="normal">R = 0.35</text>
<text transform="translate(72,1221.6) scale(0.95,1)" font-size="19.8" text-anchor="end" font-weight="normal">300</text>
<text transform="translate(72,1178) scale(0.95,1)" font-size="19.8" text-anchor="end" font-weight="normal">400</text>
<text transform="translate(72,1134.4) scale(0.95,1)" font-size="19.8" text-anchor="end" font-weight="normal">500</text>
<text transform="translate(248.8,1141.4)" font-size="16.5" text-anchor="start" font-weight="normal" word-spacing="0.15">d = 130 µm</text>
<text transform="translate(249.7,1157.7) scale(0.98,1)" font-size="16.5" text-anchor="start" font-weight="normal">R = 0.14</text>
<text transform="translate(103.4,1249.5) scale(0.95,1)" font-size="19.8" text-anchor="middle" font-weight="normal">1250</text>
<text transform="translate(249.2,1249.5) scale(0.95,1)" font-size="19.8" text-anchor="middle" font-weight="normal">1300</text>
<text transform="translate(-0.3,16.2) scale(0.9,1)" font-size="30" text-anchor="start" font-weight="bold">a</text>
<text transform="translate(-1.8,428.6) scale(0.95,1)" font-size="29.5" text-anchor="start" font-weight="bold">b</text>
<text transform="translate(-0.6,842.3) scale(0.95,1)" font-size="29.5" text-anchor="start" font-weight="bold">c</text>
<text transform="translate(33.2,19.3) rotate(-90)" font-size="20.8" text-anchor="end" font-weight="normal">Counts / keV</text>
<text transform="translate(33.2,432.7) rotate(-90)" font-size="20.8" text-anchor="end" font-weight="normal">Counts / keV</text>
<text transform="translate(33.2,846) rotate(-90)" font-size="20.8" text-anchor="end" font-weight="normal">Counts / keV</text>
<text transform="translate(338,1271.6) scale(1.017,1)" font-size="19.5" text-anchor="end" font-weight="normal">Energy [keV]</text>
<text transform="translate(394.5,222.4) scale(0.95,1)" font-size="18.0" text-anchor="end" font-weight="normal">0</text>
<text transform="translate(394.5,186.52) scale(0.95,1)" font-size="18.0" text-anchor="end" font-weight="normal">0.2</text>
<text transform="translate(394.5,150.64) scale(0.95,1)" font-size="18.0" text-anchor="end" font-weight="normal">0.4</text>
<text transform="translate(394.5,114.76) scale(0.95,1)" font-size="18.0" text-anchor="end" font-weight="normal">0.6</text>
<text transform="translate(394.5,78.88) scale(0.95,1)" font-size="18.0" text-anchor="end" font-weight="normal">0.8</text>
<text transform="translate(394.5,43) scale(0.95,1)" font-size="18.0" text-anchor="end" font-weight="normal">1</text>
<text transform="translate(394.5,379.8) scale(0.95,1)" font-size="18.0" text-anchor="end" font-weight="normal">4</text>
<text transform="translate(394.5,319.2) scale(0.95,1)" font-size="18.0" text-anchor="end" font-weight="normal">6</text>
<text transform="translate(394.5,258.6) scale(0.95,1)" font-size="18.0" text-anchor="end" font-weight="normal">8</text>
<text transform="translate(369.5,17.7) rotate(-90)" font-size="18.5" text-anchor="end" font-weight="normal">R</text>
<text transform="translate(368.2,240.3) rotate(-90)" font-size="20.2" text-anchor="end" font-weight="normal"><tspan font-family="Liberation Serif" font-size="1.1em">τ</tspan> [ps]</text>
<text transform="translate(401.6,424.4) scale(0.95,1)" font-size="18.0" text-anchor="middle" font-weight="normal">10</text>
<text transform="translate(500.5,424.4) scale(0.95,1)" font-size="18.0" text-anchor="middle" font-weight="normal">10</text>
<text transform="translate(509.5,415) scale(0.95,1)" font-size="11.5" text-anchor="start" font-weight="normal">2</text>
<text transform="translate(602.4,424.4) scale(0.95,1)" font-size="18.0" text-anchor="middle" font-weight="normal">10</text>
<text transform="translate(611.4,415) scale(0.95,1)" font-size="11.5" text-anchor="start" font-weight="normal">3</text>
<text transform="translate(667.3,267.7) scale(0.975,1)" font-size="17.5" text-anchor="end" font-weight="normal"><tspan font-family="Liberation Serif" font-size="1.1em">τ</tspan> = 5.8(4) ps</text>
<text transform="translate(394.5,637.4) scale(0.95,1)" font-size="18.0" text-anchor="end" font-weight="normal">0</text>
<text transform="translate(394.5,601.42) scale(0.95,1)" font-size="18.0" text-anchor="end" font-weight="normal">0.2</text>
<text transform="translate(394.5,565.44) scale(0.95,1)" font-size="18.0" text-anchor="end" font-weight="normal">0.4</text>
<text transform="translate(394.5,529.46) scale(0.95,1)" font-size="18.0" text-anchor="end" font-weight="normal">0.6</text>
<text transform="translate(394.5,493.48) scale(0.95,1)" font-size="18.0" text-anchor="end" font-weight="normal">0.8</text>
<text transform="translate(394.5,457.5) scale(0.95,1)" font-size="18.0" text-anchor="end" font-weight="normal">1</text>
<text transform="translate(394.5,813.08) scale(0.95,1)" font-size="18.0" text-anchor="end" font-weight="normal">4</text>
<text transform="translate(394.5,762.5) scale(0.95,1)" font-size="18.0" text-anchor="end" font-weight="normal">6</text>
<text transform="translate(394.5,711.92) scale(0.95,1)" font-size="18.0" text-anchor="end" font-weight="normal">8</text>
<text transform="translate(394.5,661.34) scale(0.95,1)" font-size="18.0" text-anchor="end" font-weight="normal">10</text>
<text transform="translate(369.5,431.7) rotate(-90)" font-size="18.5" text-anchor="end" font-weight="normal">R</text>
<text transform="translate(368.2,654.3) rotate(-90)" font-size="20.2" text-anchor="end" font-weight="normal"><tspan font-family="Liberation Serif" font-size="1.1em">τ</tspan> [ps]</text>
<text transform="translate(401.6,837.7) scale(0.95,1)" font-size="18.0" text-anchor="middle" font-weight="normal">10</text>
<text transform="translate(500.5,837.7) scale(0.95,1)" font-size="18.0" text-anchor="middle" font-weight="normal">10</text>
<text transform="translate(509.5,828.3) scale(0.95,1)" font-size="11.5" text-anchor="start" font-weight="normal">2</text>
<text transform="translate(602.4,837.7) scale(0.95,1)" font-size="18.0" text-anchor="middle" font-weight="normal">10</text>
<text transform="translate(611.4,828.3) scale(0.95,1)" font-size="11.5" text-anchor="start" font-weight="normal">3</text>
<text transform="translate(667.3,679) scale(0.975,1)" font-size="17.5" text-anchor="end" font-weight="normal"><tspan font-family="Liberation Serif" font-size="1.1em">τ</tspan> = 6.9(5) ps</text>
<text transform="translate(394.5,1049.7) scale(0.95,1)" font-size="18.0" text-anchor="end" font-weight="normal">0</text>
<text transform="translate(394.5,1013.76) scale(0.95,1)" font-size="18.0" text-anchor="end" font-weight="normal">0.2</text>
<text transform="translate(394.5,977.82) scale(0.95,1)" font-size="18.0" text-anchor="end" font-weight="normal">0.4</text>
<text transform="translate(394.5,941.88) scale(0.95,1)" font-size="18.0" text-anchor="end" font-weight="normal">0.6</text>
<text transform="translate(394.5,905.94) scale(0.95,1)" font-size="18.0" text-anchor="end" font-weight="normal">0.8</text>
<text transform="translate(394.5,870) scale(0.95,1)" font-size="18.0" text-anchor="end" font-weight="normal">1</text>
<text transform="translate(394.5,1192.72) scale(0.95,1)" font-size="18.0" text-anchor="end" font-weight="normal">2</text>
<text transform="translate(394.5,1146.66) scale(0.95,1)" font-size="18.0" text-anchor="end" font-weight="normal">4</text>
<text transform="translate(394.5,1100.6) scale(0.95,1)" font-size="18.0" text-anchor="end" font-weight="normal">6</text>
<text transform="translate(369.5,844.7) rotate(-90)" font-size="18.5" text-anchor="end" font-weight="normal">R</text>
<text transform="translate(368.2,1067.3) rotate(-90)" font-size="20.2" text-anchor="end" font-weight="normal"><tspan font-family="Liberation Serif" font-size="1.1em">τ</tspan> [ps]</text>
<text transform="translate(401.6,1250.5) scale(0.95,1)" font-size="18.0" text-anchor="middle" font-weight="normal">10</text>
<text transform="translate(500.5,1250.5) scale(0.95,1)" font-size="18.0" text-anchor="middle" font-weight="normal">10</text>
<text transform="translate(509.5,1241.1) scale(0.95,1)" font-size="11.5" text-anchor="start" font-weight="normal">2</text>
<text transform="translate(602.4,1250.5) scale(0.95,1)" font-size="18.0" text-anchor="middle" font-weight="normal">10</text>
<text transform="translate(611.4,1241.1) scale(0.95,1)" font-size="11.5" text-anchor="start" font-weight="normal">3</text>
<text transform="translate(667.3,1097.1) scale(0.975,1)" font-size="17.5" text-anchor="end" font-weight="normal"><tspan font-family="Liberation Serif" font-size="1.1em">τ</tspan> = 3.8(11) ps</text>
<text transform="translate(680.8,1271.8) scale(1.045,1)" font-size="19.5" text-anchor="end" font-weight="normal">Distance [µm]</text>
</svg></body></html>
